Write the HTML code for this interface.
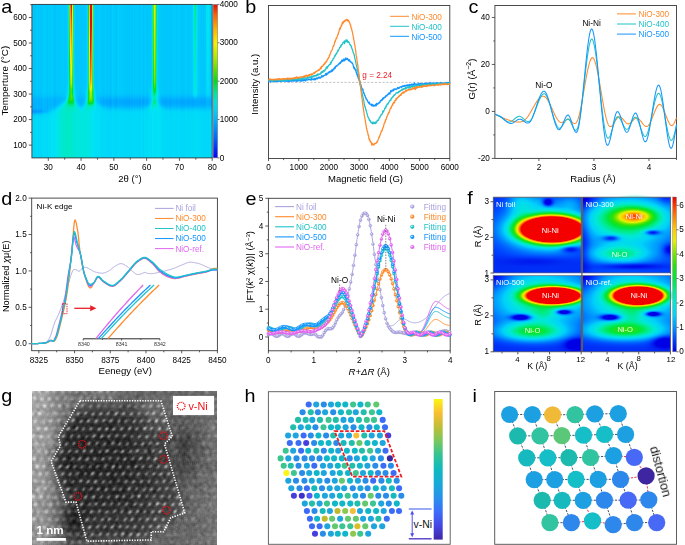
<!DOCTYPE html>
<html><head><meta charset="utf-8"><style>
html,body{margin:0;padding:0;background:#fff;}
#wrap{position:relative;width:685px;height:545px;overflow:hidden;background:#fff;}
canvas{position:absolute;}
svg{position:absolute;left:0;top:0;}
svg text{font-family:"Liberation Sans", sans-serif;}
</style></head><body><div id="wrap">
<svg width="685" height="545" style="position:absolute;left:0;top:0">
<defs>
<linearGradient id="fbA" x1="0" y1="0" x2="0" y2="1"><stop offset="0" stop-color="#00b9ff"/><stop offset="0.58" stop-color="#00b4fd"/><stop offset="0.62" stop-color="#00a0fa"/><stop offset="0.74" stop-color="#0098f8"/><stop offset="0.78" stop-color="#00d4f4"/><stop offset="1" stop-color="#00d8f4"/></linearGradient>
<radialGradient id="fbR"><stop offset="0" stop-color="#f00"/><stop offset="0.55" stop-color="#f00"/><stop offset="0.65" stop-color="#ff0"/><stop offset="0.75" stop-color="#0e0"/><stop offset="0.88" stop-color="#0ee"/><stop offset="1" stop-color="#0ee" stop-opacity="0"/></radialGradient>
<radialGradient id="fbO"><stop offset="0" stop-color="#f80"/><stop offset="0.3" stop-color="#fd0"/><stop offset="0.6" stop-color="#0e0"/><stop offset="1" stop-color="#0ee" stop-opacity="0"/></radialGradient>
</defs>
<rect x="32" y="4.4" width="180.2" height="153.5" fill="url(#fbA)"/>
<rect x="69.8" y="4.4" width="2" height="95" fill="#f0c000"/><rect x="89.3" y="4.4" width="2" height="95" fill="#f03000"/><rect x="153.9" y="4.4" width="2" height="95" fill="#b0e000"/>
<rect x="493.3" y="197.2" width="177.1" height="154.6" fill="#0a6cff"/>
<ellipse cx="553" cy="229.3" rx="48" ry="21" fill="url(#fbR)"/>
<ellipse cx="635" cy="216" rx="40" ry="22" fill="url(#fbO)"/>
<ellipse cx="552" cy="295.5" rx="38" ry="15" fill="url(#fbR)"/>
<ellipse cx="638" cy="295.5" rx="36" ry="16" fill="url(#fbR)"/>
<rect x="32" y="391" width="185" height="154" fill="#6e6e6e"/>
<path d="M79.9,400.8 L160.9,400.8 L172.3,436.5 L164.5,444.0 L184.7,513.0 L170.7,517.7 L163.7,531.8 L151.2,531.8 L151.2,539.9 L86.9,541.2 L76.0,502.1 L65.9,502.1 L51.1,461.4 L60.4,445.8 L58.4,436.5 Z" fill="#3c3c3c"/>
</svg>
<canvas id="cA" width="180" height="154" style="left:32px;top:4px"></canvas>
<canvas id="cF" width="178" height="155" style="left:493px;top:197px"></canvas>
<canvas id="cG" width="185" height="154" style="left:32px;top:391px"></canvas>
<svg width="685" height="545" viewBox="0 0 685 545">
<defs><filter id="rough" x="-10%" y="-10%" width="120%" height="120%"><feTurbulence type="fractalNoise" baseFrequency="0.9" numOctaves="1" seed="3" result="n"/><feDisplacementMap in="SourceGraphic" in2="n" scale="1.4" xChannelSelector="R" yChannelSelector="G"/></filter></defs>
<rect x="31.90" y="4.40" width="180.30" height="153.50" fill="none" stroke="#3a3a3a" stroke-width="0.9" />
<line x1="28.80" y1="145.13" x2="31.90" y2="145.13" stroke="#333" stroke-width="0.8" />
<text x="26.90" y="147.88" font-size="8.2" text-anchor="end" fill="#000" >100</text>
<line x1="28.80" y1="119.60" x2="31.90" y2="119.60" stroke="#333" stroke-width="0.8" />
<text x="26.90" y="122.35" font-size="8.2" text-anchor="end" fill="#000" >200</text>
<line x1="28.80" y1="94.07" x2="31.90" y2="94.07" stroke="#333" stroke-width="0.8" />
<text x="26.90" y="96.82" font-size="8.2" text-anchor="end" fill="#000" >300</text>
<line x1="28.80" y1="68.53" x2="31.90" y2="68.53" stroke="#333" stroke-width="0.8" />
<text x="26.90" y="71.28" font-size="8.2" text-anchor="end" fill="#000" >400</text>
<line x1="28.80" y1="43.00" x2="31.90" y2="43.00" stroke="#333" stroke-width="0.8" />
<text x="26.90" y="45.75" font-size="8.2" text-anchor="end" fill="#000" >500</text>
<line x1="28.80" y1="17.47" x2="31.90" y2="17.47" stroke="#333" stroke-width="0.8" />
<text x="26.90" y="20.22" font-size="8.2" text-anchor="end" fill="#000" >600</text>
<line x1="30.10" y1="132.37" x2="31.90" y2="132.37" stroke="#333" stroke-width="0.8" />
<line x1="30.10" y1="106.83" x2="31.90" y2="106.83" stroke="#333" stroke-width="0.8" />
<line x1="30.10" y1="81.30" x2="31.90" y2="81.30" stroke="#333" stroke-width="0.8" />
<line x1="30.10" y1="55.77" x2="31.90" y2="55.77" stroke="#333" stroke-width="0.8" />
<line x1="30.10" y1="30.23" x2="31.90" y2="30.23" stroke="#333" stroke-width="0.8" />
<line x1="30.10" y1="4.70" x2="31.90" y2="4.70" stroke="#333" stroke-width="0.8" />
<line x1="48.29" y1="157.90" x2="48.29" y2="160.90" stroke="#333" stroke-width="0.8" />
<text x="48.29" y="170.10" font-size="8.2" text-anchor="middle" fill="#000" >30</text>
<line x1="81.07" y1="157.90" x2="81.07" y2="160.90" stroke="#333" stroke-width="0.8" />
<text x="81.07" y="170.10" font-size="8.2" text-anchor="middle" fill="#000" >40</text>
<line x1="113.85" y1="157.90" x2="113.85" y2="160.90" stroke="#333" stroke-width="0.8" />
<text x="113.85" y="170.10" font-size="8.2" text-anchor="middle" fill="#000" >50</text>
<line x1="146.64" y1="157.90" x2="146.64" y2="160.90" stroke="#333" stroke-width="0.8" />
<text x="146.64" y="170.10" font-size="8.2" text-anchor="middle" fill="#000" >60</text>
<line x1="179.42" y1="157.90" x2="179.42" y2="160.90" stroke="#333" stroke-width="0.8" />
<text x="179.42" y="170.10" font-size="8.2" text-anchor="middle" fill="#000" >70</text>
<line x1="212.20" y1="157.90" x2="212.20" y2="160.90" stroke="#333" stroke-width="0.8" />
<text x="212.20" y="170.10" font-size="8.2" text-anchor="middle" fill="#000" >80</text>
<line x1="64.68" y1="157.90" x2="64.68" y2="159.70" stroke="#333" stroke-width="0.8" />
<line x1="97.46" y1="157.90" x2="97.46" y2="159.70" stroke="#333" stroke-width="0.8" />
<line x1="130.25" y1="157.90" x2="130.25" y2="159.70" stroke="#333" stroke-width="0.8" />
<line x1="163.03" y1="157.90" x2="163.03" y2="159.70" stroke="#333" stroke-width="0.8" />
<line x1="195.81" y1="157.90" x2="195.81" y2="159.70" stroke="#333" stroke-width="0.8" />
<text x="130.00" y="182.00" font-size="9.5" text-anchor="middle" fill="#000" >2θ (°)</text>
<text x="8.00" y="80.70" font-size="9.8" text-anchor="middle" fill="#000" transform="rotate(-90 8.00 80.70)" >Temperture (°C)</text>
<defs><linearGradient id="cbA" x1="0" y1="1" x2="0" y2="0"><stop offset="0.0000" stop-color="rgb(0, 0, 255)"/><stop offset="0.1250" stop-color="rgb(0, 100, 255)"/><stop offset="0.2500" stop-color="rgb(0, 180, 255)"/><stop offset="0.3125" stop-color="rgb(0, 210, 245)"/><stop offset="0.3625" stop-color="rgb(0, 225, 220)"/><stop offset="0.4250" stop-color="rgb(0, 230, 150)"/><stop offset="0.5000" stop-color="rgb(0, 220, 30)"/><stop offset="0.5750" stop-color="rgb(90, 225, 0)"/><stop offset="0.6500" stop-color="rgb(170, 235, 0)"/><stop offset="0.7500" stop-color="rgb(250, 240, 0)"/><stop offset="0.8500" stop-color="rgb(255, 170, 0)"/><stop offset="0.9375" stop-color="rgb(250, 90, 0)"/><stop offset="1.0000" stop-color="rgb(230, 10, 0)"/></linearGradient></defs>
<rect x="213.10" y="4.40" width="4.60" height="153.50" fill="url(#cbA)" stroke="#888" stroke-width="0.6" />
<line x1="217.70" y1="157.90" x2="219.50" y2="157.90" stroke="#333" stroke-width="0.7" />
<text x="219.70" y="160.50" font-size="8.2" text-anchor="start" fill="#000" >0</text>
<line x1="217.70" y1="119.53" x2="219.50" y2="119.53" stroke="#333" stroke-width="0.7" />
<text x="219.70" y="122.12" font-size="8.2" text-anchor="start" fill="#000" >1000</text>
<line x1="217.70" y1="81.15" x2="219.50" y2="81.15" stroke="#333" stroke-width="0.7" />
<text x="219.70" y="83.75" font-size="8.2" text-anchor="start" fill="#000" >2000</text>
<line x1="217.70" y1="42.78" x2="219.50" y2="42.78" stroke="#333" stroke-width="0.7" />
<text x="219.70" y="45.38" font-size="8.2" text-anchor="start" fill="#000" >3000</text>
<line x1="217.70" y1="4.40" x2="219.50" y2="4.40" stroke="#333" stroke-width="0.7" />
<text x="219.70" y="7.00" font-size="8.2" text-anchor="start" fill="#000" >4000</text>
<text x="0.00" y="0.00" font-size="18.0" text-anchor="start" fill="#000" transform="translate(1.3,12.8) scale(1.1,1)">a</text>
<rect x="268.50" y="5.50" width="181.30" height="153.00" fill="none" stroke="#3a3a3a" stroke-width="0.9" />
<line x1="268.50" y1="158.50" x2="268.50" y2="161.10" stroke="#333" stroke-width="0.8" />
<text x="268.50" y="170.10" font-size="8.2" text-anchor="middle" fill="#000" >0</text>
<line x1="298.72" y1="158.50" x2="298.72" y2="161.10" stroke="#333" stroke-width="0.8" />
<text x="298.72" y="170.10" font-size="8.2" text-anchor="middle" fill="#000" >1000</text>
<line x1="328.93" y1="158.50" x2="328.93" y2="161.10" stroke="#333" stroke-width="0.8" />
<text x="328.93" y="170.10" font-size="8.2" text-anchor="middle" fill="#000" >2000</text>
<line x1="359.15" y1="158.50" x2="359.15" y2="161.10" stroke="#333" stroke-width="0.8" />
<text x="359.15" y="170.10" font-size="8.2" text-anchor="middle" fill="#000" >3000</text>
<line x1="389.37" y1="158.50" x2="389.37" y2="161.10" stroke="#333" stroke-width="0.8" />
<text x="389.37" y="170.10" font-size="8.2" text-anchor="middle" fill="#000" >4000</text>
<line x1="419.58" y1="158.50" x2="419.58" y2="161.10" stroke="#333" stroke-width="0.8" />
<text x="419.58" y="170.10" font-size="8.2" text-anchor="middle" fill="#000" >5000</text>
<line x1="449.80" y1="158.50" x2="449.80" y2="161.10" stroke="#333" stroke-width="0.8" />
<text x="449.80" y="170.10" font-size="8.2" text-anchor="middle" fill="#000" >6000</text>
<line x1="283.61" y1="158.50" x2="283.61" y2="160.10" stroke="#333" stroke-width="0.8" />
<line x1="313.82" y1="158.50" x2="313.82" y2="160.10" stroke="#333" stroke-width="0.8" />
<line x1="344.04" y1="158.50" x2="344.04" y2="160.10" stroke="#333" stroke-width="0.8" />
<line x1="374.26" y1="158.50" x2="374.26" y2="160.10" stroke="#333" stroke-width="0.8" />
<line x1="404.48" y1="158.50" x2="404.48" y2="160.10" stroke="#333" stroke-width="0.8" />
<line x1="434.69" y1="158.50" x2="434.69" y2="160.10" stroke="#333" stroke-width="0.8" />
<line x1="268.50" y1="82.40" x2="449.80" y2="82.40" stroke="#999" stroke-width="0.6" stroke-dasharray="2.2,1.6"/>
<path d="M268.50,81.88 L268.76,80.02 L269.02,81.23 L269.28,80.83 L269.54,80.88 L269.80,80.97 L270.06,80.24 L270.32,80.97 L270.57,80.71 L270.83,82.42 L271.09,81.15 L271.35,80.92 L271.61,80.94 L271.87,80.79 L272.13,80.63 L272.39,80.90 L272.65,81.26 L272.91,80.96 L273.17,81.45 L273.43,80.97 L273.69,81.06 L273.95,81.69 L274.21,81.28 L274.47,80.84 L274.72,80.97 L274.98,81.27 L275.24,81.85 L275.50,80.93 L275.76,80.94 L276.02,81.46 L276.28,80.67 L276.54,80.92 L276.80,81.40 L277.06,81.28 L277.32,81.07 L277.58,81.31 L277.84,79.84 L278.10,81.45 L278.36,80.62 L278.62,80.32 L278.87,81.13 L279.13,81.31 L279.39,80.82 L279.65,80.55 L279.91,81.02 L280.17,80.98 L280.43,81.59 L280.69,81.31 L280.95,81.07 L281.21,81.46 L281.47,80.90 L281.73,80.58 L281.99,81.23 L282.25,81.22 L282.51,80.88 L282.77,80.63 L283.02,81.06 L283.28,79.88 L283.54,81.25 L283.80,81.16 L284.06,80.23 L284.32,80.96 L284.58,80.51 L284.84,81.25 L285.10,80.04 L285.36,80.52 L285.62,81.22 L285.88,81.41 L286.14,79.96 L286.40,80.67 L286.66,81.03 L286.92,80.61 L287.17,81.57 L287.43,80.34 L287.69,81.02 L287.95,80.39 L288.21,81.47 L288.47,80.83 L288.73,80.67 L288.99,80.06 L289.25,81.56 L289.51,81.14 L289.77,81.14 L290.03,81.30 L290.29,80.94 L290.55,80.49 L290.81,80.41 L291.07,80.40 L291.32,81.37 L291.58,80.09 L291.84,80.47 L292.10,80.58 L292.36,80.82 L292.62,80.97 L292.88,80.13 L293.14,79.90 L293.40,80.67 L293.66,81.22 L293.92,81.00 L294.18,80.74 L294.44,80.49 L294.70,80.76 L294.96,80.50 L295.22,80.98 L295.47,80.22 L295.73,80.64 L295.99,80.52 L296.25,80.81 L296.51,80.65 L296.77,81.71 L297.03,81.21 L297.29,81.20 L297.55,79.54 L297.81,80.32 L298.07,80.18 L298.33,80.70 L298.59,79.36 L298.85,80.97 L299.11,80.91 L299.37,79.78 L299.62,79.91 L299.88,79.98 L300.14,80.36 L300.40,80.63 L300.66,81.29 L300.92,80.20 L301.18,80.65 L301.44,80.34 L301.70,81.09 L301.96,80.58 L302.22,80.87 L302.48,79.67 L302.74,80.08 L303.00,79.76 L303.26,80.86 L303.52,80.43 L303.77,79.94 L304.03,79.85 L304.29,80.29 L304.55,79.69 L304.81,79.55 L305.07,80.22 L305.33,81.17 L305.59,79.82 L305.85,79.64 L306.11,79.31 L306.37,79.21 L306.63,80.10 L306.89,80.24 L307.15,79.79 L307.41,79.93 L307.66,79.79 L307.92,79.78 L308.18,78.92 L308.44,79.42 L308.70,79.68 L308.96,79.20 L309.22,79.32 L309.48,79.12 L309.74,79.33 L310.00,79.90 L310.26,79.23 L310.52,79.32 L310.78,79.78 L311.04,79.66 L311.30,80.16 L311.56,78.18 L311.81,79.66 L312.07,78.93 L312.33,79.21 L312.59,79.53 L312.85,79.62 L313.11,79.55 L313.37,79.05 L313.63,79.76 L313.89,78.73 L314.15,78.75 L314.41,79.20 L314.67,78.44 L314.93,79.81 L315.19,79.16 L315.45,79.72 L315.71,78.50 L315.96,78.26 L316.22,78.49 L316.48,78.73 L316.74,77.97 L317.00,78.42 L317.26,78.15 L317.52,78.95 L317.78,77.67 L318.04,78.52 L318.30,77.54 L318.56,77.29 L318.82,77.35 L319.08,77.01 L319.34,77.66 L319.60,78.06 L319.86,77.50 L320.11,77.67 L320.37,78.13 L320.63,77.30 L320.89,77.17 L321.15,76.81 L321.41,75.99 L321.67,77.19 L321.93,75.70 L322.19,76.92 L322.45,76.45 L322.71,76.97 L322.97,76.19 L323.23,75.66 L323.49,76.19 L323.75,75.56 L324.01,75.65 L324.26,75.64 L324.52,75.41 L324.78,75.25 L325.04,74.75 L325.30,74.97 L325.56,73.73 L325.82,74.70 L326.08,73.96 L326.34,75.12 L326.60,75.05 L326.86,73.06 L327.12,74.08 L327.38,73.76 L327.64,73.07 L327.90,73.79 L328.16,73.05 L328.41,72.12 L328.67,72.79 L328.93,72.67 L329.19,72.62 L329.45,71.66 L329.71,72.52 L329.97,72.39 L330.23,71.10 L330.49,71.17 L330.75,71.29 L331.01,70.79 L331.27,71.92 L331.53,70.80 L331.79,69.86 L332.05,69.77 L332.31,69.96 L332.56,71.10 L332.82,69.42 L333.08,69.36 L333.34,69.34 L333.60,68.77 L333.86,69.90 L334.12,67.99 L334.38,68.49 L334.64,67.90 L334.90,67.92 L335.16,66.60 L335.42,68.09 L335.68,66.71 L335.94,66.54 L336.20,65.71 L336.46,65.57 L336.71,66.09 L336.97,66.08 L337.23,65.68 L337.49,65.70 L337.75,65.15 L338.01,64.48 L338.27,64.72 L338.53,64.32 L338.79,63.66 L339.05,63.91 L339.31,64.00 L339.57,63.13 L339.83,62.54 L340.09,62.96 L340.35,63.45 L340.61,61.95 L340.86,61.80 L341.12,61.56 L341.38,62.19 L341.64,60.12 L341.90,61.27 L342.16,61.60 L342.42,60.19 L342.68,61.43 L342.94,60.69 L343.20,59.88 L343.46,60.20 L343.72,59.00 L343.98,59.47 L344.24,60.84 L344.50,59.06 L344.75,60.66 L345.01,59.40 L345.27,60.00 L345.53,59.37 L345.79,57.92 L346.05,58.93 L346.31,59.40 L346.57,58.57 L346.83,58.47 L347.09,59.57 L347.35,59.00 L347.61,58.42 L347.87,59.13 L348.13,60.20 L348.39,59.49 L348.65,60.51 L348.90,61.03 L349.16,60.28 L349.42,59.74 L349.68,59.85 L349.94,60.87 L350.20,61.69 L350.46,61.58 L350.72,62.04 L350.98,61.72 L351.24,62.51 L351.50,62.37 L351.76,62.83 L352.02,62.61 L352.28,62.83 L352.54,63.94 L352.80,63.98 L353.05,64.53 L353.31,66.03 L353.57,66.04 L353.83,68.45 L354.09,67.73 L354.35,67.29 L354.61,68.74 L354.87,69.06 L355.13,69.00 L355.39,70.73 L355.65,70.17 L355.91,69.37 L356.17,72.45 L356.43,72.22 L356.69,74.22 L356.95,73.56 L357.20,73.92 L357.46,76.35 L357.72,75.41 L357.98,76.93 L358.24,78.45 L358.50,78.34 L358.76,78.96 L359.02,79.82 L359.28,81.03 L359.54,80.74 L359.80,82.38 L360.06,83.11 L360.32,84.97 L360.58,84.04 L360.84,84.42 L361.10,86.20 L361.35,86.23 L361.61,87.39 L361.87,88.02 L362.13,89.39 L362.39,88.96 L362.65,90.02 L362.91,89.16 L363.17,90.89 L363.43,93.09 L363.69,92.36 L363.95,92.99 L364.21,93.30 L364.47,95.05 L364.73,95.41 L364.99,95.14 L365.25,96.88 L365.50,97.18 L365.76,98.04 L366.02,97.69 L366.28,99.69 L366.54,99.35 L366.80,99.49 L367.06,99.69 L367.32,100.30 L367.58,101.41 L367.84,101.10 L368.10,102.32 L368.36,102.37 L368.62,103.19 L368.88,103.18 L369.14,102.93 L369.40,102.07 L369.65,103.71 L369.91,104.26 L370.17,104.09 L370.43,104.54 L370.69,104.10 L370.95,104.32 L371.21,104.13 L371.47,105.69 L371.73,105.06 L371.99,104.76 L372.25,104.33 L372.51,105.12 L372.77,106.16 L373.03,105.59 L373.29,104.88 L373.55,106.21 L373.80,106.20 L374.06,105.90 L374.32,105.74 L374.58,105.92 L374.84,105.48 L375.10,105.54 L375.36,104.50 L375.62,105.79 L375.88,104.91 L376.14,105.88 L376.40,103.26 L376.66,104.80 L376.92,104.81 L377.18,103.84 L377.44,104.16 L377.69,104.16 L377.95,103.87 L378.21,103.00 L378.47,103.04 L378.73,103.53 L378.99,103.48 L379.25,102.55 L379.51,102.31 L379.77,102.16 L380.03,102.43 L380.29,100.93 L380.55,100.53 L380.81,101.16 L381.07,100.17 L381.33,100.24 L381.59,100.39 L381.84,100.37 L382.10,99.19 L382.36,100.05 L382.62,98.26 L382.88,99.38 L383.14,97.86 L383.40,97.78 L383.66,98.66 L383.92,97.78 L384.18,97.29 L384.44,97.24 L384.70,97.52 L384.96,96.96 L385.22,96.72 L385.48,97.11 L385.74,95.82 L385.99,95.71 L386.25,95.44 L386.51,96.18 L386.77,95.83 L387.03,95.76 L387.29,94.76 L387.55,94.45 L387.81,94.81 L388.07,93.85 L388.33,94.34 L388.59,94.05 L388.85,93.01 L389.11,93.15 L389.37,92.92 L389.63,93.77 L389.89,94.05 L390.14,92.31 L390.40,92.18 L390.66,90.67 L390.92,91.90 L391.18,91.59 L391.44,90.80 L391.70,91.67 L391.96,90.16 L392.22,90.75 L392.48,90.78 L392.74,89.83 L393.00,90.85 L393.26,90.80 L393.52,89.27 L393.78,89.11 L394.04,90.08 L394.29,89.58 L394.55,88.78 L394.81,89.15 L395.07,89.11 L395.33,88.96 L395.59,89.36 L395.85,88.99 L396.11,89.63 L396.37,89.29 L396.63,88.78 L396.89,88.88 L397.15,88.91 L397.41,88.46 L397.67,87.29 L397.93,88.32 L398.19,87.79 L398.44,88.53 L398.70,87.61 L398.96,87.74 L399.22,87.54 L399.48,88.18 L399.74,87.28 L400.00,86.96 L400.26,87.18 L400.52,86.70 L400.78,86.94 L401.04,86.77 L401.30,86.85 L401.56,87.65 L401.82,86.34 L402.08,86.50 L402.34,86.31 L402.59,86.70 L402.85,85.66 L403.11,85.86 L403.37,86.14 L403.63,86.38 L403.89,86.02 L404.15,85.72 L404.41,85.47 L404.67,86.14 L404.93,86.57 L405.19,85.93 L405.45,85.81 L405.71,85.89 L405.97,85.13 L406.23,85.41 L406.49,85.38 L406.74,85.63 L407.00,85.42 L407.26,84.77 L407.52,85.92 L407.78,86.17 L408.04,85.13 L408.30,85.43 L408.56,85.32 L408.82,85.55 L409.08,84.36 L409.34,85.89 L409.60,84.80 L409.86,85.64 L410.12,85.01 L410.38,84.74 L410.64,84.83 L410.89,85.32 L411.15,84.41 L411.41,84.62 L411.67,84.54 L411.93,83.90 L412.19,85.36 L412.45,84.98 L412.71,84.65 L412.97,85.21 L413.23,84.14 L413.49,84.54 L413.75,85.40 L414.01,85.01 L414.27,83.42 L414.53,82.86 L414.78,83.95 L415.04,84.95 L415.30,84.18 L415.56,84.28 L415.82,84.65 L416.08,83.91 L416.34,84.42 L416.60,84.67 L416.86,84.50 L417.12,84.44 L417.38,83.94 L417.64,84.46 L417.90,83.99 L418.16,84.79 L418.42,85.37 L418.68,83.78 L418.93,83.08 L419.19,83.89 L419.45,84.25 L419.71,84.55 L419.97,84.55 L420.23,83.65 L420.49,83.63 L420.75,84.58 L421.01,83.46 L421.27,84.46 L421.53,83.83 L421.79,84.28 L422.05,84.23 L422.31,84.25 L422.57,84.25 L422.83,83.40 L423.08,83.98 L423.34,83.83 L423.60,83.96 L423.86,84.36 L424.12,83.66 L424.38,83.45 L424.64,83.42 L424.90,83.60 L425.16,84.07 L425.42,83.35 L425.68,84.23 L425.94,83.82 L426.20,83.57 L426.46,83.06 L426.72,83.76 L426.98,83.95 L427.23,82.83 L427.49,84.15 L427.75,84.34 L428.01,83.74 L428.27,83.80 L428.53,84.64 L428.79,84.10 L429.05,83.15 L429.31,83.53 L429.57,83.45 L429.83,83.45 L430.09,82.46 L430.35,83.83 L430.61,83.20 L430.87,83.54 L431.13,83.40 L431.38,83.83 L431.64,83.31 L431.90,83.08 L432.16,83.65 L432.42,84.02 L432.68,83.26 L432.94,83.99 L433.20,83.50 L433.46,83.14 L433.72,84.03 L433.98,83.00 L434.24,83.79 L434.50,83.12 L434.76,83.52 L435.02,82.79 L435.28,82.95 L435.53,83.76 L435.79,83.38 L436.05,83.31 L436.31,83.09 L436.57,83.46 L436.83,82.67 L437.09,82.78 L437.35,83.18 L437.61,82.89 L437.87,82.94 L438.13,83.20 L438.39,83.16 L438.65,83.12 L438.91,83.91 L439.17,83.63 L439.43,83.71 L439.68,83.17 L439.94,82.97 L440.20,82.56 L440.46,83.02 L440.72,82.28 L440.98,82.91 L441.24,83.46 L441.50,83.82 L441.76,83.54 L442.02,82.77 L442.28,83.33 L442.54,82.79 L442.80,83.45 L443.06,83.06 L443.32,83.45 L443.58,84.16 L443.83,83.47 L444.09,84.04 L444.35,83.15 L444.61,82.93 L444.87,83.61 L445.13,83.77 L445.39,82.82 L445.65,83.08 L445.91,82.45 L446.17,82.95 L446.43,83.39 L446.69,82.99 L446.95,82.79 L447.21,82.44 L447.47,83.16 L447.73,83.33 L447.98,83.24 L448.24,83.10 L448.50,82.47 L448.76,83.70 L449.02,82.96 L449.28,82.92 L449.54,83.27 L449.80,82.09" fill="none" stroke="#1496ff" stroke-width="1.25" stroke-linejoin="round" />
<path d="M268.50,80.34 L268.76,80.31 L269.02,80.49 L269.28,80.84 L269.54,80.53 L269.80,79.69 L270.06,80.23 L270.32,80.42 L270.57,80.40 L270.83,79.88 L271.09,79.74 L271.35,80.54 L271.61,80.46 L271.87,80.33 L272.13,79.70 L272.39,80.98 L272.65,79.27 L272.91,80.19 L273.17,81.08 L273.43,80.26 L273.69,80.40 L273.95,79.88 L274.21,80.80 L274.47,79.83 L274.72,80.39 L274.98,80.34 L275.24,79.90 L275.50,80.61 L275.76,79.76 L276.02,80.02 L276.28,80.26 L276.54,80.11 L276.80,80.43 L277.06,80.60 L277.32,80.14 L277.58,80.04 L277.84,80.04 L278.10,80.09 L278.36,80.53 L278.62,80.14 L278.87,80.36 L279.13,80.17 L279.39,79.88 L279.65,80.51 L279.91,79.79 L280.17,80.18 L280.43,80.73 L280.69,79.75 L280.95,80.13 L281.21,79.54 L281.47,79.94 L281.73,79.56 L281.99,79.98 L282.25,79.90 L282.51,80.15 L282.77,80.69 L283.02,80.19 L283.28,80.32 L283.54,80.04 L283.80,79.96 L284.06,79.72 L284.32,79.34 L284.58,80.05 L284.84,80.64 L285.10,80.18 L285.36,79.78 L285.62,80.62 L285.88,79.80 L286.14,79.71 L286.40,79.47 L286.66,79.55 L286.92,79.82 L287.17,80.68 L287.43,79.81 L287.69,79.47 L287.95,79.63 L288.21,79.76 L288.47,79.16 L288.73,79.87 L288.99,80.09 L289.25,79.92 L289.51,80.02 L289.77,79.25 L290.03,79.08 L290.29,80.24 L290.55,80.15 L290.81,79.09 L291.07,79.77 L291.32,79.68 L291.58,79.87 L291.84,79.72 L292.10,79.41 L292.36,79.68 L292.62,79.64 L292.88,79.54 L293.14,78.80 L293.40,78.31 L293.66,79.18 L293.92,78.82 L294.18,79.57 L294.44,79.74 L294.70,79.53 L294.96,79.25 L295.22,79.41 L295.47,79.84 L295.73,79.04 L295.99,79.69 L296.25,79.58 L296.51,79.38 L296.77,79.85 L297.03,78.93 L297.29,79.59 L297.55,78.79 L297.81,78.83 L298.07,78.68 L298.33,79.28 L298.59,78.68 L298.85,79.07 L299.11,78.54 L299.37,79.44 L299.62,79.73 L299.88,79.03 L300.14,79.60 L300.40,79.11 L300.66,79.76 L300.92,78.85 L301.18,78.11 L301.44,79.38 L301.70,78.66 L301.96,78.24 L302.22,78.37 L302.48,77.92 L302.74,78.51 L303.00,78.09 L303.26,79.15 L303.52,78.76 L303.77,77.72 L304.03,77.75 L304.29,78.12 L304.55,77.49 L304.81,78.24 L305.07,78.22 L305.33,77.86 L305.59,77.92 L305.85,78.34 L306.11,78.70 L306.37,78.69 L306.63,78.00 L306.89,78.31 L307.15,77.56 L307.41,78.02 L307.66,77.37 L307.92,78.07 L308.18,77.14 L308.44,77.21 L308.70,77.58 L308.96,77.78 L309.22,76.83 L309.48,77.18 L309.74,77.42 L310.00,77.41 L310.26,76.86 L310.52,77.22 L310.78,77.00 L311.04,77.69 L311.30,77.24 L311.56,76.32 L311.81,75.84 L312.07,76.83 L312.33,77.25 L312.59,76.71 L312.85,76.97 L313.11,76.26 L313.37,75.77 L313.63,76.67 L313.89,76.28 L314.15,76.47 L314.41,75.42 L314.67,76.06 L314.93,75.59 L315.19,76.17 L315.45,75.42 L315.71,75.31 L315.96,75.22 L316.22,75.99 L316.48,75.30 L316.74,74.82 L317.00,74.58 L317.26,74.45 L317.52,75.52 L317.78,73.84 L318.04,74.18 L318.30,74.76 L318.56,74.89 L318.82,74.12 L319.08,74.43 L319.34,74.28 L319.60,74.24 L319.86,73.64 L320.11,74.27 L320.37,73.41 L320.63,73.90 L320.89,72.46 L321.15,73.28 L321.41,72.04 L321.67,71.74 L321.93,72.54 L322.19,71.70 L322.45,72.13 L322.71,71.19 L322.97,72.31 L323.23,71.31 L323.49,70.54 L323.75,70.97 L324.01,71.10 L324.26,70.05 L324.52,70.46 L324.78,70.98 L325.04,70.15 L325.30,69.46 L325.56,68.92 L325.82,69.24 L326.08,67.92 L326.34,66.88 L326.60,67.79 L326.86,67.29 L327.12,68.43 L327.38,67.32 L327.64,66.44 L327.90,66.04 L328.16,66.57 L328.41,65.56 L328.67,65.36 L328.93,65.27 L329.19,65.02 L329.45,64.68 L329.71,64.33 L329.97,64.58 L330.23,64.42 L330.49,62.32 L330.75,64.12 L331.01,62.48 L331.27,62.66 L331.53,61.24 L331.79,61.39 L332.05,60.93 L332.31,60.46 L332.56,60.43 L332.82,59.89 L333.08,58.61 L333.34,58.64 L333.60,58.65 L333.86,58.19 L334.12,57.21 L334.38,56.79 L334.64,56.41 L334.90,55.46 L335.16,54.90 L335.42,55.96 L335.68,54.46 L335.94,54.26 L336.20,53.35 L336.46,53.98 L336.71,53.76 L336.97,52.25 L337.23,52.18 L337.49,51.05 L337.75,51.94 L338.01,51.04 L338.27,49.64 L338.53,50.31 L338.79,49.39 L339.05,48.98 L339.31,48.52 L339.57,47.54 L339.83,47.19 L340.09,47.41 L340.35,46.64 L340.61,45.76 L340.86,46.98 L341.12,45.39 L341.38,44.84 L341.64,44.41 L341.90,44.82 L342.16,44.64 L342.42,43.93 L342.68,43.97 L342.94,42.40 L343.20,42.74 L343.46,42.44 L343.72,42.46 L343.98,42.51 L344.24,40.93 L344.50,43.58 L344.75,41.24 L345.01,41.77 L345.27,41.93 L345.53,41.85 L345.79,41.46 L346.05,39.68 L346.31,40.67 L346.57,41.70 L346.83,40.82 L347.09,40.81 L347.35,40.19 L347.61,42.28 L347.87,42.05 L348.13,41.46 L348.39,42.09 L348.65,42.35 L348.90,42.07 L349.16,42.85 L349.42,43.48 L349.68,44.02 L349.94,44.83 L350.20,44.58 L350.46,44.79 L350.72,45.78 L350.98,45.75 L351.24,45.98 L351.50,47.93 L351.76,47.73 L352.02,48.69 L352.28,49.70 L352.54,49.47 L352.80,51.22 L353.05,51.93 L353.31,52.48 L353.57,53.63 L353.83,53.90 L354.09,54.03 L354.35,56.08 L354.61,56.73 L354.87,58.76 L355.13,59.48 L355.39,60.12 L355.65,61.55 L355.91,63.42 L356.17,64.46 L356.43,65.21 L356.69,66.45 L356.95,67.27 L357.20,68.59 L357.46,70.25 L357.72,71.13 L357.98,72.65 L358.24,73.15 L358.50,74.15 L358.76,75.45 L359.02,77.49 L359.28,79.81 L359.54,81.06 L359.80,81.18 L360.06,82.20 L360.32,84.86 L360.58,86.01 L360.84,86.31 L361.10,88.99 L361.35,89.81 L361.61,91.77 L361.87,92.51 L362.13,94.10 L362.39,95.05 L362.65,95.59 L362.91,97.23 L363.17,98.20 L363.43,100.25 L363.69,100.40 L363.95,101.26 L364.21,103.63 L364.47,104.99 L364.73,106.24 L364.99,107.09 L365.25,106.67 L365.50,108.12 L365.76,109.17 L366.02,110.40 L366.28,110.12 L366.54,112.19 L366.80,113.19 L367.06,113.32 L367.32,114.69 L367.58,116.03 L367.84,116.10 L368.10,117.34 L368.36,117.95 L368.62,118.23 L368.88,118.78 L369.14,118.90 L369.40,120.30 L369.65,119.83 L369.91,120.14 L370.17,121.32 L370.43,120.90 L370.69,121.87 L370.95,122.52 L371.21,122.26 L371.47,122.51 L371.73,123.17 L371.99,123.26 L372.25,122.15 L372.51,122.39 L372.77,123.94 L373.03,123.48 L373.29,122.16 L373.55,122.57 L373.80,123.31 L374.06,122.72 L374.32,123.44 L374.58,123.14 L374.84,123.25 L375.10,122.21 L375.36,123.02 L375.62,123.57 L375.88,121.87 L376.14,122.80 L376.40,122.38 L376.66,121.94 L376.92,121.29 L377.18,120.41 L377.44,120.26 L377.69,120.83 L377.95,120.61 L378.21,120.40 L378.47,119.90 L378.73,119.50 L378.99,118.40 L379.25,117.60 L379.51,117.96 L379.77,117.71 L380.03,117.07 L380.29,115.79 L380.55,115.90 L380.81,114.95 L381.07,115.38 L381.33,114.30 L381.59,114.32 L381.84,114.13 L382.10,113.58 L382.36,113.77 L382.62,112.00 L382.88,110.97 L383.14,112.16 L383.40,111.94 L383.66,111.50 L383.92,110.43 L384.18,110.10 L384.44,109.43 L384.70,108.23 L384.96,108.15 L385.22,108.26 L385.48,107.25 L385.74,108.09 L385.99,105.86 L386.25,105.99 L386.51,106.36 L386.77,105.04 L387.03,104.34 L387.29,103.80 L387.55,103.71 L387.81,104.45 L388.07,103.47 L388.33,103.13 L388.59,102.20 L388.85,102.51 L389.11,101.74 L389.37,100.84 L389.63,100.70 L389.89,100.67 L390.14,100.80 L390.40,99.82 L390.66,99.75 L390.92,100.18 L391.18,98.42 L391.44,97.86 L391.70,98.66 L391.96,98.07 L392.22,97.49 L392.48,97.36 L392.74,96.76 L393.00,96.89 L393.26,96.18 L393.52,96.47 L393.78,95.21 L394.04,95.12 L394.29,95.32 L394.55,94.77 L394.81,95.10 L395.07,94.49 L395.33,94.00 L395.59,94.14 L395.85,93.54 L396.11,92.82 L396.37,92.81 L396.63,92.76 L396.89,92.71 L397.15,92.79 L397.41,92.98 L397.67,92.62 L397.93,93.02 L398.19,92.59 L398.44,91.71 L398.70,92.42 L398.96,92.02 L399.22,91.07 L399.48,91.28 L399.74,91.49 L400.00,90.93 L400.26,91.15 L400.52,90.71 L400.78,90.71 L401.04,90.09 L401.30,90.28 L401.56,89.80 L401.82,90.16 L402.08,88.92 L402.34,89.75 L402.59,90.06 L402.85,89.63 L403.11,89.24 L403.37,89.39 L403.63,88.63 L403.89,88.54 L404.15,88.65 L404.41,88.65 L404.67,89.07 L404.93,88.11 L405.19,88.90 L405.45,87.62 L405.71,87.89 L405.97,88.15 L406.23,88.61 L406.49,87.72 L406.74,86.94 L407.00,88.03 L407.26,87.75 L407.52,87.20 L407.78,87.14 L408.04,87.23 L408.30,87.51 L408.56,87.70 L408.82,86.67 L409.08,88.29 L409.34,87.18 L409.60,86.97 L409.86,87.38 L410.12,87.06 L410.38,87.99 L410.64,87.38 L410.89,86.67 L411.15,86.61 L411.41,86.51 L411.67,86.52 L411.93,86.91 L412.19,86.28 L412.45,87.22 L412.71,86.43 L412.97,86.35 L413.23,86.78 L413.49,85.46 L413.75,85.86 L414.01,86.49 L414.27,86.18 L414.53,86.13 L414.78,86.26 L415.04,85.79 L415.30,85.93 L415.56,85.38 L415.82,85.12 L416.08,86.42 L416.34,85.44 L416.60,85.50 L416.86,86.36 L417.12,86.18 L417.38,85.47 L417.64,85.43 L417.90,85.58 L418.16,85.18 L418.42,85.78 L418.68,85.57 L418.93,85.53 L419.19,85.76 L419.45,85.71 L419.71,86.15 L419.97,85.98 L420.23,84.60 L420.49,85.66 L420.75,84.79 L421.01,84.63 L421.27,85.49 L421.53,84.88 L421.79,85.01 L422.05,85.55 L422.31,84.81 L422.57,84.68 L422.83,85.16 L423.08,85.50 L423.34,85.19 L423.60,84.31 L423.86,84.65 L424.12,84.83 L424.38,85.65 L424.64,85.21 L424.90,85.16 L425.16,85.28 L425.42,84.65 L425.68,84.94 L425.94,84.92 L426.20,84.31 L426.46,84.67 L426.72,84.88 L426.98,84.20 L427.23,84.93 L427.49,84.89 L427.75,84.98 L428.01,84.24 L428.27,84.57 L428.53,85.08 L428.79,84.80 L429.05,84.15 L429.31,84.53 L429.57,84.98 L429.83,84.38 L430.09,84.54 L430.35,85.37 L430.61,84.34 L430.87,84.29 L431.13,83.92 L431.38,84.04 L431.64,84.85 L431.90,84.20 L432.16,83.78 L432.42,83.86 L432.68,84.21 L432.94,84.49 L433.20,83.89 L433.46,84.43 L433.72,83.95 L433.98,84.26 L434.24,84.31 L434.50,84.32 L434.76,83.91 L435.02,84.00 L435.28,84.24 L435.53,83.54 L435.79,84.08 L436.05,84.19 L436.31,84.38 L436.57,83.95 L436.83,83.88 L437.09,83.99 L437.35,83.65 L437.61,83.83 L437.87,84.05 L438.13,83.99 L438.39,83.48 L438.65,83.73 L438.91,83.05 L439.17,84.13 L439.43,83.62 L439.68,83.89 L439.94,83.38 L440.20,83.75 L440.46,83.93 L440.72,84.12 L440.98,83.24 L441.24,84.04 L441.50,83.66 L441.76,83.42 L442.02,83.87 L442.28,83.58 L442.54,83.56 L442.80,83.40 L443.06,83.73 L443.32,83.65 L443.58,83.57 L443.83,83.27 L444.09,83.42 L444.35,83.75 L444.61,84.06 L444.87,83.57 L445.13,84.09 L445.39,83.56 L445.65,83.15 L445.91,83.77 L446.17,83.18 L446.43,83.67 L446.69,83.90 L446.95,83.39 L447.21,83.46 L447.47,84.38 L447.73,83.56 L447.98,83.56 L448.24,83.74 L448.50,83.42 L448.76,83.41 L449.02,83.57 L449.28,82.57 L449.54,83.93 L449.80,83.03" fill="none" stroke="#21c2c8" stroke-width="1.25" stroke-linejoin="round" />
<path d="M268.50,79.20 L268.76,79.78 L269.02,79.59 L269.28,79.13 L269.54,79.65 L269.80,79.16 L270.06,79.31 L270.32,79.02 L270.57,79.26 L270.83,79.70 L271.09,79.59 L271.35,79.65 L271.61,79.87 L271.87,79.51 L272.13,79.28 L272.39,79.41 L272.65,80.11 L272.91,79.52 L273.17,79.61 L273.43,79.45 L273.69,79.57 L273.95,79.63 L274.21,79.46 L274.47,79.40 L274.72,79.16 L274.98,79.13 L275.24,79.58 L275.50,79.70 L275.76,79.76 L276.02,79.43 L276.28,79.09 L276.54,79.62 L276.80,79.61 L277.06,78.81 L277.32,79.66 L277.58,79.56 L277.84,79.96 L278.10,78.91 L278.36,78.84 L278.62,79.60 L278.87,78.62 L279.13,79.01 L279.39,78.86 L279.65,78.88 L279.91,78.53 L280.17,79.14 L280.43,79.59 L280.69,79.37 L280.95,79.36 L281.21,79.05 L281.47,79.71 L281.73,79.35 L281.99,79.54 L282.25,78.54 L282.51,79.24 L282.77,78.66 L283.02,79.21 L283.28,79.14 L283.54,78.62 L283.80,79.10 L284.06,79.46 L284.32,79.19 L284.58,79.21 L284.84,78.63 L285.10,78.68 L285.36,78.50 L285.62,78.96 L285.88,79.35 L286.14,79.04 L286.40,78.85 L286.66,78.40 L286.92,78.98 L287.17,78.70 L287.43,78.03 L287.69,78.08 L287.95,78.60 L288.21,78.36 L288.47,79.33 L288.73,78.68 L288.99,78.23 L289.25,78.42 L289.51,79.22 L289.77,78.19 L290.03,78.85 L290.29,78.69 L290.55,79.07 L290.81,78.68 L291.07,78.28 L291.32,78.62 L291.58,78.41 L291.84,78.75 L292.10,78.31 L292.36,79.10 L292.62,78.24 L292.88,78.42 L293.14,77.95 L293.40,78.24 L293.66,78.17 L293.92,78.20 L294.18,78.46 L294.44,77.85 L294.70,77.69 L294.96,78.45 L295.22,77.85 L295.47,77.66 L295.73,78.37 L295.99,78.18 L296.25,76.74 L296.51,77.64 L296.77,78.08 L297.03,78.06 L297.29,77.47 L297.55,78.29 L297.81,77.27 L298.07,77.47 L298.33,77.58 L298.59,77.48 L298.85,77.78 L299.11,77.82 L299.37,77.34 L299.62,77.90 L299.88,76.98 L300.14,77.13 L300.40,77.90 L300.66,77.17 L300.92,77.53 L301.18,76.85 L301.44,76.87 L301.70,76.89 L301.96,76.96 L302.22,76.69 L302.48,76.79 L302.74,77.02 L303.00,77.19 L303.26,76.67 L303.52,76.84 L303.77,76.90 L304.03,75.98 L304.29,75.71 L304.55,77.03 L304.81,76.84 L305.07,76.23 L305.33,76.29 L305.59,75.67 L305.85,75.41 L306.11,76.08 L306.37,75.22 L306.63,76.21 L306.89,75.43 L307.15,75.79 L307.41,76.44 L307.66,76.35 L307.92,75.31 L308.18,75.83 L308.44,74.82 L308.70,74.93 L308.96,75.27 L309.22,75.64 L309.48,74.68 L309.74,75.09 L310.00,74.80 L310.26,74.10 L310.52,74.51 L310.78,75.15 L311.04,74.33 L311.30,74.50 L311.56,74.55 L311.81,73.73 L312.07,74.52 L312.33,74.53 L312.59,74.46 L312.85,74.22 L313.11,73.28 L313.37,73.10 L313.63,72.89 L313.89,72.70 L314.15,72.62 L314.41,73.32 L314.67,73.40 L314.93,72.28 L315.19,72.81 L315.45,71.70 L315.71,71.98 L315.96,71.51 L316.22,71.06 L316.48,71.68 L316.74,71.53 L317.00,71.13 L317.26,70.90 L317.52,70.50 L317.78,70.71 L318.04,70.30 L318.30,70.51 L318.56,69.62 L318.82,70.09 L319.08,70.02 L319.34,70.16 L319.60,69.84 L319.86,69.20 L320.11,68.55 L320.37,67.75 L320.63,68.39 L320.89,68.82 L321.15,68.68 L321.41,66.38 L321.67,66.97 L321.93,66.89 L322.19,66.26 L322.45,66.57 L322.71,66.20 L322.97,65.62 L323.23,65.54 L323.49,64.44 L323.75,64.42 L324.01,64.11 L324.26,64.65 L324.52,63.04 L324.78,63.38 L325.04,63.50 L325.30,62.70 L325.56,62.74 L325.82,61.61 L326.08,61.74 L326.34,61.56 L326.60,61.80 L326.86,60.60 L327.12,60.51 L327.38,59.34 L327.64,58.92 L327.90,59.19 L328.16,58.20 L328.41,58.14 L328.67,57.27 L328.93,57.48 L329.19,57.09 L329.45,54.91 L329.71,55.75 L329.97,54.47 L330.23,53.93 L330.49,53.06 L330.75,52.91 L331.01,51.38 L331.27,50.98 L331.53,50.36 L331.79,50.29 L332.05,50.00 L332.31,49.27 L332.56,48.44 L332.82,47.30 L333.08,46.04 L333.34,46.51 L333.60,45.71 L333.86,45.15 L334.12,45.04 L334.38,43.51 L334.64,42.82 L334.90,41.01 L335.16,41.83 L335.42,40.82 L335.68,39.75 L335.94,39.65 L336.20,38.19 L336.46,37.75 L336.71,38.38 L336.97,37.03 L337.23,36.43 L337.49,35.63 L337.75,34.88 L338.01,33.95 L338.27,34.38 L338.53,32.44 L338.79,32.20 L339.05,31.02 L339.31,30.28 L339.57,28.51 L339.83,28.15 L340.09,29.39 L340.35,28.74 L340.61,27.09 L340.86,26.72 L341.12,26.50 L341.38,25.07 L341.64,26.03 L341.90,23.98 L342.16,23.65 L342.42,22.06 L342.68,23.93 L342.94,22.70 L343.20,23.15 L343.46,21.33 L343.72,21.71 L343.98,21.23 L344.24,21.00 L344.50,21.76 L344.75,21.63 L345.01,20.94 L345.27,19.80 L345.53,20.38 L345.79,20.53 L346.05,20.04 L346.31,20.02 L346.57,20.00 L346.83,19.30 L347.09,20.03 L347.35,20.93 L347.61,19.68 L347.87,20.52 L348.13,21.21 L348.39,20.33 L348.65,21.38 L348.90,20.94 L349.16,22.02 L349.42,22.10 L349.68,22.96 L349.94,23.80 L350.20,24.60 L350.46,25.36 L350.72,24.92 L350.98,27.97 L351.24,27.82 L351.50,28.29 L351.76,29.54 L352.02,31.10 L352.28,31.46 L352.54,32.93 L352.80,34.09 L353.05,35.90 L353.31,36.47 L353.57,38.49 L353.83,39.82 L354.09,40.98 L354.35,43.24 L354.61,44.08 L354.87,44.98 L355.13,47.42 L355.39,48.98 L355.65,50.58 L355.91,52.46 L356.17,55.42 L356.43,56.03 L356.69,57.99 L356.95,59.46 L357.20,62.22 L357.46,63.37 L357.72,64.89 L357.98,66.62 L358.24,69.58 L358.50,71.69 L358.76,72.40 L359.02,74.90 L359.28,77.69 L359.54,79.94 L359.80,80.67 L360.06,83.22 L360.32,85.95 L360.58,87.22 L360.84,89.30 L361.10,91.26 L361.35,92.84 L361.61,95.59 L361.87,97.71 L362.13,98.71 L362.39,101.49 L362.65,103.96 L362.91,105.35 L363.17,107.62 L363.43,108.61 L363.69,111.47 L363.95,112.03 L364.21,115.25 L364.47,115.63 L364.73,117.13 L364.99,118.63 L365.25,120.47 L365.50,121.94 L365.76,123.31 L366.02,124.94 L366.28,126.87 L366.54,128.32 L366.80,128.93 L367.06,131.04 L367.32,130.98 L367.58,132.10 L367.84,133.12 L368.10,135.11 L368.36,134.90 L368.62,135.91 L368.88,138.26 L369.14,139.33 L369.40,139.89 L369.65,139.04 L369.91,140.54 L370.17,141.60 L370.43,141.76 L370.69,141.33 L370.95,142.50 L371.21,142.17 L371.47,142.79 L371.73,144.98 L371.99,144.44 L372.25,143.49 L372.51,143.65 L372.77,144.86 L373.03,144.37 L373.29,145.08 L373.55,144.42 L373.80,144.64 L374.06,144.81 L374.32,144.01 L374.58,143.39 L374.84,143.61 L375.10,143.67 L375.36,143.70 L375.62,143.50 L375.88,143.20 L376.14,143.18 L376.40,142.05 L376.66,142.90 L376.92,142.82 L377.18,141.49 L377.44,140.93 L377.69,141.02 L377.95,140.19 L378.21,139.41 L378.47,138.68 L378.73,137.81 L378.99,137.00 L379.25,137.39 L379.51,137.07 L379.77,135.24 L380.03,135.14 L380.29,134.65 L380.55,133.65 L380.81,132.81 L381.07,132.34 L381.33,130.82 L381.59,131.15 L381.84,130.34 L382.10,130.93 L382.36,129.60 L382.62,128.22 L382.88,127.70 L383.14,127.91 L383.40,127.14 L383.66,125.69 L383.92,124.82 L384.18,123.43 L384.44,123.32 L384.70,122.70 L384.96,121.71 L385.22,122.31 L385.48,119.74 L385.74,119.97 L385.99,119.58 L386.25,118.92 L386.51,118.90 L386.77,116.65 L387.03,116.33 L387.29,116.13 L387.55,115.51 L387.81,114.61 L388.07,113.80 L388.33,114.13 L388.59,112.43 L388.85,112.08 L389.11,112.52 L389.37,112.09 L389.63,111.08 L389.89,109.64 L390.14,109.09 L390.40,108.53 L390.66,107.87 L390.92,107.72 L391.18,108.05 L391.44,107.02 L391.70,106.03 L391.96,105.54 L392.22,104.86 L392.48,105.59 L392.74,103.52 L393.00,104.22 L393.26,102.92 L393.52,102.69 L393.78,102.05 L394.04,102.86 L394.29,101.94 L394.55,102.95 L394.81,100.69 L395.07,100.29 L395.33,100.75 L395.59,100.38 L395.85,99.62 L396.11,98.43 L396.37,99.79 L396.63,99.03 L396.89,98.63 L397.15,97.84 L397.41,98.14 L397.67,97.26 L397.93,97.27 L398.19,96.87 L398.44,97.30 L398.70,96.20 L398.96,96.00 L399.22,96.44 L399.48,95.77 L399.74,95.41 L400.00,95.07 L400.26,95.41 L400.52,94.43 L400.78,94.74 L401.04,95.27 L401.30,94.29 L401.56,93.53 L401.82,93.13 L402.08,93.58 L402.34,92.75 L402.59,92.39 L402.85,92.61 L403.11,92.28 L403.37,93.03 L403.63,91.78 L403.89,93.03 L404.15,91.79 L404.41,92.04 L404.67,92.15 L404.93,91.79 L405.19,91.88 L405.45,90.95 L405.71,90.23 L405.97,91.05 L406.23,90.24 L406.49,90.62 L406.74,91.19 L407.00,90.55 L407.26,90.25 L407.52,89.89 L407.78,90.16 L408.04,90.10 L408.30,89.36 L408.56,90.10 L408.82,89.38 L409.08,89.86 L409.34,89.46 L409.60,90.01 L409.86,89.85 L410.12,89.38 L410.38,89.24 L410.64,89.39 L410.89,89.72 L411.15,89.50 L411.41,89.01 L411.67,89.00 L411.93,89.48 L412.19,87.99 L412.45,88.87 L412.71,88.16 L412.97,89.07 L413.23,88.19 L413.49,88.28 L413.75,87.79 L414.01,88.20 L414.27,88.47 L414.53,88.78 L414.78,87.45 L415.04,87.74 L415.30,89.55 L415.56,88.21 L415.82,87.74 L416.08,87.91 L416.34,86.49 L416.60,88.26 L416.86,87.58 L417.12,86.84 L417.38,87.89 L417.64,87.07 L417.90,86.85 L418.16,87.45 L418.42,87.35 L418.68,86.93 L418.93,87.05 L419.19,86.46 L419.45,86.37 L419.71,87.30 L419.97,87.43 L420.23,87.01 L420.49,86.94 L420.75,86.57 L421.01,86.64 L421.27,86.26 L421.53,87.33 L421.79,86.32 L422.05,86.68 L422.31,86.47 L422.57,85.85 L422.83,87.18 L423.08,86.19 L423.34,85.99 L423.60,86.31 L423.86,85.86 L424.12,86.20 L424.38,85.76 L424.64,86.34 L424.90,86.09 L425.16,85.48 L425.42,86.42 L425.68,86.04 L425.94,85.48 L426.20,86.04 L426.46,86.03 L426.72,86.57 L426.98,85.44 L427.23,86.10 L427.49,85.69 L427.75,85.94 L428.01,85.55 L428.27,85.60 L428.53,85.79 L428.79,85.09 L429.05,84.70 L429.31,85.50 L429.57,85.30 L429.83,85.48 L430.09,85.67 L430.35,85.30 L430.61,85.83 L430.87,85.32 L431.13,85.35 L431.38,85.61 L431.64,85.48 L431.90,85.19 L432.16,85.25 L432.42,84.88 L432.68,84.91 L432.94,85.17 L433.20,85.42 L433.46,84.91 L433.72,85.38 L433.98,85.78 L434.24,85.83 L434.50,84.99 L434.76,85.37 L435.02,85.17 L435.28,85.22 L435.53,85.21 L435.79,85.07 L436.05,85.17 L436.31,84.90 L436.57,84.71 L436.83,84.88 L437.09,84.95 L437.35,85.21 L437.61,84.87 L437.87,84.99 L438.13,85.22 L438.39,84.31 L438.65,84.55 L438.91,84.83 L439.17,84.62 L439.43,84.21 L439.68,84.94 L439.94,84.52 L440.20,84.16 L440.46,85.22 L440.72,84.02 L440.98,84.47 L441.24,84.21 L441.50,84.48 L441.76,84.63 L442.02,84.10 L442.28,84.35 L442.54,84.32 L442.80,83.99 L443.06,84.77 L443.32,84.39 L443.58,84.20 L443.83,84.05 L444.09,84.15 L444.35,84.31 L444.61,84.07 L444.87,84.69 L445.13,83.28 L445.39,83.41 L445.65,84.09 L445.91,83.50 L446.17,84.13 L446.43,83.90 L446.69,84.34 L446.95,84.26 L447.21,84.58 L447.47,84.42 L447.73,84.53 L447.98,84.25 L448.24,84.43 L448.50,84.21 L448.76,83.81 L449.02,83.56 L449.28,83.56 L449.54,84.16 L449.80,83.11" fill="none" stroke="#ff8a2b" stroke-width="1.25" stroke-linejoin="round" />
<text x="362.30" y="77.80" font-size="8.2" text-anchor="start" fill="#e8202a" >g = 2.24</text>
<line x1="390.10" y1="16.30" x2="409.00" y2="16.30" stroke="#ff8a2b" stroke-width="1.0" />
<text x="411.40" y="19.60" font-size="8.2" text-anchor="start" fill="#ff8a2b" >NiO-300</text>
<line x1="390.10" y1="26.30" x2="409.00" y2="26.30" stroke="#21c2c8" stroke-width="1.0" />
<text x="411.40" y="29.60" font-size="8.2" text-anchor="start" fill="#21c2c8" >NiO-400</text>
<line x1="390.10" y1="36.30" x2="409.00" y2="36.30" stroke="#1496ff" stroke-width="1.0" />
<text x="411.40" y="39.60" font-size="8.2" text-anchor="start" fill="#1496ff" >NiO-500</text>
<text x="258.40" y="84.30" font-size="9.6" text-anchor="middle" fill="#000" transform="rotate(-90 258.40 84.30)" >Intensity (a.u.)</text>
<text x="365.50" y="182.00" font-size="9.5" text-anchor="middle" fill="#000" >Magnetic field (G)</text>
<text x="0.00" y="0.00" font-size="18.0" text-anchor="start" fill="#000" transform="translate(245.2,12.7) scale(1.1,1)">b</text>
<rect x="494.90" y="5.50" width="181.60" height="152.90" fill="none" stroke="#3a3a3a" stroke-width="0.9" />
<line x1="491.80" y1="158.40" x2="494.90" y2="158.40" stroke="#333" stroke-width="0.8" />
<text x="489.90" y="161.15" font-size="8.2" text-anchor="end" fill="#000" >-20</text>
<line x1="491.80" y1="111.42" x2="494.90" y2="111.42" stroke="#333" stroke-width="0.8" />
<text x="489.90" y="114.17" font-size="8.2" text-anchor="end" fill="#000" >0</text>
<line x1="491.80" y1="64.44" x2="494.90" y2="64.44" stroke="#333" stroke-width="0.8" />
<text x="489.90" y="67.19" font-size="8.2" text-anchor="end" fill="#000" >20</text>
<line x1="491.80" y1="17.46" x2="494.90" y2="17.46" stroke="#333" stroke-width="0.8" />
<text x="489.90" y="20.21" font-size="8.2" text-anchor="end" fill="#000" >40</text>
<line x1="493.30" y1="134.91" x2="494.90" y2="134.91" stroke="#333" stroke-width="0.8" />
<line x1="493.30" y1="87.93" x2="494.90" y2="87.93" stroke="#333" stroke-width="0.8" />
<line x1="493.30" y1="40.95" x2="494.90" y2="40.95" stroke="#333" stroke-width="0.8" />
<line x1="538.92" y1="158.40" x2="538.92" y2="161.00" stroke="#333" stroke-width="0.8" />
<text x="538.92" y="170.10" font-size="8.2" text-anchor="middle" fill="#000" >2</text>
<line x1="593.95" y1="158.40" x2="593.95" y2="161.00" stroke="#333" stroke-width="0.8" />
<text x="593.95" y="170.10" font-size="8.2" text-anchor="middle" fill="#000" >3</text>
<line x1="648.98" y1="158.40" x2="648.98" y2="161.00" stroke="#333" stroke-width="0.8" />
<text x="648.98" y="170.10" font-size="8.2" text-anchor="middle" fill="#000" >4</text>
<line x1="511.41" y1="158.40" x2="511.41" y2="160.00" stroke="#333" stroke-width="0.8" />
<line x1="566.44" y1="158.40" x2="566.44" y2="160.00" stroke="#333" stroke-width="0.8" />
<line x1="621.47" y1="158.40" x2="621.47" y2="160.00" stroke="#333" stroke-width="0.8" />
<line x1="676.50" y1="158.40" x2="676.50" y2="160.00" stroke="#333" stroke-width="0.8" />
<path d="M494.90,114.24 L495.26,114.41 L495.63,114.58 L495.99,114.76 L496.36,114.93 L496.72,115.10 L497.08,115.28 L497.45,115.45 L497.81,115.62 L498.18,115.79 L498.54,115.96 L498.90,116.13 L499.27,116.30 L499.63,116.46 L499.99,116.63 L500.36,116.79 L500.72,116.96 L501.09,117.12 L501.45,117.28 L501.81,117.44 L502.18,117.60 L502.54,117.75 L502.91,117.91 L503.27,118.06 L503.63,118.21 L504.00,118.36 L504.36,118.51 L504.73,118.65 L505.09,118.80 L505.45,118.94 L505.82,119.08 L506.18,119.21 L506.55,119.35 L506.91,119.48 L507.27,119.61 L507.64,119.73 L508.00,119.86 L508.37,119.98 L508.73,120.10 L509.09,120.22 L509.46,120.33 L509.82,120.44 L510.18,120.55 L510.55,120.65 L510.91,120.76 L511.28,120.86 L511.64,120.95 L512.00,121.05 L512.37,121.14 L512.73,121.23 L513.10,121.31 L513.46,121.40 L513.82,121.47 L514.19,121.55 L514.55,121.62 L514.92,121.69 L515.28,121.76 L515.64,121.82 L516.01,121.88 L516.37,121.93 L516.74,121.98 L517.10,122.02 L517.46,122.05 L517.83,122.08 L518.19,122.09 L518.56,122.10 L518.92,122.10 L519.28,122.08 L519.65,122.05 L520.01,122.01 L520.37,121.96 L520.74,121.89 L521.10,121.80 L521.47,121.70 L521.83,121.58 L522.19,121.45 L522.56,121.29 L522.92,121.12 L523.29,120.92 L523.65,120.71 L524.01,120.47 L524.38,120.21 L524.74,119.93 L525.11,119.62 L525.47,119.29 L525.83,118.93 L526.20,118.54 L526.56,118.13 L526.93,117.69 L527.29,117.23 L527.65,116.74 L528.02,116.23 L528.38,115.70 L528.75,115.16 L529.11,114.59 L529.47,114.01 L529.84,113.42 L530.20,112.81 L530.56,112.20 L530.93,111.57 L531.29,110.94 L531.66,110.30 L532.02,109.66 L532.38,109.01 L532.75,108.37 L533.11,107.72 L533.48,107.08 L533.84,106.44 L534.20,105.80 L534.57,105.17 L534.93,104.55 L535.30,103.94 L535.66,103.34 L536.02,102.76 L536.39,102.19 L536.75,101.63 L537.12,101.09 L537.48,100.58 L537.84,100.08 L538.21,99.60 L538.57,99.15 L538.94,98.73 L539.30,98.33 L539.66,97.96 L540.03,97.62 L540.39,97.32 L540.75,97.05 L541.12,96.81 L541.48,96.61 L541.85,96.44 L542.21,96.32 L542.57,96.24 L542.94,96.20 L543.30,96.21 L543.67,96.26 L544.03,96.36 L544.39,96.51 L544.76,96.71 L545.12,96.96 L545.49,97.27 L545.85,97.62 L546.21,98.02 L546.58,98.47 L546.94,98.96 L547.31,99.48 L547.67,100.05 L548.03,100.64 L548.40,101.27 L548.76,101.93 L549.13,102.61 L549.49,103.32 L549.85,104.05 L550.22,104.79 L550.58,105.55 L550.94,106.33 L551.31,107.11 L551.67,107.90 L552.04,108.70 L552.40,109.50 L552.76,110.30 L553.13,111.09 L553.49,111.88 L553.86,112.66 L554.22,113.43 L554.58,114.19 L554.95,114.93 L555.31,115.65 L555.68,116.35 L556.04,117.03 L556.40,117.68 L556.77,118.30 L557.13,118.88 L557.50,119.44 L557.86,119.95 L558.22,120.43 L558.59,120.86 L558.95,121.25 L559.32,121.59 L559.68,121.88 L560.04,122.12 L560.41,122.30 L560.77,122.42 L561.13,122.49 L561.50,122.49 L561.86,122.44 L562.23,122.34 L562.59,122.21 L562.95,122.03 L563.32,121.83 L563.68,121.61 L564.05,121.37 L564.41,121.12 L564.77,120.86 L565.14,120.60 L565.50,120.36 L565.87,120.12 L566.23,119.91 L566.59,119.72 L566.96,119.56 L567.32,119.44 L567.69,119.36 L568.05,119.33 L568.41,119.36 L568.78,119.45 L569.14,119.60 L569.51,119.80 L569.87,120.05 L570.23,120.33 L570.60,120.64 L570.96,120.97 L571.32,121.32 L571.69,121.66 L572.05,122.00 L572.42,122.32 L572.78,122.62 L573.14,122.88 L573.51,123.11 L573.87,123.28 L574.24,123.40 L574.60,123.45 L574.96,123.43 L575.33,123.32 L575.69,123.12 L576.06,122.81 L576.42,122.40 L576.78,121.87 L577.15,121.22 L577.51,120.43 L577.88,119.50 L578.24,118.43 L578.60,117.24 L578.97,115.94 L579.33,114.52 L579.70,113.01 L580.06,111.40 L580.42,109.70 L580.79,107.93 L581.15,106.09 L581.51,104.19 L581.88,102.23 L582.24,100.22 L582.61,98.18 L582.97,96.11 L583.33,94.02 L583.70,91.91 L584.06,89.80 L584.43,87.68 L584.79,85.58 L585.15,83.50 L585.52,81.44 L585.88,79.41 L586.25,77.42 L586.61,75.49 L586.97,73.61 L587.34,71.79 L587.70,70.05 L588.07,68.39 L588.43,66.81 L588.79,65.34 L589.16,63.96 L589.52,62.70 L589.89,61.56 L590.25,60.55 L590.61,59.68 L590.98,58.95 L591.34,58.37 L591.70,57.95 L592.07,57.70 L592.43,57.62 L592.80,57.72 L593.16,57.99 L593.52,58.43 L593.89,59.02 L594.25,59.76 L594.62,60.63 L594.98,61.65 L595.34,62.79 L595.71,64.04 L596.07,65.41 L596.44,66.89 L596.80,68.45 L597.16,70.11 L597.53,71.85 L597.89,73.66 L598.26,75.54 L598.62,77.48 L598.98,79.47 L599.35,81.50 L599.71,83.57 L600.08,85.67 L600.44,87.79 L600.80,89.93 L601.17,92.07 L601.53,94.21 L601.89,96.35 L602.26,98.47 L602.62,100.56 L602.99,102.63 L603.35,104.66 L603.71,106.64 L604.08,108.57 L604.44,110.44 L604.81,112.24 L605.17,113.97 L605.53,115.61 L605.90,117.17 L606.26,118.63 L606.63,119.98 L606.99,121.22 L607.35,122.34 L607.72,123.34 L608.08,124.20 L608.45,124.92 L608.81,125.49 L609.17,125.94 L609.54,126.26 L609.90,126.46 L610.27,126.55 L610.63,126.54 L610.99,126.43 L611.36,126.24 L611.72,125.98 L612.08,125.64 L612.45,125.24 L612.81,124.79 L613.18,124.29 L613.54,123.76 L613.90,123.20 L614.27,122.61 L614.63,122.02 L615.00,121.41 L615.36,120.81 L615.72,120.22 L616.09,119.65 L616.45,119.11 L616.82,118.60 L617.18,118.13 L617.54,117.72 L617.91,117.36 L618.27,117.07 L618.64,116.86 L619.00,116.73 L619.36,116.67 L619.73,116.70 L620.09,116.79 L620.46,116.94 L620.82,117.15 L621.18,117.41 L621.55,117.71 L621.91,118.05 L622.27,118.42 L622.64,118.82 L623.00,119.24 L623.37,119.67 L623.73,120.12 L624.09,120.56 L624.46,121.00 L624.82,121.43 L625.19,121.84 L625.55,122.24 L625.91,122.60 L626.28,122.93 L626.64,123.22 L627.01,123.47 L627.37,123.66 L627.73,123.80 L628.10,123.87 L628.46,123.88 L628.83,123.82 L629.19,123.70 L629.55,123.53 L629.92,123.32 L630.28,123.06 L630.65,122.77 L631.01,122.45 L631.37,122.11 L631.74,121.75 L632.10,121.38 L632.46,121.00 L632.83,120.62 L633.19,120.24 L633.56,119.88 L633.92,119.53 L634.28,119.20 L634.65,118.90 L635.01,118.63 L635.38,118.40 L635.74,118.22 L636.10,118.09 L636.47,118.01 L636.83,117.99 L637.20,118.04 L637.56,118.16 L637.92,118.33 L638.29,118.55 L638.65,118.83 L639.02,119.14 L639.38,119.50 L639.74,119.88 L640.11,120.29 L640.47,120.73 L640.84,121.18 L641.20,121.64 L641.56,122.11 L641.93,122.58 L642.29,123.05 L642.65,123.51 L643.02,123.95 L643.38,124.38 L643.75,124.78 L644.11,125.15 L644.47,125.48 L644.84,125.78 L645.20,126.03 L645.57,126.23 L645.93,126.37 L646.29,126.46 L646.66,126.48 L647.02,126.42 L647.39,126.29 L647.75,126.08 L648.11,125.79 L648.48,125.40 L648.84,124.94 L649.21,124.41 L649.57,123.81 L649.93,123.15 L650.30,122.43 L650.66,121.67 L651.03,120.86 L651.39,120.02 L651.75,119.15 L652.12,118.25 L652.48,117.33 L652.84,116.40 L653.21,115.47 L653.57,114.53 L653.94,113.60 L654.30,112.68 L654.66,111.78 L655.03,110.90 L655.39,110.05 L655.76,109.23 L656.12,108.46 L656.48,107.73 L656.85,107.06 L657.21,106.45 L657.58,105.90 L657.94,105.43 L658.30,105.03 L658.67,104.72 L659.03,104.49 L659.40,104.36 L659.76,104.33 L660.12,104.41 L660.49,104.60 L660.85,104.89 L661.22,105.28 L661.58,105.75 L661.94,106.30 L662.31,106.92 L662.67,107.62 L663.03,108.37 L663.40,109.17 L663.76,110.02 L664.13,110.90 L664.49,111.82 L664.85,112.76 L665.22,113.71 L665.58,114.67 L665.95,115.64 L666.31,116.60 L666.67,117.55 L667.04,118.48 L667.40,119.39 L667.77,120.26 L668.13,121.09 L668.49,121.87 L668.86,122.59 L669.22,123.26 L669.59,123.86 L669.95,124.38 L670.31,124.81 L670.68,125.16 L671.04,125.41 L671.41,125.55 L671.77,125.59 L672.13,125.50 L672.50,125.29 L672.86,124.97 L673.22,124.54 L673.59,124.02 L673.95,123.42 L674.32,122.75 L674.68,122.01 L675.04,121.22 L675.41,120.39 L675.77,119.53 L676.14,118.65 L676.50,117.76" fill="none" stroke="#ff8a2b" stroke-width="1.05" stroke-linejoin="round" />
<path d="M494.90,114.24 L495.26,114.38 L495.63,114.53 L495.99,114.67 L496.36,114.82 L496.72,114.97 L497.08,115.13 L497.45,115.28 L497.81,115.45 L498.18,115.62 L498.54,115.79 L498.90,115.97 L499.27,116.16 L499.63,116.36 L499.99,116.56 L500.36,116.78 L500.72,117.00 L501.09,117.24 L501.45,117.49 L501.81,117.75 L502.18,118.02 L502.54,118.30 L502.91,118.58 L503.27,118.87 L503.63,119.16 L504.00,119.45 L504.36,119.73 L504.73,120.01 L505.09,120.28 L505.45,120.54 L505.82,120.78 L506.18,121.01 L506.55,121.23 L506.91,121.42 L507.27,121.59 L507.64,121.74 L508.00,121.86 L508.37,121.95 L508.73,122.01 L509.09,122.04 L509.46,122.03 L509.82,121.98 L510.18,121.89 L510.55,121.77 L510.91,121.61 L511.28,121.42 L511.64,121.21 L512.00,120.97 L512.37,120.71 L512.73,120.43 L513.10,120.15 L513.46,119.85 L513.82,119.54 L514.19,119.23 L514.55,118.92 L514.92,118.61 L515.28,118.31 L515.64,118.02 L516.01,117.74 L516.37,117.47 L516.74,117.23 L517.10,117.01 L517.46,116.81 L517.83,116.64 L518.19,116.51 L518.56,116.41 L518.92,116.34 L519.28,116.32 L519.65,116.35 L520.01,116.42 L520.37,116.54 L520.74,116.70 L521.10,116.89 L521.47,117.12 L521.83,117.37 L522.19,117.64 L522.56,117.94 L522.92,118.25 L523.29,118.56 L523.65,118.89 L524.01,119.21 L524.38,119.53 L524.74,119.85 L525.11,120.15 L525.47,120.44 L525.83,120.70 L526.20,120.95 L526.56,121.16 L526.93,121.34 L527.29,121.48 L527.65,121.58 L528.02,121.63 L528.38,121.64 L528.75,121.58 L529.11,121.47 L529.47,121.30 L529.84,121.05 L530.20,120.74 L530.56,120.35 L530.93,119.89 L531.29,119.36 L531.66,118.78 L532.02,118.13 L532.38,117.44 L532.75,116.69 L533.11,115.90 L533.48,115.07 L533.84,114.21 L534.20,113.32 L534.57,112.40 L534.93,111.46 L535.30,110.50 L535.66,109.53 L536.02,108.55 L536.39,107.56 L536.75,106.58 L537.12,105.60 L537.48,104.63 L537.84,103.67 L538.21,102.73 L538.57,101.81 L538.94,100.92 L539.30,100.06 L539.66,99.24 L540.03,98.46 L540.39,97.72 L540.75,97.03 L541.12,96.39 L541.48,95.81 L541.85,95.29 L542.21,94.84 L542.57,94.46 L542.94,94.15 L543.30,93.93 L543.67,93.78 L544.03,93.73 L544.39,93.77 L544.76,93.90 L545.12,94.14 L545.49,94.48 L545.85,94.92 L546.21,95.44 L546.58,96.06 L546.94,96.75 L547.31,97.52 L547.67,98.35 L548.03,99.25 L548.40,100.21 L548.76,101.22 L549.13,102.27 L549.49,103.37 L549.85,104.50 L550.22,105.66 L550.58,106.85 L550.94,108.06 L551.31,109.28 L551.67,110.50 L552.04,111.73 L552.40,112.96 L552.76,114.18 L553.13,115.38 L553.49,116.57 L553.86,117.73 L554.22,118.86 L554.58,119.95 L554.95,121.00 L555.31,122.00 L555.68,122.96 L556.04,123.85 L556.40,124.68 L556.77,125.43 L557.13,126.12 L557.50,126.72 L557.86,127.24 L558.22,127.67 L558.59,127.99 L558.95,128.22 L559.32,128.34 L559.68,128.34 L560.04,128.25 L560.41,128.06 L560.77,127.78 L561.13,127.44 L561.50,127.02 L561.86,126.55 L562.23,126.03 L562.59,125.47 L562.95,124.89 L563.32,124.28 L563.68,123.67 L564.05,123.05 L564.41,122.45 L564.77,121.86 L565.14,121.30 L565.50,120.78 L565.87,120.30 L566.23,119.88 L566.59,119.52 L566.96,119.24 L567.32,119.04 L567.69,118.94 L568.05,118.93 L568.41,119.04 L568.78,119.27 L569.14,119.62 L569.51,120.08 L569.87,120.63 L570.23,121.25 L570.60,121.95 L570.96,122.69 L571.32,123.47 L571.69,124.27 L572.05,125.07 L572.42,125.87 L572.78,126.65 L573.14,127.39 L573.51,128.09 L573.87,128.72 L574.24,129.27 L574.60,129.72 L574.96,130.07 L575.33,130.30 L575.69,130.40 L576.06,130.34 L576.42,130.12 L576.78,129.72 L577.15,129.13 L577.51,128.33 L577.88,127.31 L578.24,126.06 L578.60,124.57 L578.97,122.87 L579.33,120.97 L579.70,118.88 L580.06,116.62 L580.42,114.20 L580.79,111.63 L581.15,108.94 L581.51,106.13 L581.88,103.22 L582.24,100.22 L582.61,97.15 L582.97,94.02 L583.33,90.85 L583.70,87.65 L584.06,84.44 L584.43,81.22 L584.79,78.02 L585.15,74.85 L585.52,71.72 L585.88,68.65 L586.25,65.65 L586.61,62.74 L586.97,59.93 L587.34,57.23 L587.70,54.66 L588.07,52.24 L588.43,49.97 L588.79,47.88 L589.16,45.97 L589.52,44.26 L589.89,42.78 L590.25,41.52 L590.61,40.50 L590.98,39.75 L591.34,39.27 L591.70,39.07 L592.07,39.18 L592.43,39.57 L592.80,40.25 L593.16,41.19 L593.52,42.38 L593.89,43.81 L594.25,45.46 L594.62,47.32 L594.98,49.38 L595.34,51.62 L595.71,54.03 L596.07,56.59 L596.44,59.30 L596.80,62.13 L597.16,65.07 L597.53,68.12 L597.89,71.25 L598.26,74.45 L598.62,77.71 L598.98,81.01 L599.35,84.35 L599.71,87.70 L600.08,91.06 L600.44,94.40 L600.80,97.73 L601.17,101.01 L601.53,104.24 L601.89,107.41 L602.26,110.50 L602.62,113.49 L602.99,116.38 L603.35,119.14 L603.71,121.78 L604.08,124.26 L604.44,126.58 L604.81,128.73 L605.17,130.69 L605.53,132.45 L605.90,133.98 L606.26,135.29 L606.63,136.36 L606.99,137.17 L607.35,137.74 L607.72,138.08 L608.08,138.21 L608.45,138.14 L608.81,137.90 L609.17,137.48 L609.54,136.92 L609.90,136.22 L610.27,135.40 L610.63,134.47 L610.99,133.46 L611.36,132.36 L611.72,131.21 L612.08,130.01 L612.45,128.78 L612.81,127.54 L613.18,126.30 L613.54,125.07 L613.90,123.87 L614.27,122.72 L614.63,121.63 L615.00,120.61 L615.36,119.69 L615.72,118.87 L616.09,118.17 L616.45,117.61 L616.82,117.20 L617.18,116.93 L617.54,116.80 L617.91,116.80 L618.27,116.91 L618.64,117.13 L619.00,117.45 L619.36,117.85 L619.73,118.34 L620.09,118.89 L620.46,119.50 L620.82,120.15 L621.18,120.85 L621.55,121.57 L621.91,122.32 L622.27,123.07 L622.64,123.82 L623.00,124.56 L623.37,125.29 L623.73,125.98 L624.09,126.63 L624.46,127.24 L624.82,127.78 L625.19,128.26 L625.55,128.65 L625.91,128.96 L626.28,129.18 L626.64,129.28 L627.01,129.27 L627.37,129.13 L627.73,128.88 L628.10,128.52 L628.46,128.08 L628.83,127.55 L629.19,126.96 L629.55,126.30 L629.92,125.61 L630.28,124.87 L630.65,124.11 L631.01,123.34 L631.37,122.57 L631.74,121.80 L632.10,121.06 L632.46,120.35 L632.83,119.69 L633.19,119.07 L633.56,118.53 L633.92,118.06 L634.28,117.68 L634.65,117.40 L635.01,117.23 L635.38,117.19 L635.74,117.27 L636.10,117.50 L636.47,117.87 L636.83,118.36 L637.20,118.96 L637.56,119.66 L637.92,120.45 L638.29,121.31 L638.65,122.24 L639.02,123.22 L639.38,124.25 L639.74,125.30 L640.11,126.37 L640.47,127.44 L640.84,128.51 L641.20,129.56 L641.56,130.57 L641.93,131.55 L642.29,132.47 L642.65,133.33 L643.02,134.11 L643.38,134.80 L643.75,135.38 L644.11,135.86 L644.47,136.21 L644.84,136.42 L645.20,136.48 L645.57,136.39 L645.93,136.12 L646.29,135.68 L646.66,135.08 L647.02,134.34 L647.39,133.45 L647.75,132.44 L648.11,131.31 L648.48,130.08 L648.84,128.74 L649.21,127.32 L649.57,125.82 L649.93,124.25 L650.30,122.63 L650.66,120.96 L651.03,119.26 L651.39,117.53 L651.75,115.78 L652.12,114.03 L652.48,112.29 L652.84,110.56 L653.21,108.85 L653.57,107.18 L653.94,105.56 L654.30,104.00 L654.66,102.50 L655.03,101.07 L655.39,99.74 L655.76,98.50 L656.12,97.37 L656.48,96.36 L656.85,95.48 L657.21,94.73 L657.58,94.14 L657.94,93.70 L658.30,93.43 L658.67,93.35 L659.03,93.45 L659.40,93.75 L659.76,94.26 L660.12,94.97 L660.49,95.86 L660.85,96.93 L661.22,98.15 L661.58,99.52 L661.94,101.02 L662.31,102.64 L662.67,104.35 L663.03,106.16 L663.40,108.04 L663.76,109.98 L664.13,111.97 L664.49,114.00 L664.85,116.04 L665.22,118.09 L665.58,120.13 L665.95,122.15 L666.31,124.13 L666.67,126.06 L667.04,127.93 L667.40,129.72 L667.77,131.42 L668.13,133.02 L668.49,134.49 L668.86,135.84 L669.22,137.03 L669.59,138.07 L669.95,138.93 L670.31,139.60 L670.68,140.08 L671.04,140.33 L671.41,140.36 L671.77,140.19 L672.13,139.81 L672.50,139.26 L672.86,138.53 L673.22,137.66 L673.59,136.65 L673.95,135.53 L674.32,134.29 L674.68,132.97 L675.04,131.57 L675.41,130.11 L675.77,128.60 L676.14,127.06 L676.50,125.51" fill="none" stroke="#21c2c8" stroke-width="1.05" stroke-linejoin="round" />
<path d="M494.90,114.24 L495.26,114.36 L495.63,114.48 L495.99,114.61 L496.36,114.74 L496.72,114.87 L497.08,115.00 L497.45,115.14 L497.81,115.29 L498.18,115.44 L498.54,115.60 L498.90,115.77 L499.27,115.95 L499.63,116.14 L499.99,116.33 L500.36,116.54 L500.72,116.77 L501.09,117.00 L501.45,117.25 L501.81,117.52 L502.18,117.80 L502.54,118.09 L502.91,118.39 L503.27,118.70 L503.63,119.01 L504.00,119.33 L504.36,119.64 L504.73,119.96 L505.09,120.28 L505.45,120.59 L505.82,120.90 L506.18,121.19 L506.55,121.48 L506.91,121.76 L507.27,122.02 L507.64,122.26 L508.00,122.49 L508.37,122.70 L508.73,122.89 L509.09,123.05 L509.46,123.19 L509.82,123.30 L510.18,123.38 L510.55,123.42 L510.91,123.44 L511.28,123.42 L511.64,123.36 L512.00,123.26 L512.37,123.14 L512.73,122.98 L513.10,122.80 L513.46,122.60 L513.82,122.37 L514.19,122.14 L514.55,121.89 L514.92,121.63 L515.28,121.37 L515.64,121.11 L516.01,120.85 L516.37,120.59 L516.74,120.35 L517.10,120.12 L517.46,119.90 L517.83,119.71 L518.19,119.54 L518.56,119.39 L518.92,119.28 L519.28,119.20 L519.65,119.15 L520.01,119.15 L520.37,119.20 L520.74,119.28 L521.10,119.41 L521.47,119.57 L521.83,119.76 L522.19,119.98 L522.56,120.21 L522.92,120.47 L523.29,120.73 L523.65,121.00 L524.01,121.27 L524.38,121.54 L524.74,121.81 L525.11,122.06 L525.47,122.29 L525.83,122.50 L526.20,122.69 L526.56,122.84 L526.93,122.96 L527.29,123.04 L527.65,123.08 L528.02,123.06 L528.38,122.99 L528.75,122.86 L529.11,122.67 L529.47,122.40 L529.84,122.07 L530.20,121.65 L530.56,121.16 L530.93,120.59 L531.29,119.95 L531.66,119.25 L532.02,118.48 L532.38,117.66 L532.75,116.79 L533.11,115.87 L533.48,114.90 L533.84,113.91 L534.20,112.88 L534.57,111.82 L534.93,110.75 L535.30,109.66 L535.66,108.55 L536.02,107.44 L536.39,106.33 L536.75,105.21 L537.12,104.11 L537.48,103.02 L537.84,101.95 L538.21,100.90 L538.57,99.88 L538.94,98.89 L539.30,97.94 L539.66,97.03 L540.03,96.17 L540.39,95.36 L540.75,94.61 L541.12,93.92 L541.48,93.29 L541.85,92.74 L542.21,92.27 L542.57,91.88 L542.94,91.57 L543.30,91.35 L543.67,91.24 L544.03,91.22 L544.39,91.31 L544.76,91.51 L545.12,91.83 L545.49,92.26 L545.85,92.80 L546.21,93.45 L546.58,94.19 L546.94,95.02 L547.31,95.94 L547.67,96.93 L548.03,98.00 L548.40,99.12 L548.76,100.31 L549.13,101.54 L549.49,102.82 L549.85,104.13 L550.22,105.48 L550.58,106.85 L550.94,108.24 L551.31,109.64 L551.67,111.04 L552.04,112.44 L552.40,113.83 L552.76,115.20 L553.13,116.56 L553.49,117.88 L553.86,119.17 L554.22,120.41 L554.58,121.61 L554.95,122.75 L555.31,123.83 L555.68,124.84 L556.04,125.78 L556.40,126.63 L556.77,127.40 L557.13,128.07 L557.50,128.64 L557.86,129.10 L558.22,129.45 L558.59,129.67 L558.95,129.77 L559.32,129.73 L559.68,129.56 L560.04,129.26 L560.41,128.84 L560.77,128.32 L561.13,127.71 L561.50,127.02 L561.86,126.26 L562.23,125.45 L562.59,124.60 L562.95,123.71 L563.32,122.81 L563.68,121.91 L564.05,121.01 L564.41,120.13 L564.77,119.29 L565.14,118.48 L565.50,117.74 L565.87,117.06 L566.23,116.46 L566.59,115.95 L566.96,115.55 L567.32,115.27 L567.69,115.11 L568.05,115.10 L568.41,115.24 L568.78,115.55 L569.14,116.02 L569.51,116.64 L569.87,117.39 L570.23,118.25 L570.60,119.21 L570.96,120.24 L571.32,121.33 L571.69,122.46 L572.05,123.61 L572.42,124.76 L572.78,125.90 L573.14,127.00 L573.51,128.05 L573.87,129.02 L574.24,129.91 L574.60,130.70 L574.96,131.35 L575.33,131.87 L575.69,132.22 L576.06,132.39 L576.42,132.36 L576.78,132.12 L577.15,131.64 L577.51,130.90 L577.88,129.90 L578.24,128.61 L578.60,127.03 L578.97,125.19 L579.33,123.10 L579.70,120.78 L580.06,118.24 L580.42,115.51 L580.79,112.59 L581.15,109.52 L581.51,106.30 L581.88,102.96 L582.24,99.51 L582.61,95.96 L582.97,92.34 L583.33,88.67 L583.70,84.96 L584.06,81.22 L584.43,77.49 L584.79,73.76 L585.15,70.07 L585.52,66.43 L585.88,62.85 L586.25,59.36 L586.61,55.97 L586.97,52.69 L587.34,49.56 L587.70,46.57 L588.07,43.76 L588.43,41.14 L588.79,38.73 L589.16,36.54 L589.52,34.59 L589.89,32.90 L590.25,31.49 L590.61,30.37 L590.98,29.56 L591.34,29.09 L591.70,28.96 L592.07,29.19 L592.43,29.77 L592.80,30.69 L593.16,31.92 L593.52,33.46 L593.89,35.28 L594.25,37.36 L594.62,39.69 L594.98,42.26 L595.34,45.04 L595.71,48.02 L596.07,51.18 L596.44,54.50 L596.80,57.97 L597.16,61.57 L597.53,65.28 L597.89,69.08 L598.26,72.97 L598.62,76.91 L598.98,80.90 L599.35,84.91 L599.71,88.93 L600.08,92.95 L600.44,96.94 L600.80,100.89 L601.17,104.77 L601.53,108.59 L601.89,112.30 L602.26,115.91 L602.62,119.39 L602.99,122.73 L603.35,125.90 L603.71,128.89 L604.08,131.69 L604.44,134.27 L604.81,136.63 L605.17,138.73 L605.53,140.57 L605.90,142.13 L606.26,143.39 L606.63,144.34 L606.99,144.95 L607.35,145.26 L607.72,145.28 L608.08,145.02 L608.45,144.52 L608.81,143.79 L609.17,142.85 L609.54,141.72 L609.90,140.43 L610.27,139.00 L610.63,137.44 L610.99,135.77 L611.36,134.02 L611.72,132.21 L612.08,130.36 L612.45,128.49 L612.81,126.62 L613.18,124.77 L613.54,122.96 L613.90,121.21 L614.27,119.55 L614.63,117.99 L615.00,116.55 L615.36,115.26 L615.72,114.13 L616.09,113.20 L616.45,112.47 L616.82,111.96 L617.18,111.67 L617.54,111.59 L617.91,111.70 L618.27,111.98 L618.64,112.43 L619.00,113.01 L619.36,113.73 L619.73,114.56 L620.09,115.49 L620.46,116.51 L620.82,117.60 L621.18,118.74 L621.55,119.92 L621.91,121.13 L622.27,122.35 L622.64,123.56 L623.00,124.76 L623.37,125.92 L623.73,127.03 L624.09,128.07 L624.46,129.04 L624.82,129.91 L625.19,130.67 L625.55,131.31 L625.91,131.81 L626.28,132.15 L626.64,132.33 L627.01,132.32 L627.37,132.12 L627.73,131.74 L628.10,131.19 L628.46,130.51 L628.83,129.69 L629.19,128.77 L629.55,127.76 L629.92,126.66 L630.28,125.51 L630.65,124.32 L631.01,123.11 L631.37,121.89 L631.74,120.68 L632.10,119.50 L632.46,118.37 L632.83,117.29 L633.19,116.30 L633.56,115.41 L633.92,114.63 L634.28,113.98 L634.65,113.48 L635.01,113.14 L635.38,112.99 L635.74,113.05 L636.10,113.31 L636.47,113.78 L636.83,114.44 L637.20,115.26 L637.56,116.24 L637.92,117.36 L638.29,118.59 L638.65,119.93 L639.02,121.35 L639.38,122.84 L639.74,124.37 L640.11,125.95 L640.47,127.53 L640.84,129.12 L641.20,130.68 L641.56,132.21 L641.93,133.69 L642.29,135.10 L642.65,136.42 L643.02,137.63 L643.38,138.72 L643.75,139.68 L644.11,140.48 L644.47,141.10 L644.84,141.54 L645.20,141.77 L645.57,141.77 L645.93,141.53 L646.29,141.06 L646.66,140.36 L647.02,139.46 L647.39,138.36 L647.75,137.07 L648.11,135.62 L648.48,134.02 L648.84,132.28 L649.21,130.42 L649.57,128.45 L649.93,126.38 L650.30,124.23 L650.66,122.02 L651.03,119.75 L651.39,117.44 L651.75,115.11 L652.12,112.77 L652.48,110.43 L652.84,108.11 L653.21,105.83 L653.57,103.59 L653.94,101.41 L654.30,99.31 L654.66,97.29 L655.03,95.38 L655.39,93.59 L655.76,91.93 L656.12,90.42 L656.48,89.07 L656.85,87.89 L657.21,86.90 L657.58,86.12 L657.94,85.55 L658.30,85.21 L658.67,85.12 L659.03,85.29 L659.40,85.74 L659.76,86.47 L660.12,87.47 L660.49,88.73 L660.85,90.22 L661.22,91.93 L661.58,93.83 L661.94,95.91 L662.31,98.14 L662.67,100.52 L663.03,103.01 L663.40,105.60 L663.76,108.26 L664.13,110.99 L664.49,113.76 L664.85,116.55 L665.22,119.34 L665.58,122.11 L665.95,124.85 L666.31,127.52 L666.67,130.12 L667.04,132.63 L667.40,135.02 L667.77,137.27 L668.13,139.38 L668.49,141.30 L668.86,143.04 L669.22,144.56 L669.59,145.85 L669.95,146.89 L670.31,147.66 L670.68,148.13 L671.04,148.30 L671.41,148.15 L671.77,147.70 L672.13,146.96 L672.50,145.97 L672.86,144.74 L673.22,143.29 L673.59,141.65 L673.95,139.83 L674.32,137.87 L674.68,135.77 L675.04,133.57 L675.41,131.28 L675.77,128.92 L676.14,126.52 L676.50,124.10" fill="none" stroke="#1496ff" stroke-width="1.05" stroke-linejoin="round" />
<line x1="617.00" y1="13.90" x2="636.00" y2="13.90" stroke="#ff8a2b" stroke-width="1.0" />
<text x="638.60" y="17.20" font-size="8.2" text-anchor="start" fill="#ff8a2b" >NiO-300</text>
<line x1="617.00" y1="24.00" x2="636.00" y2="24.00" stroke="#21c2c8" stroke-width="1.0" />
<text x="638.60" y="27.30" font-size="8.2" text-anchor="start" fill="#21c2c8" >NiO-400</text>
<line x1="617.00" y1="34.10" x2="636.00" y2="34.10" stroke="#1496ff" stroke-width="1.0" />
<text x="638.60" y="37.40" font-size="8.2" text-anchor="start" fill="#1496ff" >NiO-500</text>
<text x="591.60" y="25.50" font-size="8.3" text-anchor="middle" fill="#000" >Ni-Ni</text>
<text x="543.90" y="87.90" font-size="8.3" text-anchor="middle" fill="#000" >Ni-O</text>
<text x="474.60" y="79.00" font-size="9.7" text-anchor="middle" fill="#000" transform="rotate(-90 474.60 79.00)" >G(r) (Å<tspan font-size="7" dy="-3.8">−2</tspan><tspan dy="3.8">)</tspan></text>
<text x="593.00" y="182.00" font-size="9.6" text-anchor="middle" fill="#000" >Radius (Å)</text>
<text x="0.00" y="0.00" font-size="18.0" text-anchor="start" fill="#000" transform="translate(468.4,12.7) scale(1.1,1)">c</text>
<rect x="31.70" y="198.10" width="185.70" height="152.60" fill="none" stroke="#3a3a3a" stroke-width="0.9" />
<line x1="28.60" y1="343.71" x2="31.70" y2="343.71" stroke="#333" stroke-width="0.8" />
<text x="26.70" y="346.46" font-size="8.2" text-anchor="end" fill="#000" >0.0</text>
<line x1="28.60" y1="307.31" x2="31.70" y2="307.31" stroke="#333" stroke-width="0.8" />
<text x="26.70" y="310.06" font-size="8.2" text-anchor="end" fill="#000" >0.5</text>
<line x1="28.60" y1="270.91" x2="31.70" y2="270.91" stroke="#333" stroke-width="0.8" />
<text x="26.70" y="273.66" font-size="8.2" text-anchor="end" fill="#000" >1.0</text>
<line x1="28.60" y1="234.50" x2="31.70" y2="234.50" stroke="#333" stroke-width="0.8" />
<text x="26.70" y="237.25" font-size="8.2" text-anchor="end" fill="#000" >1.5</text>
<line x1="28.60" y1="198.10" x2="31.70" y2="198.10" stroke="#333" stroke-width="0.8" />
<text x="26.70" y="200.85" font-size="8.2" text-anchor="end" fill="#000" >2.0</text>
<line x1="30.10" y1="325.51" x2="31.70" y2="325.51" stroke="#333" stroke-width="0.8" />
<line x1="30.10" y1="289.11" x2="31.70" y2="289.11" stroke="#333" stroke-width="0.8" />
<line x1="30.10" y1="252.70" x2="31.70" y2="252.70" stroke="#333" stroke-width="0.8" />
<line x1="30.10" y1="216.30" x2="31.70" y2="216.30" stroke="#333" stroke-width="0.8" />
<line x1="38.84" y1="350.70" x2="38.84" y2="353.30" stroke="#333" stroke-width="0.8" />
<text x="38.84" y="362.90" font-size="8.2" text-anchor="middle" fill="#000" >8325</text>
<line x1="74.55" y1="350.70" x2="74.55" y2="353.30" stroke="#333" stroke-width="0.8" />
<text x="74.55" y="362.90" font-size="8.2" text-anchor="middle" fill="#000" >8350</text>
<line x1="110.27" y1="350.70" x2="110.27" y2="353.30" stroke="#333" stroke-width="0.8" />
<text x="110.27" y="362.90" font-size="8.2" text-anchor="middle" fill="#000" >8375</text>
<line x1="145.98" y1="350.70" x2="145.98" y2="353.30" stroke="#333" stroke-width="0.8" />
<text x="145.98" y="362.90" font-size="8.2" text-anchor="middle" fill="#000" >8400</text>
<line x1="181.69" y1="350.70" x2="181.69" y2="353.30" stroke="#333" stroke-width="0.8" />
<text x="181.69" y="362.90" font-size="8.2" text-anchor="middle" fill="#000" >8425</text>
<line x1="217.40" y1="350.70" x2="217.40" y2="353.30" stroke="#333" stroke-width="0.8" />
<text x="217.40" y="362.90" font-size="8.2" text-anchor="middle" fill="#000" >8450</text>
<line x1="56.70" y1="350.70" x2="56.70" y2="352.30" stroke="#333" stroke-width="0.8" />
<line x1="92.41" y1="350.70" x2="92.41" y2="352.30" stroke="#333" stroke-width="0.8" />
<line x1="128.12" y1="350.70" x2="128.12" y2="352.30" stroke="#333" stroke-width="0.8" />
<line x1="163.83" y1="350.70" x2="163.83" y2="352.30" stroke="#333" stroke-width="0.8" />
<line x1="199.54" y1="350.70" x2="199.54" y2="352.30" stroke="#333" stroke-width="0.8" />
<path d="M31.70,343.71 L32.01,343.71 L32.32,343.71 L32.63,343.71 L32.94,343.70 L33.25,343.70 L33.56,343.69 L33.87,343.69 L34.18,343.68 L34.49,343.67 L34.80,343.67 L35.11,343.66 L35.42,343.65 L35.73,343.64 L36.04,343.63 L36.35,343.61 L36.66,343.60 L36.97,343.59 L37.28,343.57 L37.59,343.56 L37.90,343.55 L38.21,343.53 L38.52,343.52 L38.83,343.50 L39.14,343.48 L39.45,343.47 L39.76,343.45 L40.07,343.43 L40.38,343.41 L40.69,343.39 L41.00,343.37 L41.31,343.34 L41.62,343.31 L41.93,343.28 L42.24,343.24 L42.55,343.20 L42.86,343.16 L43.17,343.11 L43.48,343.06 L43.79,343.00 L44.10,342.94 L44.41,342.87 L44.72,342.80 L45.03,342.69 L45.34,342.57 L45.65,342.42 L45.96,342.24 L46.27,342.04 L46.58,341.83 L46.89,341.59 L47.20,341.34 L47.51,341.07 L47.82,340.75 L48.13,340.37 L48.44,339.92 L48.75,339.43 L49.06,338.89 L49.37,338.30 L49.68,337.69 L49.99,337.04 L50.30,336.36 L50.61,335.58 L50.92,334.67 L51.23,333.66 L51.54,332.60 L51.85,331.51 L52.16,330.44 L52.47,329.41 L52.78,328.45 L53.09,327.46 L53.40,326.47 L53.71,325.49 L54.02,324.53 L54.33,323.61 L54.64,322.75 L54.95,321.95 L55.26,321.23 L55.57,320.56 L55.88,319.94 L56.19,319.34 L56.50,318.75 L56.81,318.14 L57.12,317.51 L57.43,316.86 L57.74,316.21 L58.05,315.55 L58.36,314.88 L58.67,314.19 L58.98,313.48 L59.29,312.73 L59.60,311.97 L59.91,311.19 L60.22,310.40 L60.53,309.59 L60.84,308.76 L61.15,307.92 L61.46,307.06 L61.77,306.19 L62.08,305.30 L62.39,304.40 L62.70,303.48 L63.01,302.56 L63.32,301.61 L63.63,300.64 L63.94,299.64 L64.25,298.62 L64.56,297.57 L64.87,296.51 L65.18,295.43 L65.49,294.35 L65.80,293.26 L66.11,292.17 L66.42,291.08 L66.73,289.99 L67.04,288.92 L67.35,287.85 L67.66,286.78 L67.97,285.66 L68.28,284.51 L68.59,283.33 L68.90,282.14 L69.21,280.96 L69.52,279.79 L69.83,278.65 L70.14,277.55 L70.45,276.50 L70.76,275.52 L71.07,274.62 L71.38,273.81 L71.69,273.10 L72.00,272.43 L72.31,271.75 L72.62,271.10 L72.93,270.50 L73.24,270.01 L73.55,269.65 L73.86,269.47 L74.17,269.45 L74.48,269.47 L74.79,269.51 L75.10,269.56 L75.41,269.62 L75.72,269.68 L76.03,269.76 L76.34,269.83 L76.65,269.97 L76.96,270.17 L77.27,270.40 L77.58,270.64 L77.89,270.88 L78.20,271.07 L78.51,271.21 L78.82,271.27 L79.13,271.22 L79.44,271.08 L79.75,270.85 L80.06,270.57 L80.37,270.26 L80.68,269.92 L80.99,269.58 L81.30,269.26 L81.61,268.98 L81.92,268.76 L82.23,268.58 L82.54,268.40 L82.85,268.22 L83.16,268.04 L83.47,267.87 L83.78,267.71 L84.09,267.57 L84.40,267.45 L84.71,267.36 L85.02,267.29 L85.33,267.27 L85.64,267.28 L85.95,267.32 L86.26,267.40 L86.57,267.50 L86.88,267.63 L87.19,267.78 L87.50,267.94 L87.81,268.12 L88.12,268.30 L88.43,268.48 L88.74,268.66 L89.05,268.83 L89.36,268.99 L89.67,269.14 L89.98,269.30 L90.29,269.46 L90.60,269.63 L90.91,269.81 L91.22,269.99 L91.53,270.17 L91.84,270.35 L92.15,270.54 L92.46,270.72 L92.77,270.89 L93.08,271.07 L93.39,271.23 L93.70,271.39 L94.01,271.54 L94.32,271.67 L94.63,271.79 L94.94,271.90 L95.25,271.99 L95.56,272.08 L95.87,272.16 L96.18,272.24 L96.49,272.32 L96.80,272.40 L97.11,272.48 L97.42,272.55 L97.73,272.63 L98.04,272.70 L98.35,272.76 L98.66,272.83 L98.97,272.89 L99.28,272.95 L99.59,273.00 L99.90,273.05 L100.21,273.09 L100.52,273.13 L100.83,273.16 L101.14,273.19 L101.45,273.21 L101.76,273.23 L102.07,273.23 L102.38,273.23 L102.69,273.22 L103.00,273.19 L103.31,273.14 L103.62,273.09 L103.93,273.02 L104.24,272.93 L104.55,272.84 L104.86,272.73 L105.17,272.62 L105.48,272.50 L105.79,272.37 L106.10,272.23 L106.41,272.09 L106.72,271.95 L107.03,271.80 L107.34,271.65 L107.65,271.49 L107.96,271.34 L108.27,271.18 L108.58,271.03 L108.89,270.88 L109.20,270.71 L109.51,270.52 L109.82,270.31 L110.13,270.08 L110.44,269.84 L110.75,269.59 L111.06,269.33 L111.37,269.06 L111.68,268.79 L111.99,268.52 L112.30,268.24 L112.61,267.97 L112.92,267.71 L113.23,267.46 L113.54,267.22 L113.85,266.99 L114.16,266.77 L114.47,266.58 L114.78,266.40 L115.09,266.22 L115.40,266.03 L115.71,265.84 L116.02,265.65 L116.33,265.46 L116.64,265.27 L116.95,265.08 L117.26,264.90 L117.57,264.73 L117.88,264.56 L118.19,264.40 L118.50,264.25 L118.81,264.12 L119.12,263.99 L119.43,263.89 L119.74,263.80 L120.05,263.72 L120.36,263.67 L120.67,263.64 L120.98,263.62 L121.29,263.64 L121.60,263.67 L121.91,263.73 L122.22,263.81 L122.53,263.91 L122.84,264.02 L123.15,264.15 L123.46,264.29 L123.77,264.44 L124.08,264.61 L124.39,264.78 L124.71,264.96 L125.02,265.15 L125.33,265.33 L125.64,265.53 L125.95,265.72 L126.26,265.91 L126.57,266.10 L126.88,266.29 L127.19,266.50 L127.50,266.73 L127.81,266.98 L128.12,267.25 L128.43,267.53 L128.74,267.83 L129.05,268.13 L129.36,268.44 L129.67,268.75 L129.98,269.06 L130.29,269.38 L130.60,269.68 L130.91,269.99 L131.22,270.28 L131.53,270.56 L131.84,270.82 L132.15,271.07 L132.46,271.30 L132.77,271.54 L133.08,271.78 L133.39,272.02 L133.70,272.27 L134.01,272.53 L134.32,272.78 L134.63,273.02 L134.94,273.26 L135.25,273.48 L135.56,273.70 L135.87,273.89 L136.18,274.07 L136.49,274.22 L136.80,274.35 L137.11,274.45 L137.42,274.51 L137.73,274.54 L138.04,274.54 L138.35,274.52 L138.66,274.48 L138.97,274.43 L139.28,274.37 L139.59,274.30 L139.90,274.21 L140.21,274.12 L140.52,274.03 L140.83,273.94 L141.14,273.84 L141.45,273.74 L141.76,273.65 L142.07,273.54 L142.38,273.40 L142.69,273.24 L143.00,273.08 L143.31,272.91 L143.62,272.75 L143.93,272.61 L144.24,272.49 L144.55,272.41 L144.86,272.37 L145.17,272.37 L145.48,272.44 L145.79,272.56 L146.10,272.70 L146.41,272.87 L146.72,273.03 L147.03,273.19 L147.34,273.33 L147.65,273.42 L147.96,273.47 L148.27,273.50 L148.58,273.54 L148.89,273.57 L149.20,273.59 L149.51,273.62 L149.82,273.64 L150.13,273.65 L150.44,273.66 L150.75,273.67 L151.06,273.67 L151.37,273.67 L151.68,273.66 L151.99,273.64 L152.30,273.61 L152.61,273.58 L152.92,273.55 L153.23,273.51 L153.54,273.47 L153.85,273.42 L154.16,273.37 L154.47,273.31 L154.78,273.25 L155.09,273.19 L155.40,273.13 L155.71,273.06 L156.02,272.99 L156.33,272.92 L156.64,272.85 L156.95,272.77 L157.26,272.70 L157.57,272.62 L157.88,272.55 L158.19,272.47 L158.50,272.40 L158.81,272.33 L159.12,272.25 L159.43,272.18 L159.74,272.11 L160.05,272.04 L160.36,271.98 L160.67,271.91 L160.98,271.85 L161.29,271.78 L161.60,271.71 L161.91,271.64 L162.22,271.58 L162.53,271.51 L162.84,271.44 L163.15,271.37 L163.46,271.29 L163.77,271.22 L164.08,271.15 L164.39,271.08 L164.70,271.00 L165.01,270.93 L165.32,270.85 L165.63,270.78 L165.94,270.70 L166.25,270.62 L166.56,270.54 L166.87,270.46 L167.18,270.38 L167.49,270.30 L167.80,270.21 L168.11,270.13 L168.42,270.05 L168.73,269.96 L169.04,269.87 L169.35,269.79 L169.66,269.70 L169.97,269.61 L170.28,269.51 L170.59,269.42 L170.90,269.33 L171.21,269.23 L171.52,269.14 L171.83,269.04 L172.14,268.94 L172.45,268.84 L172.76,268.73 L173.07,268.62 L173.38,268.50 L173.69,268.39 L174.00,268.27 L174.31,268.14 L174.62,268.02 L174.93,267.89 L175.24,267.77 L175.55,267.64 L175.86,267.51 L176.17,267.37 L176.48,267.24 L176.79,267.11 L177.10,266.97 L177.41,266.84 L177.72,266.71 L178.03,266.57 L178.34,266.44 L178.65,266.31 L178.96,266.17 L179.27,266.04 L179.58,265.91 L179.89,265.78 L180.20,265.66 L180.51,265.53 L180.82,265.41 L181.13,265.29 L181.44,265.17 L181.75,265.06 L182.06,264.94 L182.37,264.82 L182.68,264.69 L182.99,264.56 L183.30,264.42 L183.61,264.28 L183.92,264.14 L184.23,264.00 L184.54,263.86 L184.85,263.72 L185.16,263.58 L185.47,263.45 L185.78,263.31 L186.09,263.18 L186.40,263.06 L186.71,262.94 L187.02,262.82 L187.33,262.72 L187.64,262.61 L187.95,262.52 L188.26,262.44 L188.57,262.37 L188.88,262.30 L189.19,262.25 L189.50,262.21 L189.81,262.18 L190.12,262.17 L190.43,262.17 L190.74,262.18 L191.05,262.19 L191.36,262.20 L191.67,262.23 L191.98,262.25 L192.29,262.29 L192.60,262.32 L192.91,262.36 L193.22,262.41 L193.53,262.46 L193.84,262.51 L194.15,262.56 L194.46,262.62 L194.77,262.68 L195.08,262.74 L195.39,262.81 L195.70,262.88 L196.01,262.95 L196.32,263.02 L196.63,263.09 L196.94,263.16 L197.25,263.24 L197.56,263.31 L197.87,263.39 L198.18,263.47 L198.49,263.54 L198.80,263.62 L199.11,263.70 L199.42,263.78 L199.73,263.88 L200.04,263.98 L200.35,264.09 L200.66,264.21 L200.97,264.33 L201.28,264.45 L201.59,264.58 L201.90,264.72 L202.21,264.86 L202.52,265.00 L202.83,265.15 L203.14,265.30 L203.45,265.44 L203.76,265.59 L204.07,265.75 L204.38,265.90 L204.69,266.05 L205.00,266.20 L205.31,266.34 L205.62,266.49 L205.93,266.63 L206.24,266.77 L206.55,266.91 L206.86,267.04 L207.17,267.17 L207.48,267.30 L207.79,267.42 L208.10,267.54 L208.41,267.66 L208.72,267.78 L209.03,267.90 L209.34,268.02 L209.65,268.14 L209.96,268.25 L210.27,268.37 L210.58,268.49 L210.89,268.60 L211.20,268.72 L211.51,268.83 L211.82,268.95 L212.13,269.06 L212.44,269.18 L212.75,269.29 L213.06,269.40 L213.37,269.51 L213.68,269.62 L213.99,269.73 L214.30,269.84 L214.61,269.95 L214.92,270.06 L215.23,270.17 L215.54,270.28 L215.85,270.38 L216.16,270.49 L216.47,270.59 L216.78,270.70 L217.09,270.80 L217.40,270.91" fill="none" stroke="#a9a3dc" stroke-width="1.0" stroke-linejoin="round" />
<path d="M32.13,343.71 L32.44,343.71 L32.75,343.71 L33.06,343.71 L33.37,343.70 L33.68,343.70 L33.98,343.69 L34.29,343.69 L34.60,343.68 L34.91,343.67 L35.22,343.66 L35.53,343.65 L35.84,343.64 L36.15,343.63 L36.46,343.62 L36.77,343.61 L37.08,343.60 L37.39,343.58 L37.70,343.57 L38.01,343.55 L38.31,343.54 L38.62,343.53 L38.93,343.51 L39.24,343.49 L39.55,343.48 L39.86,343.46 L40.17,343.45 L40.48,343.43 L40.79,343.41 L41.10,343.40 L41.41,343.38 L41.72,343.36 L42.03,343.34 L42.34,343.32 L42.64,343.30 L42.95,343.27 L43.26,343.25 L43.57,343.22 L43.88,343.19 L44.19,343.15 L44.50,343.12 L44.81,343.08 L45.12,343.04 L45.43,343.00 L45.74,342.95 L46.05,342.90 L46.36,342.85 L46.67,342.78 L46.97,342.68 L47.28,342.56 L47.59,342.41 L47.90,342.25 L48.21,342.08 L48.52,341.91 L48.83,341.75 L49.14,341.59 L49.45,341.44 L49.76,341.26 L50.07,341.06 L50.38,340.87 L50.69,340.69 L51.00,340.55 L51.31,340.46 L51.61,340.44 L51.92,340.48 L52.23,340.56 L52.54,340.67 L52.85,340.80 L53.16,340.91 L53.47,341.01 L53.78,341.08 L54.09,341.08 L54.40,340.95 L54.71,340.69 L55.02,340.31 L55.33,339.84 L55.64,339.29 L55.94,338.69 L56.25,338.07 L56.56,337.43 L56.87,336.78 L57.18,336.00 L57.49,335.09 L57.80,334.07 L58.11,332.97 L58.42,331.81 L58.73,330.60 L59.04,329.38 L59.35,328.15 L59.66,326.94 L59.97,325.77 L60.27,324.59 L60.58,323.39 L60.89,322.17 L61.20,320.94 L61.51,319.68 L61.82,318.41 L62.13,317.12 L62.44,315.81 L62.75,314.48 L63.06,313.14 L63.37,311.78 L63.68,310.40 L63.99,309.03 L64.30,307.66 L64.61,306.27 L64.91,304.85 L65.22,303.38 L65.53,301.86 L65.84,300.27 L66.15,298.60 L66.46,296.82 L66.77,294.93 L67.08,292.92 L67.39,290.80 L67.70,288.58 L68.01,286.26 L68.32,283.86 L68.63,281.38 L68.94,278.82 L69.24,276.21 L69.55,273.46 L69.86,270.51 L70.17,267.39 L70.48,264.17 L70.79,260.87 L71.10,257.54 L71.41,254.23 L71.72,250.98 L72.03,247.84 L72.34,244.67 L72.65,241.10 L72.96,237.28 L73.27,233.40 L73.57,229.67 L73.88,226.28 L74.19,223.42 L74.50,221.31 L74.81,220.12 L75.12,219.99 L75.43,220.41 L75.74,221.22 L76.05,222.35 L76.36,223.73 L76.67,225.28 L76.98,226.95 L77.29,228.67 L77.60,230.37 L77.91,232.39 L78.21,234.87 L78.52,237.68 L78.83,240.68 L79.14,243.75 L79.45,246.76 L79.76,249.57 L80.07,252.07 L80.38,254.14 L80.69,256.07 L81.00,257.95 L81.31,259.76 L81.62,261.52 L81.93,263.65 L82.24,265.27 L82.54,266.82 L82.85,268.30 L83.16,269.70 L83.47,271.02 L83.78,272.26 L84.09,273.42 L84.40,274.49 L84.71,275.48 L85.02,276.47 L85.33,277.46 L85.64,278.46 L85.95,279.44 L86.26,280.40 L86.57,281.34 L86.87,282.25 L87.18,283.12 L87.49,283.94 L87.80,284.70 L88.11,285.40 L88.42,286.04 L88.73,286.59 L89.04,287.06 L89.35,287.44 L89.66,287.72 L89.97,287.89 L90.28,287.94 L90.59,287.87 L90.90,287.69 L91.21,287.40 L91.51,287.02 L91.82,286.58 L92.13,286.09 L92.44,285.56 L92.75,285.01 L93.06,284.46 L93.37,283.93 L93.68,283.43 L93.99,282.98 L94.30,282.52 L94.61,282.01 L94.92,281.47 L95.23,280.90 L95.54,280.32 L95.84,279.74 L96.15,279.19 L96.46,278.68 L96.77,278.21 L97.08,277.82 L97.39,277.50 L97.70,277.28 L98.01,277.18 L98.32,277.18 L98.63,277.26 L98.94,277.40 L99.25,277.60 L99.56,277.84 L99.87,278.13 L100.17,278.44 L100.48,278.78 L100.79,279.13 L101.10,279.50 L101.41,279.86 L101.72,280.22 L102.03,280.56 L102.34,280.88 L102.65,281.17 L102.96,281.42 L103.27,281.63 L103.58,281.84 L103.89,282.05 L104.20,282.26 L104.51,282.48 L104.81,282.70 L105.12,282.91 L105.43,283.13 L105.74,283.34 L106.05,283.56 L106.36,283.77 L106.67,283.97 L106.98,284.18 L107.29,284.38 L107.60,284.57 L107.91,284.75 L108.22,284.93 L108.53,285.10 L108.84,285.26 L109.14,285.42 L109.45,285.56 L109.76,285.69 L110.07,285.81 L110.38,285.92 L110.69,286.01 L111.00,286.09 L111.31,286.16 L111.62,286.21 L111.93,286.25 L112.24,286.26 L112.55,286.26 L112.86,286.24 L113.17,286.18 L113.47,286.10 L113.78,285.99 L114.09,285.86 L114.40,285.71 L114.71,285.54 L115.02,285.35 L115.33,285.14 L115.64,284.92 L115.95,284.68 L116.26,284.44 L116.57,284.18 L116.88,283.91 L117.19,283.63 L117.50,283.35 L117.80,283.06 L118.11,282.77 L118.42,282.48 L118.73,282.19 L119.04,281.90 L119.35,281.62 L119.66,281.34 L119.97,281.06 L120.28,280.79 L120.59,280.53 L120.90,280.25 L121.21,279.96 L121.52,279.66 L121.83,279.35 L122.14,279.03 L122.44,278.71 L122.75,278.38 L123.06,278.04 L123.37,277.70 L123.68,277.35 L123.99,276.99 L124.30,276.64 L124.61,276.28 L124.92,275.91 L125.23,275.55 L125.54,275.18 L125.85,274.81 L126.16,274.45 L126.47,274.08 L126.77,273.71 L127.08,273.35 L127.39,272.99 L127.70,272.63 L128.01,272.27 L128.32,271.92 L128.63,271.57 L128.94,271.23 L129.25,270.88 L129.56,270.52 L129.87,270.16 L130.18,269.79 L130.49,269.41 L130.80,269.03 L131.10,268.65 L131.41,268.27 L131.72,267.89 L132.03,267.50 L132.34,267.12 L132.65,266.74 L132.96,266.36 L133.27,265.99 L133.58,265.62 L133.89,265.26 L134.20,264.90 L134.51,264.55 L134.82,264.22 L135.13,263.89 L135.44,263.57 L135.74,263.27 L136.05,262.98 L136.36,262.70 L136.67,262.44 L136.98,262.19 L137.29,261.96 L137.60,261.75 L137.91,261.53 L138.22,261.31 L138.53,261.09 L138.84,260.88 L139.15,260.66 L139.46,260.44 L139.77,260.23 L140.07,260.03 L140.38,259.83 L140.69,259.63 L141.00,259.45 L141.31,259.27 L141.62,259.11 L141.93,258.95 L142.24,258.82 L142.55,258.69 L142.86,258.58 L143.17,258.49 L143.48,258.41 L143.79,258.35 L144.10,258.32 L144.40,258.30 L144.71,258.31 L145.02,258.34 L145.33,258.40 L145.64,258.49 L145.95,258.60 L146.26,258.73 L146.57,258.89 L146.88,259.06 L147.19,259.24 L147.50,259.45 L147.81,259.67 L148.12,259.90 L148.43,260.14 L148.74,260.39 L149.04,260.65 L149.35,260.91 L149.66,261.18 L149.97,261.45 L150.28,261.72 L150.59,261.99 L150.90,262.26 L151.21,262.53 L151.52,262.79 L151.83,263.04 L152.14,263.31 L152.45,263.59 L152.76,263.89 L153.07,264.21 L153.37,264.53 L153.68,264.87 L153.99,265.21 L154.30,265.57 L154.61,265.93 L154.92,266.30 L155.23,266.67 L155.54,267.04 L155.85,267.42 L156.16,267.79 L156.47,268.17 L156.78,268.54 L157.09,268.91 L157.40,269.27 L157.70,269.63 L158.01,269.98 L158.32,270.32 L158.63,270.65 L158.94,270.97 L159.25,271.28 L159.56,271.57 L159.87,271.84 L160.18,272.10 L160.49,272.34 L160.80,272.58 L161.11,272.82 L161.42,273.05 L161.73,273.28 L162.04,273.50 L162.34,273.72 L162.65,273.94 L162.96,274.15 L163.27,274.35 L163.58,274.55 L163.89,274.75 L164.20,274.94 L164.51,275.13 L164.82,275.31 L165.13,275.48 L165.44,275.65 L165.75,275.82 L166.06,275.98 L166.37,276.13 L166.67,276.27 L166.98,276.41 L167.29,276.55 L167.60,276.68 L167.91,276.80 L168.22,276.91 L168.53,277.02 L168.84,277.12 L169.15,277.22 L169.46,277.32 L169.77,277.42 L170.08,277.53 L170.39,277.63 L170.70,277.73 L171.00,277.82 L171.31,277.92 L171.62,278.01 L171.93,278.10 L172.24,278.18 L172.55,278.25 L172.86,278.32 L173.17,278.38 L173.48,278.44 L173.79,278.48 L174.10,278.51 L174.41,278.54 L174.72,278.55 L175.03,278.55 L175.34,278.54 L175.64,278.52 L175.95,278.49 L176.26,278.46 L176.57,278.42 L176.88,278.37 L177.19,278.32 L177.50,278.27 L177.81,278.21 L178.12,278.15 L178.43,278.08 L178.74,278.01 L179.05,277.94 L179.36,277.87 L179.67,277.79 L179.97,277.71 L180.28,277.62 L180.59,277.54 L180.90,277.45 L181.21,277.37 L181.52,277.28 L181.83,277.19 L182.14,277.10 L182.45,277.01 L182.76,276.92 L183.07,276.84 L183.38,276.75 L183.69,276.66 L184.00,276.58 L184.30,276.50 L184.61,276.42 L184.92,276.34 L185.23,276.26 L185.54,276.19 L185.85,276.12 L186.16,276.05 L186.47,275.98 L186.78,275.91 L187.09,275.85 L187.40,275.78 L187.71,275.71 L188.02,275.64 L188.33,275.57 L188.63,275.50 L188.94,275.43 L189.25,275.36 L189.56,275.29 L189.87,275.22 L190.18,275.15 L190.49,275.08 L190.80,275.01 L191.11,274.94 L191.42,274.87 L191.73,274.80 L192.04,274.73 L192.35,274.66 L192.66,274.59 L192.97,274.52 L193.27,274.46 L193.58,274.39 L193.89,274.32 L194.20,274.26 L194.51,274.19 L194.82,274.13 L195.13,274.06 L195.44,274.00 L195.75,273.94 L196.06,273.87 L196.37,273.81 L196.68,273.76 L196.99,273.70 L197.30,273.64 L197.60,273.59 L197.91,273.54 L198.22,273.49 L198.53,273.44 L198.84,273.39 L199.15,273.34 L199.46,273.29 L199.77,273.24 L200.08,273.19 L200.39,273.15 L200.70,273.10 L201.01,273.05 L201.32,273.00 L201.63,272.95 L201.93,272.90 L202.24,272.85 L202.55,272.79 L202.86,272.74 L203.17,272.68 L203.48,272.62 L203.79,272.56 L204.10,272.50 L204.41,272.44 L204.72,272.37 L205.03,272.30 L205.34,272.23 L205.65,272.15 L205.96,272.07 L206.27,271.99 L206.57,271.88 L206.88,271.77 L207.19,271.64 L207.50,271.50 L207.81,271.35 L208.12,271.19 L208.43,271.02 L208.74,270.85 L209.05,270.67 L209.36,270.50 L209.67,270.32 L209.98,270.14 L210.29,269.96 L210.60,269.78 L210.90,269.61 L211.21,269.45 L211.52,269.29 L211.83,269.14 L212.14,269.00 L212.45,268.88 L212.76,268.76 L213.07,268.66 L213.38,268.58 L213.69,268.51 L214.00,268.46 L214.31,268.44 L214.62,268.43 L214.93,268.43 L215.23,268.43 L215.54,268.43 L215.85,268.43 L216.16,268.43 L216.47,268.43 L216.78,268.43 L217.09,268.43 L217.40,268.43" fill="none" stroke="#ff8a2b" stroke-width="1.25" stroke-linejoin="round" />
<path d="M30.84,343.71 L31.15,343.71 L31.47,343.71 L31.78,343.71 L32.09,343.70 L32.40,343.70 L32.71,343.69 L33.02,343.69 L33.33,343.68 L33.65,343.67 L33.96,343.66 L34.27,343.65 L34.58,343.64 L34.89,343.63 L35.20,343.62 L35.51,343.61 L35.83,343.59 L36.14,343.58 L36.45,343.57 L36.76,343.55 L37.07,343.54 L37.38,343.52 L37.69,343.51 L38.01,343.49 L38.32,343.48 L38.63,343.46 L38.94,343.44 L39.25,343.43 L39.56,343.41 L39.87,343.39 L40.19,343.38 L40.50,343.36 L40.81,343.34 L41.12,343.31 L41.43,343.29 L41.74,343.27 L42.06,343.24 L42.37,343.21 L42.68,343.18 L42.99,343.14 L43.30,343.11 L43.61,343.07 L43.92,343.03 L44.24,342.98 L44.55,342.94 L44.86,342.88 L45.17,342.83 L45.48,342.75 L45.79,342.64 L46.10,342.51 L46.42,342.36 L46.73,342.19 L47.04,342.02 L47.35,341.85 L47.66,341.69 L47.97,341.53 L48.28,341.37 L48.60,341.18 L48.91,340.98 L49.22,340.79 L49.53,340.63 L49.84,340.50 L50.15,340.44 L50.46,340.45 L50.78,340.51 L51.09,340.61 L51.40,340.73 L51.71,340.85 L52.02,340.97 L52.33,341.05 L52.64,341.09 L52.96,341.04 L53.27,340.83 L53.58,340.51 L53.89,340.08 L54.20,339.56 L54.51,338.98 L54.82,338.36 L55.14,337.72 L55.45,337.09 L55.76,336.36 L56.07,335.50 L56.38,334.52 L56.69,333.45 L57.00,332.30 L57.32,331.10 L57.63,329.87 L57.94,328.63 L58.25,327.41 L58.56,326.21 L58.87,325.03 L59.18,323.83 L59.50,322.61 L59.81,321.38 L60.12,320.12 L60.43,318.84 L60.74,317.55 L61.05,316.24 L61.36,314.91 L61.68,313.56 L61.99,312.20 L62.30,310.81 L62.61,309.43 L62.92,308.05 L63.23,306.66 L63.54,305.24 L63.86,303.78 L64.17,302.26 L64.48,300.68 L64.79,299.02 L65.10,297.25 L65.41,295.32 L65.73,293.16 L66.04,290.84 L66.35,288.40 L66.66,285.90 L66.97,283.41 L67.28,280.97 L67.59,278.65 L67.91,276.50 L68.22,274.56 L68.53,272.76 L68.84,271.06 L69.15,269.43 L69.46,267.82 L69.77,266.20 L70.09,264.52 L70.40,262.75 L70.71,260.84 L71.02,258.67 L71.33,255.91 L71.64,252.74 L71.95,249.36 L72.27,245.99 L72.58,242.84 L72.89,240.14 L73.20,238.08 L73.51,236.89 L73.82,236.73 L74.13,237.21 L74.45,238.10 L74.76,239.29 L75.07,240.66 L75.38,242.10 L75.69,243.48 L76.00,244.69 L76.31,245.62 L76.63,246.36 L76.94,247.02 L77.25,247.62 L77.56,248.17 L77.87,248.69 L78.18,249.20 L78.49,249.71 L78.81,250.24 L79.12,250.80 L79.43,251.41 L79.74,252.09 L80.05,252.85 L80.36,253.71 L80.67,254.80 L80.99,256.12 L81.30,257.62 L81.61,259.27 L81.92,261.32 L82.23,263.15 L82.54,265.00 L82.85,266.84 L83.17,268.62 L83.48,270.31 L83.79,271.86 L84.10,273.24 L84.41,274.39 L84.72,275.34 L85.03,276.26 L85.35,277.18 L85.66,278.09 L85.97,278.99 L86.28,279.86 L86.59,280.71 L86.90,281.52 L87.21,282.30 L87.53,283.03 L87.84,283.71 L88.15,284.32 L88.46,284.88 L88.77,285.36 L89.08,285.77 L89.40,286.09 L89.71,286.32 L90.02,286.45 L90.33,286.48 L90.64,286.42 L90.95,286.28 L91.26,286.07 L91.58,285.79 L91.89,285.47 L92.20,285.11 L92.51,284.72 L92.82,284.32 L93.13,283.91 L93.44,283.50 L93.76,283.11 L94.07,282.74 L94.38,282.32 L94.69,281.83 L95.00,281.29 L95.31,280.72 L95.62,280.13 L95.94,279.55 L96.25,278.99 L96.56,278.46 L96.87,277.99 L97.18,277.60 L97.49,277.29 L97.80,277.09 L98.12,277.02 L98.43,277.06 L98.74,277.16 L99.05,277.32 L99.36,277.54 L99.67,277.80 L99.98,278.10 L100.30,278.43 L100.61,278.77 L100.92,279.13 L101.23,279.50 L101.54,279.87 L101.85,280.22 L102.16,280.55 L102.48,280.86 L102.79,281.14 L103.10,281.37 L103.41,281.58 L103.72,281.79 L104.03,282.01 L104.34,282.22 L104.66,282.44 L104.97,282.66 L105.28,282.88 L105.59,283.09 L105.90,283.31 L106.21,283.52 L106.52,283.73 L106.84,283.94 L107.15,284.14 L107.46,284.34 L107.77,284.53 L108.08,284.71 L108.39,284.88 L108.70,285.05 L109.02,285.21 L109.33,285.36 L109.64,285.49 L109.95,285.62 L110.26,285.73 L110.57,285.83 L110.88,285.92 L111.20,285.99 L111.51,286.05 L111.82,286.09 L112.13,286.11 L112.44,286.12 L112.75,286.10 L113.07,286.06 L113.38,285.98 L113.69,285.88 L114.00,285.76 L114.31,285.61 L114.62,285.45 L114.93,285.26 L115.25,285.06 L115.56,284.84 L115.87,284.60 L116.18,284.36 L116.49,284.10 L116.80,283.83 L117.11,283.55 L117.43,283.27 L117.74,282.98 L118.05,282.69 L118.36,282.40 L118.67,282.11 L118.98,281.81 L119.29,281.52 L119.61,281.24 L119.92,280.96 L120.23,280.69 L120.54,280.42 L120.85,280.14 L121.16,279.85 L121.47,279.55 L121.79,279.24 L122.10,278.93 L122.41,278.60 L122.72,278.27 L123.03,277.93 L123.34,277.58 L123.65,277.23 L123.97,276.88 L124.28,276.52 L124.59,276.16 L124.90,275.79 L125.21,275.42 L125.52,275.05 L125.83,274.68 L126.15,274.31 L126.46,273.94 L126.77,273.57 L127.08,273.21 L127.39,272.84 L127.70,272.48 L128.01,272.12 L128.33,271.77 L128.64,271.42 L128.95,271.07 L129.26,270.72 L129.57,270.36 L129.88,269.99 L130.19,269.62 L130.51,269.24 L130.82,268.86 L131.13,268.48 L131.44,268.09 L131.75,267.70 L132.06,267.32 L132.37,266.93 L132.69,266.55 L133.00,266.17 L133.31,265.79 L133.62,265.42 L133.93,265.06 L134.24,264.70 L134.55,264.36 L134.87,264.02 L135.18,263.69 L135.49,263.37 L135.80,263.07 L136.11,262.78 L136.42,262.50 L136.74,262.24 L137.05,262.00 L137.36,261.77 L137.67,261.56 L137.98,261.34 L138.29,261.12 L138.60,260.90 L138.92,260.68 L139.23,260.46 L139.54,260.24 L139.85,260.03 L140.16,259.82 L140.47,259.62 L140.78,259.43 L141.10,259.25 L141.41,259.07 L141.72,258.91 L142.03,258.76 L142.34,258.63 L142.65,258.51 L142.96,258.40 L143.28,258.31 L143.59,258.24 L143.90,258.19 L144.21,258.16 L144.52,258.15 L144.83,258.17 L145.14,258.22 L145.46,258.29 L145.77,258.39 L146.08,258.51 L146.39,258.65 L146.70,258.81 L147.01,258.99 L147.32,259.19 L147.64,259.40 L147.95,259.62 L148.26,259.86 L148.57,260.11 L148.88,260.36 L149.19,260.63 L149.50,260.90 L149.82,261.17 L150.13,261.44 L150.44,261.71 L150.75,261.99 L151.06,262.25 L151.37,262.52 L151.68,262.78 L152.00,263.04 L152.31,263.32 L152.62,263.61 L152.93,263.92 L153.24,264.25 L153.55,264.58 L153.86,264.92 L154.18,265.28 L154.49,265.64 L154.80,266.01 L155.11,266.38 L155.42,266.75 L155.73,267.13 L156.04,267.51 L156.36,267.89 L156.67,268.27 L156.98,268.64 L157.29,269.01 L157.60,269.37 L157.91,269.72 L158.22,270.07 L158.54,270.40 L158.85,270.73 L159.16,271.04 L159.47,271.34 L159.78,271.62 L160.09,271.88 L160.41,272.13 L160.72,272.37 L161.03,272.61 L161.34,272.84 L161.65,273.08 L161.96,273.30 L162.27,273.52 L162.59,273.74 L162.90,273.96 L163.21,274.17 L163.52,274.37 L163.83,274.57 L164.14,274.76 L164.45,274.95 L164.77,275.13 L165.08,275.31 L165.39,275.48 L165.70,275.65 L166.01,275.81 L166.32,275.96 L166.63,276.11 L166.95,276.25 L167.26,276.39 L167.57,276.52 L167.88,276.64 L168.19,276.76 L168.50,276.86 L168.81,276.97 L169.13,277.07 L169.44,277.17 L169.75,277.27 L170.06,277.37 L170.37,277.48 L170.68,277.58 L170.99,277.67 L171.31,277.77 L171.62,277.86 L171.93,277.95 L172.24,278.03 L172.55,278.11 L172.86,278.18 L173.17,278.24 L173.49,278.29 L173.80,278.33 L174.11,278.37 L174.42,278.39 L174.73,278.40 L175.04,278.40 L175.35,278.39 L175.67,278.37 L175.98,278.34 L176.29,278.31 L176.60,278.27 L176.91,278.22 L177.22,278.17 L177.53,278.12 L177.85,278.06 L178.16,278.00 L178.47,277.93 L178.78,277.86 L179.09,277.78 L179.40,277.71 L179.71,277.63 L180.03,277.55 L180.34,277.46 L180.65,277.38 L180.96,277.29 L181.27,277.20 L181.58,277.12 L181.89,277.03 L182.21,276.94 L182.52,276.85 L182.83,276.76 L183.14,276.67 L183.45,276.58 L183.76,276.50 L184.08,276.41 L184.39,276.33 L184.70,276.25 L185.01,276.17 L185.32,276.09 L185.63,276.02 L185.94,275.95 L186.26,275.88 L186.57,275.82 L186.88,275.75 L187.19,275.68 L187.50,275.61 L187.81,275.54 L188.12,275.47 L188.44,275.40 L188.75,275.33 L189.06,275.26 L189.37,275.19 L189.68,275.12 L189.99,275.05 L190.30,274.98 L190.62,274.90 L190.93,274.83 L191.24,274.76 L191.55,274.69 L191.86,274.62 L192.17,274.55 L192.48,274.48 L192.80,274.42 L193.11,274.35 L193.42,274.28 L193.73,274.21 L194.04,274.14 L194.35,274.08 L194.66,274.01 L194.98,273.95 L195.29,273.88 L195.60,273.82 L195.91,273.76 L196.22,273.70 L196.53,273.64 L196.84,273.58 L197.16,273.52 L197.47,273.46 L197.78,273.40 L198.09,273.35 L198.40,273.29 L198.71,273.24 L199.02,273.19 L199.34,273.13 L199.65,273.08 L199.96,273.03 L200.27,272.97 L200.58,272.92 L200.89,272.87 L201.20,272.81 L201.52,272.76 L201.83,272.71 L202.14,272.65 L202.45,272.60 L202.76,272.54 L203.07,272.49 L203.38,272.43 L203.70,272.37 L204.01,272.32 L204.32,272.26 L204.63,272.20 L204.94,272.14 L205.25,272.07 L205.56,272.01 L205.88,271.94 L206.19,271.88 L206.50,271.80 L206.81,271.72 L207.12,271.63 L207.43,271.54 L207.75,271.45 L208.06,271.35 L208.37,271.24 L208.68,271.14 L208.99,271.03 L209.30,270.93 L209.61,270.82 L209.93,270.71 L210.24,270.61 L210.55,270.51 L210.86,270.41 L211.17,270.32 L211.48,270.23 L211.79,270.14 L212.11,270.06 L212.42,269.99 L212.73,269.93 L213.04,269.87 L213.35,269.82 L213.66,269.79 L213.97,269.76 L214.29,269.74 L214.60,269.74 L214.91,269.74 L215.22,269.74 L215.53,269.74 L215.84,269.74 L216.15,269.74 L216.47,269.74 L216.78,269.74 L217.09,269.74 L217.40,269.74" fill="none" stroke="#e066f0" stroke-width="1.25" stroke-linejoin="round" />
<path d="M31.34,343.71 L31.65,343.71 L31.96,343.71 L32.27,343.71 L32.59,343.70 L32.90,343.70 L33.21,343.69 L33.52,343.69 L33.83,343.68 L34.14,343.67 L34.45,343.66 L34.76,343.65 L35.07,343.64 L35.38,343.63 L35.69,343.62 L36.00,343.61 L36.31,343.59 L36.62,343.58 L36.93,343.57 L37.24,343.55 L37.56,343.54 L37.87,343.52 L38.18,343.51 L38.49,343.49 L38.80,343.48 L39.11,343.46 L39.42,343.45 L39.73,343.43 L40.04,343.41 L40.35,343.40 L40.66,343.38 L40.97,343.36 L41.28,343.34 L41.59,343.32 L41.90,343.29 L42.21,343.27 L42.52,343.24 L42.84,343.21 L43.15,343.18 L43.46,343.15 L43.77,343.11 L44.08,343.07 L44.39,343.03 L44.70,342.99 L45.01,342.94 L45.32,342.89 L45.63,342.84 L45.94,342.76 L46.25,342.66 L46.56,342.53 L46.87,342.38 L47.18,342.22 L47.49,342.05 L47.81,341.88 L48.12,341.71 L48.43,341.55 L48.74,341.40 L49.05,341.21 L49.36,341.01 L49.67,340.82 L49.98,340.65 L50.29,340.52 L50.60,340.45 L50.91,340.44 L51.22,340.49 L51.53,340.59 L51.84,340.71 L52.15,340.83 L52.46,340.95 L52.78,341.04 L53.09,341.09 L53.40,341.06 L53.71,340.88 L54.02,340.58 L54.33,340.17 L54.64,339.67 L54.95,339.10 L55.26,338.49 L55.57,337.86 L55.88,337.22 L56.19,336.53 L56.50,335.70 L56.81,334.75 L57.12,333.69 L57.43,332.56 L57.74,331.38 L58.06,330.16 L58.37,328.92 L58.68,327.69 L58.99,326.49 L59.30,325.32 L59.61,324.13 L59.92,322.92 L60.23,321.69 L60.54,320.44 L60.85,319.17 L61.16,317.89 L61.47,316.58 L61.78,315.26 L62.09,313.92 L62.40,312.57 L62.71,311.19 L63.03,309.81 L63.34,308.43 L63.65,307.05 L63.96,305.64 L64.27,304.20 L64.58,302.70 L64.89,301.15 L65.20,299.51 L65.51,297.78 L65.82,295.93 L66.13,293.88 L66.44,291.66 L66.75,289.31 L67.06,286.89 L67.37,284.43 L67.68,281.98 L68.00,279.57 L68.31,277.26 L68.62,275.08 L68.93,273.00 L69.24,270.98 L69.55,269.01 L69.86,267.05 L70.17,265.08 L70.48,263.08 L70.79,261.01 L71.10,258.86 L71.41,256.58 L71.72,253.82 L72.03,250.62 L72.34,247.17 L72.65,243.69 L72.97,240.38 L73.28,237.45 L73.59,235.12 L73.90,233.58 L74.21,233.05 L74.52,233.32 L74.83,234.03 L75.14,235.08 L75.45,236.37 L75.76,237.80 L76.07,239.26 L76.38,240.66 L76.69,241.90 L77.00,242.94 L77.31,243.93 L77.62,244.89 L77.93,245.83 L78.25,246.77 L78.56,247.70 L78.87,248.65 L79.18,249.62 L79.49,250.64 L79.80,251.70 L80.11,252.83 L80.42,254.04 L80.73,255.42 L81.04,256.93 L81.35,258.56 L81.66,260.28 L81.97,262.04 L82.28,263.83 L82.59,265.60 L82.90,267.33 L83.22,268.99 L83.53,270.54 L83.84,271.96 L84.15,273.21 L84.46,274.27 L84.77,275.15 L85.08,276.03 L85.39,276.89 L85.70,277.75 L86.01,278.59 L86.32,279.41 L86.63,280.20 L86.94,280.95 L87.25,281.67 L87.56,282.34 L87.87,282.96 L88.19,283.53 L88.50,284.03 L88.81,284.47 L89.12,284.84 L89.43,285.12 L89.74,285.33 L90.05,285.44 L90.36,285.46 L90.67,285.41 L90.98,285.30 L91.29,285.13 L91.60,284.92 L91.91,284.66 L92.22,284.38 L92.53,284.08 L92.84,283.75 L93.15,283.42 L93.47,283.09 L93.78,282.76 L94.09,282.44 L94.40,282.05 L94.71,281.58 L95.02,281.06 L95.33,280.49 L95.64,279.90 L95.95,279.31 L96.26,278.74 L96.57,278.21 L96.88,277.72 L97.19,277.32 L97.50,277.00 L97.81,276.80 L98.12,276.73 L98.44,276.77 L98.75,276.87 L99.06,277.04 L99.37,277.25 L99.68,277.51 L99.99,277.81 L100.30,278.14 L100.61,278.49 L100.92,278.85 L101.23,279.21 L101.54,279.57 L101.85,279.93 L102.16,280.26 L102.47,280.57 L102.78,280.85 L103.09,281.08 L103.41,281.29 L103.72,281.50 L104.03,281.71 L104.34,281.93 L104.65,282.14 L104.96,282.36 L105.27,282.58 L105.58,282.79 L105.89,283.01 L106.20,283.22 L106.51,283.43 L106.82,283.64 L107.13,283.84 L107.44,284.03 L107.75,284.22 L108.06,284.41 L108.37,284.58 L108.69,284.75 L109.00,284.91 L109.31,285.06 L109.62,285.19 L109.93,285.32 L110.24,285.43 L110.55,285.53 L110.86,285.62 L111.17,285.70 L111.48,285.75 L111.79,285.80 L112.10,285.82 L112.41,285.83 L112.72,285.82 L113.03,285.77 L113.34,285.70 L113.66,285.60 L113.97,285.48 L114.28,285.34 L114.59,285.17 L114.90,284.99 L115.21,284.79 L115.52,284.57 L115.83,284.34 L116.14,284.10 L116.45,283.84 L116.76,283.57 L117.07,283.30 L117.38,283.02 L117.69,282.73 L118.00,282.44 L118.31,282.15 L118.63,281.86 L118.94,281.57 L119.25,281.28 L119.56,280.99 L119.87,280.71 L120.18,280.44 L120.49,280.18 L120.80,279.90 L121.11,279.61 L121.42,279.31 L121.73,279.01 L122.04,278.69 L122.35,278.37 L122.66,278.04 L122.97,277.70 L123.28,277.36 L123.59,277.01 L123.91,276.66 L124.22,276.30 L124.53,275.94 L124.84,275.57 L125.15,275.21 L125.46,274.84 L125.77,274.47 L126.08,274.10 L126.39,273.73 L126.70,273.36 L127.01,273.00 L127.32,272.63 L127.63,272.27 L127.94,271.91 L128.25,271.56 L128.56,271.21 L128.88,270.86 L129.19,270.51 L129.50,270.16 L129.81,269.79 L130.12,269.42 L130.43,269.05 L130.74,268.67 L131.05,268.28 L131.36,267.90 L131.67,267.51 L131.98,267.13 L132.29,266.74 L132.60,266.36 L132.91,265.98 L133.22,265.60 L133.53,265.23 L133.85,264.87 L134.16,264.51 L134.47,264.16 L134.78,263.82 L135.09,263.49 L135.40,263.17 L135.71,262.86 L136.02,262.57 L136.33,262.29 L136.64,262.02 L136.95,261.77 L137.26,261.54 L137.57,261.33 L137.88,261.11 L138.19,260.89 L138.50,260.67 L138.81,260.45 L139.13,260.23 L139.44,260.01 L139.75,259.79 L140.06,259.59 L140.37,259.38 L140.68,259.19 L140.99,259.00 L141.30,258.82 L141.61,258.65 L141.92,258.49 L142.23,258.35 L142.54,258.22 L142.85,258.11 L143.16,258.01 L143.47,257.93 L143.78,257.87 L144.10,257.82 L144.41,257.80 L144.72,257.80 L145.03,257.83 L145.34,257.89 L145.65,257.97 L145.96,258.07 L146.27,258.20 L146.58,258.35 L146.89,258.51 L147.20,258.69 L147.51,258.89 L147.82,259.10 L148.13,259.32 L148.44,259.55 L148.75,259.79 L149.07,260.04 L149.38,260.29 L149.69,260.54 L150.00,260.80 L150.31,261.06 L150.62,261.32 L150.93,261.57 L151.24,261.82 L151.55,262.06 L151.86,262.30 L152.17,262.55 L152.48,262.82 L152.79,263.11 L153.10,263.40 L153.41,263.71 L153.72,264.03 L154.03,264.36 L154.35,264.70 L154.66,265.04 L154.97,265.39 L155.28,265.74 L155.59,266.10 L155.90,266.46 L156.21,266.81 L156.52,267.17 L156.83,267.52 L157.14,267.87 L157.45,268.22 L157.76,268.56 L158.07,268.89 L158.38,269.21 L158.69,269.53 L159.00,269.83 L159.32,270.12 L159.63,270.39 L159.94,270.65 L160.25,270.89 L160.56,271.13 L160.87,271.36 L161.18,271.58 L161.49,271.81 L161.80,272.03 L162.11,272.25 L162.42,272.47 L162.73,272.68 L163.04,272.89 L163.35,273.10 L163.66,273.30 L163.97,273.50 L164.29,273.69 L164.60,273.88 L164.91,274.07 L165.22,274.25 L165.53,274.43 L165.84,274.60 L166.15,274.77 L166.46,274.93 L166.77,275.09 L167.08,275.25 L167.39,275.39 L167.70,275.53 L168.01,275.67 L168.32,275.80 L168.63,275.93 L168.94,276.04 L169.26,276.16 L169.57,276.28 L169.88,276.41 L170.19,276.53 L170.50,276.65 L170.81,276.77 L171.12,276.89 L171.43,277.00 L171.74,277.11 L172.05,277.22 L172.36,277.32 L172.67,277.41 L172.98,277.49 L173.29,277.57 L173.60,277.64 L173.91,277.70 L174.22,277.75 L174.54,277.78 L174.85,277.81 L175.16,277.82 L175.47,277.82 L175.78,277.81 L176.09,277.80 L176.40,277.78 L176.71,277.75 L177.02,277.72 L177.33,277.68 L177.64,277.63 L177.95,277.58 L178.26,277.53 L178.57,277.47 L178.88,277.41 L179.19,277.35 L179.51,277.28 L179.82,277.21 L180.13,277.13 L180.44,277.06 L180.75,276.98 L181.06,276.90 L181.37,276.82 L181.68,276.73 L181.99,276.65 L182.30,276.57 L182.61,276.48 L182.92,276.40 L183.23,276.31 L183.54,276.23 L183.85,276.15 L184.16,276.07 L184.48,275.99 L184.79,275.91 L185.10,275.84 L185.41,275.76 L185.72,275.69 L186.03,275.63 L186.34,275.56 L186.65,275.49 L186.96,275.43 L187.27,275.36 L187.58,275.29 L187.89,275.22 L188.20,275.15 L188.51,275.08 L188.82,275.01 L189.13,274.94 L189.44,274.87 L189.76,274.80 L190.07,274.73 L190.38,274.66 L190.69,274.59 L191.00,274.52 L191.31,274.45 L191.62,274.38 L191.93,274.32 L192.24,274.25 L192.55,274.18 L192.86,274.11 L193.17,274.04 L193.48,273.97 L193.79,273.91 L194.10,273.84 L194.41,273.77 L194.73,273.71 L195.04,273.64 L195.35,273.58 L195.66,273.52 L195.97,273.45 L196.28,273.39 L196.59,273.33 L196.90,273.27 L197.21,273.21 L197.52,273.16 L197.83,273.10 L198.14,273.04 L198.45,272.99 L198.76,272.93 L199.07,272.87 L199.38,272.82 L199.70,272.76 L200.01,272.71 L200.32,272.66 L200.63,272.60 L200.94,272.55 L201.25,272.49 L201.56,272.44 L201.87,272.38 L202.18,272.33 L202.49,272.28 L202.80,272.22 L203.11,272.17 L203.42,272.11 L203.73,272.05 L204.04,272.00 L204.35,271.94 L204.66,271.88 L204.98,271.82 L205.29,271.77 L205.60,271.71 L205.91,271.65 L206.22,271.58 L206.53,271.52 L206.84,271.44 L207.15,271.37 L207.46,271.29 L207.77,271.21 L208.08,271.12 L208.39,271.04 L208.70,270.95 L209.01,270.86 L209.32,270.77 L209.63,270.68 L209.95,270.60 L210.26,270.51 L210.57,270.43 L210.88,270.35 L211.19,270.27 L211.50,270.20 L211.81,270.13 L212.12,270.07 L212.43,270.01 L212.74,269.96 L213.05,269.92 L213.36,269.88 L213.67,269.85 L213.98,269.83 L214.29,269.82 L214.60,269.81 L214.92,269.81 L215.23,269.81 L215.54,269.81 L215.85,269.81 L216.16,269.81 L216.47,269.81 L216.78,269.81 L217.09,269.81 L217.40,269.81" fill="none" stroke="#1496ff" stroke-width="1.25" stroke-linejoin="round" />
<path d="M31.56,343.71 L31.87,343.71 L32.18,343.71 L32.49,343.71 L32.80,343.70 L33.11,343.70 L33.42,343.69 L33.73,343.69 L34.04,343.68 L34.35,343.67 L34.66,343.66 L34.97,343.65 L35.28,343.64 L35.59,343.63 L35.90,343.62 L36.21,343.61 L36.52,343.59 L36.83,343.58 L37.14,343.57 L37.45,343.55 L37.76,343.54 L38.07,343.52 L38.38,343.51 L38.69,343.49 L39.00,343.48 L39.31,343.46 L39.62,343.45 L39.93,343.43 L40.24,343.41 L40.55,343.40 L40.86,343.38 L41.18,343.36 L41.49,343.34 L41.80,343.32 L42.11,343.29 L42.42,343.27 L42.73,343.24 L43.04,343.21 L43.35,343.18 L43.66,343.15 L43.97,343.11 L44.28,343.08 L44.59,343.03 L44.90,342.99 L45.21,342.94 L45.52,342.89 L45.83,342.84 L46.14,342.77 L46.45,342.66 L46.76,342.54 L47.07,342.39 L47.38,342.23 L47.69,342.06 L48.00,341.89 L48.31,341.72 L48.62,341.56 L48.93,341.41 L49.24,341.22 L49.55,341.03 L49.86,340.83 L50.17,340.66 L50.48,340.53 L50.79,340.45 L51.10,340.44 L51.41,340.49 L51.72,340.58 L52.03,340.70 L52.34,340.82 L52.65,340.94 L52.96,341.03 L53.28,341.08 L53.59,341.06 L53.90,340.90 L54.21,340.61 L54.52,340.21 L54.83,339.72 L55.14,339.15 L55.45,338.55 L55.76,337.92 L56.07,337.28 L56.38,336.60 L56.69,335.78 L57.00,334.84 L57.31,333.80 L57.62,332.68 L57.93,331.50 L58.24,330.28 L58.55,329.05 L58.86,327.82 L59.17,326.61 L59.48,325.44 L59.79,324.25 L60.10,323.04 L60.41,321.82 L60.72,320.57 L61.03,319.31 L61.34,318.03 L61.65,316.73 L61.96,315.41 L62.27,314.08 L62.58,312.72 L62.89,311.35 L63.20,309.97 L63.51,308.59 L63.82,307.21 L64.13,305.81 L64.44,304.37 L64.75,302.89 L65.06,301.34 L65.37,299.72 L65.69,298.01 L66.00,296.18 L66.31,294.16 L66.62,291.99 L66.93,289.68 L67.24,287.29 L67.55,284.85 L67.86,282.40 L68.17,279.97 L68.48,277.61 L68.79,275.35 L69.10,273.17 L69.41,271.04 L69.72,268.93 L70.03,266.83 L70.34,264.72 L70.65,262.59 L70.96,260.40 L71.27,258.14 L71.58,255.79 L71.89,253.04 L72.20,249.83 L72.51,246.36 L72.82,242.83 L73.13,239.46 L73.44,236.44 L73.75,233.99 L74.06,232.31 L74.37,231.60 L74.68,231.78 L74.99,232.42 L75.30,233.40 L75.61,234.65 L75.92,236.06 L76.23,237.54 L76.54,238.99 L76.85,240.33 L77.16,241.50 L77.47,242.64 L77.79,243.78 L78.10,244.92 L78.41,246.07 L78.72,247.23 L79.03,248.41 L79.34,249.62 L79.65,250.85 L79.96,252.12 L80.27,253.43 L80.58,254.84 L80.89,256.37 L81.20,258.01 L81.51,259.72 L81.82,261.04 L82.13,262.81 L82.44,264.58 L82.75,266.30 L83.06,267.96 L83.37,269.52 L83.68,270.96 L83.99,272.25 L84.30,273.36 L84.61,274.26 L84.92,275.09 L85.23,275.92 L85.54,276.73 L85.85,277.53 L86.16,278.30 L86.47,279.05 L86.78,279.77 L87.09,280.46 L87.40,281.10 L87.71,281.70 L88.02,282.25 L88.33,282.75 L88.64,283.19 L88.95,283.56 L89.26,283.86 L89.57,284.09 L89.89,284.23 L90.20,284.30 L90.51,284.29 L90.82,284.23 L91.13,284.13 L91.44,284.00 L91.75,283.83 L92.06,283.64 L92.37,283.42 L92.68,283.19 L92.99,282.94 L93.30,282.69 L93.61,282.43 L93.92,282.17 L94.23,281.88 L94.54,281.48 L94.85,281.01 L95.16,280.47 L95.47,279.90 L95.78,279.30 L96.09,278.71 L96.40,278.13 L96.71,277.60 L97.02,277.13 L97.33,276.75 L97.64,276.47 L97.95,276.32 L98.26,276.30 L98.57,276.37 L98.88,276.50 L99.19,276.69 L99.50,276.92 L99.81,277.20 L100.12,277.51 L100.43,277.85 L100.74,278.20 L101.05,278.57 L101.36,278.93 L101.67,279.29 L101.99,279.64 L102.30,279.96 L102.61,280.26 L102.92,280.51 L103.23,280.73 L103.54,280.94 L103.85,281.15 L104.16,281.36 L104.47,281.58 L104.78,281.80 L105.09,282.01 L105.40,282.23 L105.71,282.45 L106.02,282.66 L106.33,282.87 L106.64,283.08 L106.95,283.28 L107.26,283.48 L107.57,283.68 L107.88,283.86 L108.19,284.04 L108.50,284.21 L108.81,284.38 L109.12,284.53 L109.43,284.67 L109.74,284.81 L110.05,284.93 L110.36,285.04 L110.67,285.13 L110.98,285.22 L111.29,285.28 L111.60,285.34 L111.91,285.37 L112.22,285.39 L112.53,285.39 L112.84,285.36 L113.15,285.31 L113.46,285.23 L113.77,285.12 L114.09,284.99 L114.40,284.84 L114.71,284.67 L115.02,284.48 L115.33,284.27 L115.64,284.05 L115.95,283.81 L116.26,283.56 L116.57,283.30 L116.88,283.04 L117.19,282.76 L117.50,282.48 L117.81,282.19 L118.12,281.90 L118.43,281.61 L118.74,281.31 L119.05,281.02 L119.36,280.74 L119.67,280.45 L119.98,280.18 L120.29,279.91 L120.60,279.64 L120.91,279.36 L121.22,279.07 L121.53,278.77 L121.84,278.46 L122.15,278.14 L122.46,277.82 L122.77,277.48 L123.08,277.14 L123.39,276.80 L123.70,276.45 L124.01,276.10 L124.32,275.74 L124.63,275.38 L124.94,275.01 L125.25,274.64 L125.56,274.28 L125.87,273.91 L126.18,273.54 L126.50,273.17 L126.81,272.80 L127.12,272.44 L127.43,272.07 L127.74,271.71 L128.05,271.36 L128.36,271.00 L128.67,270.66 L128.98,270.31 L129.29,269.96 L129.60,269.60 L129.91,269.24 L130.22,268.86 L130.53,268.49 L130.84,268.11 L131.15,267.72 L131.46,267.34 L131.77,266.95 L132.08,266.57 L132.39,266.18 L132.70,265.80 L133.01,265.42 L133.32,265.05 L133.63,264.68 L133.94,264.32 L134.25,263.96 L134.56,263.62 L134.87,263.28 L135.18,262.95 L135.49,262.64 L135.80,262.33 L136.11,262.04 L136.42,261.77 L136.73,261.51 L137.04,261.26 L137.35,261.03 L137.66,260.82 L137.97,260.60 L138.28,260.38 L138.60,260.16 L138.91,259.93 L139.22,259.71 L139.53,259.50 L139.84,259.28 L140.15,259.07 L140.46,258.87 L140.77,258.68 L141.08,258.49 L141.39,258.31 L141.70,258.14 L142.01,257.99 L142.32,257.84 L142.63,257.72 L142.94,257.60 L143.25,257.51 L143.56,257.43 L143.87,257.36 L144.18,257.32 L144.49,257.30 L144.80,257.31 L145.11,257.34 L145.42,257.39 L145.73,257.47 L146.04,257.58 L146.35,257.70 L146.66,257.84 L146.97,258.00 L147.28,258.18 L147.59,258.36 L147.90,258.57 L148.21,258.78 L148.52,259.00 L148.83,259.23 L149.14,259.47 L149.45,259.71 L149.76,259.95 L150.07,260.19 L150.38,260.43 L150.70,260.67 L151.01,260.91 L151.32,261.14 L151.63,261.36 L151.94,261.59 L152.25,261.83 L152.56,262.08 L152.87,262.35 L153.18,262.63 L153.49,262.92 L153.80,263.22 L154.11,263.53 L154.42,263.85 L154.73,264.18 L155.04,264.50 L155.35,264.84 L155.66,265.17 L155.97,265.51 L156.28,265.85 L156.59,266.18 L156.90,266.52 L157.21,266.85 L157.52,267.17 L157.83,267.49 L158.14,267.80 L158.45,268.11 L158.76,268.40 L159.07,268.68 L159.38,268.96 L159.69,269.21 L160.00,269.46 L160.31,269.68 L160.62,269.91 L160.93,270.13 L161.24,270.34 L161.55,270.56 L161.86,270.78 L162.17,270.99 L162.48,271.20 L162.80,271.41 L163.11,271.62 L163.42,271.83 L163.73,272.03 L164.04,272.23 L164.35,272.43 L164.66,272.63 L164.97,272.82 L165.28,273.01 L165.59,273.19 L165.90,273.38 L166.21,273.55 L166.52,273.73 L166.83,273.90 L167.14,274.06 L167.45,274.23 L167.76,274.38 L168.07,274.53 L168.38,274.68 L168.69,274.82 L169.00,274.96 L169.31,275.10 L169.62,275.24 L169.93,275.38 L170.24,275.52 L170.55,275.66 L170.86,275.80 L171.17,275.94 L171.48,276.07 L171.79,276.20 L172.10,276.33 L172.41,276.44 L172.72,276.56 L173.03,276.66 L173.34,276.76 L173.65,276.84 L173.96,276.92 L174.27,276.98 L174.58,277.03 L174.90,277.07 L175.21,277.10 L175.52,277.11 L175.83,277.12 L176.14,277.12 L176.45,277.11 L176.76,277.10 L177.07,277.08 L177.38,277.05 L177.69,277.02 L178.00,276.98 L178.31,276.94 L178.62,276.89 L178.93,276.84 L179.24,276.78 L179.55,276.72 L179.86,276.66 L180.17,276.59 L180.48,276.52 L180.79,276.45 L181.10,276.38 L181.41,276.30 L181.72,276.22 L182.03,276.15 L182.34,276.07 L182.65,275.99 L182.96,275.91 L183.27,275.83 L183.58,275.75 L183.89,275.67 L184.20,275.59 L184.51,275.52 L184.82,275.44 L185.13,275.37 L185.44,275.30 L185.75,275.23 L186.06,275.17 L186.37,275.10 L186.68,275.04 L186.99,274.97 L187.31,274.90 L187.62,274.84 L187.93,274.77 L188.24,274.70 L188.55,274.63 L188.86,274.56 L189.17,274.50 L189.48,274.43 L189.79,274.36 L190.10,274.29 L190.41,274.22 L190.72,274.15 L191.03,274.08 L191.34,274.01 L191.65,273.94 L191.96,273.87 L192.27,273.80 L192.58,273.73 L192.89,273.66 L193.20,273.60 L193.51,273.53 L193.82,273.46 L194.13,273.40 L194.44,273.33 L194.75,273.27 L195.06,273.20 L195.37,273.14 L195.68,273.07 L195.99,273.01 L196.30,272.95 L196.61,272.89 L196.92,272.83 L197.23,272.78 L197.54,272.72 L197.85,272.66 L198.16,272.61 L198.47,272.55 L198.78,272.50 L199.09,272.44 L199.41,272.39 L199.72,272.34 L200.03,272.29 L200.34,272.23 L200.65,272.18 L200.96,272.13 L201.27,272.07 L201.58,272.02 L201.89,271.97 L202.20,271.91 L202.51,271.86 L202.82,271.81 L203.13,271.75 L203.44,271.69 L203.75,271.64 L204.06,271.58 L204.37,271.52 L204.68,271.46 L204.99,271.40 L205.30,271.34 L205.61,271.27 L205.92,271.21 L206.23,271.14 L206.54,271.06 L206.85,270.98 L207.16,270.89 L207.47,270.80 L207.78,270.71 L208.09,270.61 L208.40,270.50 L208.71,270.40 L209.02,270.29 L209.33,270.19 L209.64,270.08 L209.95,269.98 L210.26,269.87 L210.57,269.77 L210.88,269.68 L211.19,269.58 L211.51,269.49 L211.82,269.41 L212.13,269.33 L212.44,269.26 L212.75,269.20 L213.06,269.14 L213.37,269.09 L213.68,269.06 L213.99,269.03 L214.30,269.02 L214.61,269.01 L214.92,269.01 L215.23,269.01 L215.54,269.01 L215.85,269.01 L216.16,269.01 L216.47,269.01 L216.78,269.01 L217.09,269.01 L217.40,269.01" fill="none" stroke="#21c2c8" stroke-width="1.25" stroke-linejoin="round" />
<line x1="155.00" y1="208.40" x2="173.60" y2="208.40" stroke="#a9a3dc" stroke-width="1.0" />
<text x="175.40" y="211.30" font-size="8.2" text-anchor="start" fill="#a9a3dc" >Ni foil</text>
<line x1="155.00" y1="218.45" x2="173.60" y2="218.45" stroke="#ff8a2b" stroke-width="1.0" />
<text x="175.40" y="221.35" font-size="8.2" text-anchor="start" fill="#ff8a2b" >NiO-300</text>
<line x1="155.00" y1="228.50" x2="173.60" y2="228.50" stroke="#21c2c8" stroke-width="1.0" />
<text x="175.40" y="231.40" font-size="8.2" text-anchor="start" fill="#21c2c8" >NiO-400</text>
<line x1="155.00" y1="238.55" x2="173.60" y2="238.55" stroke="#1496ff" stroke-width="1.0" />
<text x="175.40" y="241.45" font-size="8.2" text-anchor="start" fill="#1496ff" >NiO-500</text>
<line x1="155.00" y1="248.60" x2="173.60" y2="248.60" stroke="#e066f0" stroke-width="1.0" />
<text x="175.40" y="251.50" font-size="8.2" text-anchor="start" fill="#e066f0" >NiO-ref.</text>
<text x="36.60" y="208.70" font-size="8.1" text-anchor="start" fill="#000" >Ni-K edge</text>
<rect x="62.40" y="303.60" width="4.60" height="10.10" fill="none" stroke="#e8202a" stroke-width="0.95" stroke-dasharray="1.4,0.9"/>
<line x1="74.30" y1="308.30" x2="91.00" y2="308.30" stroke="#e8202a" stroke-width="1.3" />
<path d="M90.2,305.3 L96.4,308.3 L90.2,311.3 Z" fill="#e8202a"/>
<line x1="83.20" y1="338.80" x2="159.90" y2="338.80" stroke="#111" stroke-width="0.9" />
<line x1="83.20" y1="338.80" x2="83.20" y2="340.40" stroke="#111" stroke-width="0.7" />
<line x1="102.40" y1="338.80" x2="102.40" y2="339.80" stroke="#111" stroke-width="0.7" />
<line x1="121.60" y1="338.80" x2="121.60" y2="340.40" stroke="#111" stroke-width="0.7" />
<line x1="140.80" y1="338.80" x2="140.80" y2="339.80" stroke="#111" stroke-width="0.7" />
<line x1="159.90" y1="338.80" x2="159.90" y2="340.40" stroke="#111" stroke-width="0.7" />
<text x="83.90" y="346.20" font-size="5.3" text-anchor="middle" fill="#333" >8340</text>
<text x="121.60" y="346.20" font-size="5.3" text-anchor="middle" fill="#333" >8341</text>
<text x="159.90" y="346.20" font-size="5.3" text-anchor="middle" fill="#333" >8342</text>
<path d="M95.80,338.60 L97.43,336.61 L99.06,334.62 L100.69,332.63 L102.32,330.64 L103.96,328.67 L105.59,326.70 L107.22,324.74 L108.85,322.79 L110.48,320.86 L112.11,318.93 L113.74,317.02 L115.37,315.13 L117.00,313.25 L118.63,311.39 L120.27,309.54 L121.90,307.71 L123.53,305.89 L125.16,304.09 L126.79,302.30 L128.42,300.53 L130.05,298.76 L131.68,297.02 L133.31,295.28 L134.94,293.55 L136.58,291.83 L138.21,290.12 L139.84,288.41 L141.47,286.70 L143.10,285.00" fill="none" stroke="#e066f0" stroke-width="1.3" stroke-linejoin="round" />
<path d="M98.30,338.60 L100.10,336.61 L101.89,334.62 L103.69,332.63 L105.49,330.64 L107.28,328.67 L109.08,326.70 L110.88,324.74 L112.67,322.79 L114.47,320.86 L116.27,318.93 L118.06,317.02 L119.86,315.13 L121.66,313.25 L123.45,311.39 L125.25,309.54 L127.04,307.71 L128.84,305.89 L130.64,304.09 L132.43,302.30 L134.23,300.53 L136.03,298.76 L137.82,297.02 L139.62,295.28 L141.42,293.55 L143.21,291.83 L145.01,290.12 L146.81,288.41 L148.60,286.70 L150.40,285.00" fill="none" stroke="#1496ff" stroke-width="1.3" stroke-linejoin="round" />
<path d="M101.20,338.60 L103.02,336.61 L104.84,334.62 L106.66,332.63 L108.48,330.64 L110.30,328.67 L112.12,326.70 L113.94,324.74 L115.77,322.79 L117.59,320.86 L119.41,318.93 L121.23,317.02 L123.05,315.13 L124.87,313.25 L126.69,311.39 L128.51,309.54 L130.33,307.71 L132.15,305.89 L133.97,304.09 L135.79,302.30 L137.61,300.53 L139.43,298.76 L141.26,297.02 L143.08,295.28 L144.90,293.55 L146.72,291.83 L148.54,290.12 L150.36,288.41 L152.18,286.70 L154.00,285.00" fill="none" stroke="#21c2c8" stroke-width="1.3" stroke-linejoin="round" />
<path d="M107.90,338.60 L109.67,336.61 L111.43,334.62 L113.20,332.63 L114.96,330.64 L116.73,328.67 L118.49,326.70 L120.26,324.74 L122.02,322.79 L123.79,320.86 L125.56,318.93 L127.32,317.02 L129.09,315.13 L130.85,313.25 L132.62,311.39 L134.38,309.54 L136.15,307.71 L137.91,305.89 L139.68,304.09 L141.44,302.30 L143.21,300.53 L144.98,298.76 L146.74,297.02 L148.51,295.28 L150.27,293.55 L152.04,291.83 L153.80,290.12 L155.57,288.41 L157.33,286.70 L159.10,285.00" fill="none" stroke="#ff8a2b" stroke-width="1.3" stroke-linejoin="round" />
<text x="8.80" y="276.30" font-size="9.2" text-anchor="middle" fill="#000" transform="rotate(-90 8.80 276.30)" >Normalized <tspan font-style="italic">χ</tspan>μ(E)</text>
<text x="125.20" y="373.70" font-size="9.6" text-anchor="middle" fill="#000" >Eenegy (eV)</text>
<text x="0.00" y="0.00" font-size="18.0" text-anchor="start" fill="#000" transform="translate(1.3,204.9) scale(1.1,1)">d</text>
<rect x="268.40" y="198.30" width="181.80" height="152.50" fill="none" stroke="#3a3a3a" stroke-width="0.9" />
<line x1="265.30" y1="336.94" x2="268.40" y2="336.94" stroke="#333" stroke-width="0.8" />
<text x="263.40" y="339.69" font-size="8.2" text-anchor="end" fill="#000" >0</text>
<line x1="265.30" y1="309.21" x2="268.40" y2="309.21" stroke="#333" stroke-width="0.8" />
<text x="263.40" y="311.96" font-size="8.2" text-anchor="end" fill="#000" >1</text>
<line x1="265.30" y1="281.48" x2="268.40" y2="281.48" stroke="#333" stroke-width="0.8" />
<text x="263.40" y="284.23" font-size="8.2" text-anchor="end" fill="#000" >2</text>
<line x1="265.30" y1="253.75" x2="268.40" y2="253.75" stroke="#333" stroke-width="0.8" />
<text x="263.40" y="256.50" font-size="8.2" text-anchor="end" fill="#000" >3</text>
<line x1="265.30" y1="226.03" x2="268.40" y2="226.03" stroke="#333" stroke-width="0.8" />
<text x="263.40" y="228.78" font-size="8.2" text-anchor="end" fill="#000" >4</text>
<line x1="265.30" y1="198.30" x2="268.40" y2="198.30" stroke="#333" stroke-width="0.8" />
<text x="263.40" y="201.05" font-size="8.2" text-anchor="end" fill="#000" >5</text>
<line x1="266.80" y1="323.07" x2="268.40" y2="323.07" stroke="#333" stroke-width="0.8" />
<line x1="266.80" y1="295.35" x2="268.40" y2="295.35" stroke="#333" stroke-width="0.8" />
<line x1="266.80" y1="267.62" x2="268.40" y2="267.62" stroke="#333" stroke-width="0.8" />
<line x1="266.80" y1="239.89" x2="268.40" y2="239.89" stroke="#333" stroke-width="0.8" />
<line x1="266.80" y1="212.16" x2="268.40" y2="212.16" stroke="#333" stroke-width="0.8" />
<line x1="268.40" y1="350.80" x2="268.40" y2="353.40" stroke="#333" stroke-width="0.8" />
<text x="268.40" y="362.90" font-size="8.2" text-anchor="middle" fill="#000" >0</text>
<line x1="313.85" y1="350.80" x2="313.85" y2="353.40" stroke="#333" stroke-width="0.8" />
<text x="313.85" y="362.90" font-size="8.2" text-anchor="middle" fill="#000" >1</text>
<line x1="359.30" y1="350.80" x2="359.30" y2="353.40" stroke="#333" stroke-width="0.8" />
<text x="359.30" y="362.90" font-size="8.2" text-anchor="middle" fill="#000" >2</text>
<line x1="404.75" y1="350.80" x2="404.75" y2="353.40" stroke="#333" stroke-width="0.8" />
<text x="404.75" y="362.90" font-size="8.2" text-anchor="middle" fill="#000" >3</text>
<line x1="450.20" y1="350.80" x2="450.20" y2="353.40" stroke="#333" stroke-width="0.8" />
<text x="450.20" y="362.90" font-size="8.2" text-anchor="middle" fill="#000" >4</text>
<line x1="291.12" y1="350.80" x2="291.12" y2="352.40" stroke="#333" stroke-width="0.8" />
<line x1="336.57" y1="350.80" x2="336.57" y2="352.40" stroke="#333" stroke-width="0.8" />
<line x1="382.02" y1="350.80" x2="382.02" y2="352.40" stroke="#333" stroke-width="0.8" />
<line x1="427.48" y1="350.80" x2="427.48" y2="352.40" stroke="#333" stroke-width="0.8" />
<path d="M268.40,335.00 L268.70,334.76 L269.01,334.52 L269.31,334.31 L269.61,334.11 L269.92,333.94 L270.22,333.80 L270.52,333.70 L270.83,333.63 L271.13,333.61 L271.44,333.63 L271.74,333.69 L272.04,333.79 L272.35,333.92 L272.65,334.09 L272.95,334.29 L273.26,334.50 L273.56,334.73 L273.86,334.97 L274.17,335.21 L274.47,335.45 L274.77,335.67 L275.08,335.87 L275.38,336.04 L275.68,336.18 L275.99,336.29 L276.29,336.35 L276.59,336.38 L276.90,336.37 L277.20,336.31 L277.51,336.21 L277.81,336.08 L278.11,335.92 L278.42,335.72 L278.72,335.51 L279.02,335.28 L279.33,335.04 L279.63,334.80 L279.93,334.57 L280.24,334.35 L280.54,334.14 L280.84,333.97 L281.15,333.82 L281.45,333.71 L281.75,333.64 L282.06,333.61 L282.36,333.62 L282.66,333.67 L282.97,333.77 L283.27,333.89 L283.58,334.06 L283.88,334.25 L284.18,334.46 L284.49,334.69 L284.79,334.93 L285.09,335.17 L285.40,335.40 L285.70,335.63 L286.00,335.83 L286.31,336.01 L286.61,336.16 L286.91,336.27 L287.22,336.35 L287.52,336.38 L287.82,336.37 L288.13,336.32 L288.43,336.24 L288.73,336.11 L289.04,335.95 L289.34,335.76 L289.65,335.55 L289.95,335.32 L290.25,335.09 L290.56,334.85 L290.86,334.61 L291.16,334.39 L291.47,334.18 L291.77,334.00 L292.07,333.85 L292.38,333.73 L292.68,333.65 L292.98,333.61 L293.29,333.62 L293.59,333.66 L293.89,333.75 L294.20,333.87 L294.50,334.02 L294.81,334.21 L295.11,334.42 L295.41,334.64 L295.72,334.88 L296.02,335.12 L296.32,335.36 L296.63,335.58 L296.93,335.79 L297.23,335.98 L297.54,336.13 L297.84,336.25 L298.14,336.33 L298.45,336.37 L298.75,336.37 L299.05,336.33 L299.36,336.25 L299.66,336.12 L299.96,335.96 L300.27,335.77 L300.57,335.56 L300.88,335.32 L301.18,335.06 L301.48,334.80 L301.79,334.54 L302.09,334.27 L302.39,334.02 L302.70,333.78 L303.00,333.56 L303.30,333.36 L303.61,333.19 L303.91,333.04 L304.21,332.93 L304.52,332.84 L304.82,332.79 L305.12,332.76 L305.43,332.77 L305.73,332.80 L306.03,332.85 L306.34,332.93 L306.64,333.03 L306.95,333.15 L307.25,333.28 L307.55,333.43 L307.86,333.58 L308.16,333.73 L308.46,333.89 L308.77,334.03 L309.07,334.17 L309.37,334.29 L309.68,334.39 L309.98,334.47 L310.28,334.53 L310.59,334.56 L310.89,334.56 L311.19,334.53 L311.50,334.48 L311.80,334.41 L312.10,334.31 L312.41,334.21 L312.71,334.10 L313.02,334.00 L313.32,333.91 L313.62,333.83 L313.93,333.78 L314.23,333.77 L314.53,333.80 L314.84,333.88 L315.14,334.02 L315.44,334.21 L315.75,334.46 L316.05,334.76 L316.35,335.11 L316.66,335.51 L316.96,335.93 L317.26,336.38 L317.57,336.83 L317.87,336.94 L318.17,336.94 L318.48,336.94 L318.78,336.94 L319.09,336.94 L319.39,336.94 L319.69,336.94 L320.00,336.94 L320.30,336.94 L320.60,336.94 L320.91,336.94 L321.21,336.94 L321.51,336.94 L321.82,336.94 L322.12,336.50 L322.42,335.98 L322.73,335.43 L323.03,334.87 L323.33,334.31 L323.64,333.76 L323.94,333.21 L324.25,332.68 L324.55,332.17 L324.85,331.68 L325.16,331.23 L325.46,330.80 L325.76,330.41 L326.07,330.06 L326.37,329.75 L326.67,329.49 L326.98,329.26 L327.28,329.08 L327.58,328.93 L327.89,328.83 L328.19,328.76 L328.49,328.72 L328.80,328.71 L329.10,328.71 L329.40,328.73 L329.71,328.76 L330.01,328.78 L330.32,328.80 L330.62,328.79 L330.92,328.76 L331.23,328.70 L331.53,328.60 L331.83,328.46 L332.14,328.26 L332.44,328.01 L332.74,327.71 L333.05,327.36 L333.35,326.95 L333.65,326.48 L333.96,325.97 L334.26,325.41 L334.56,324.82 L334.87,324.19 L335.17,323.54 L335.47,322.88 L335.78,322.20 L336.08,321.52 L336.39,320.86 L336.69,320.20 L336.99,319.57 L337.30,318.97 L337.60,318.39 L337.90,317.85 L338.21,317.34 L338.51,316.87 L338.81,316.44 L339.12,316.04 L339.42,315.66 L339.72,315.31 L340.03,314.98 L340.33,314.66 L340.63,314.34 L340.94,314.02 L341.24,313.69 L341.54,313.34 L341.85,312.96 L342.15,312.55 L342.46,312.10 L342.76,311.61 L343.06,311.06 L343.37,310.46 L343.67,309.80 L343.97,309.08 L344.28,308.31 L344.58,307.47 L344.88,306.58 L345.19,305.64 L345.49,304.64 L345.79,303.59 L346.10,302.50 L346.40,301.37 L346.70,300.20 L347.01,299.00 L347.31,297.77 L347.62,296.51 L347.92,295.22 L348.22,293.91 L348.53,292.58 L348.83,291.22 L349.13,289.84 L349.44,288.43 L349.74,286.99 L350.04,285.52 L350.35,284.01 L350.65,282.47 L350.95,280.87 L351.26,279.24 L351.56,277.55 L351.86,275.80 L352.17,274.00 L352.47,272.14 L352.77,270.22 L353.08,268.24 L353.38,266.20 L353.69,264.11 L353.99,261.97 L354.29,259.78 L354.60,257.56 L354.90,255.30 L355.20,253.02 L355.51,250.72 L355.81,248.43 L356.11,246.14 L356.42,243.88 L356.72,241.64 L357.02,239.45 L357.33,237.31 L357.63,235.23 L357.93,233.23 L358.24,231.31 L358.54,229.47 L358.84,227.74 L359.15,226.10 L359.45,224.57 L359.76,223.14 L360.06,221.83 L360.36,220.62 L360.67,219.51 L360.97,218.51 L361.27,217.61 L361.58,216.81 L361.88,216.09 L362.18,215.46 L362.49,214.92 L362.79,214.45 L363.09,214.05 L363.40,213.72 L363.70,213.45 L364.00,213.24 L364.31,213.10 L364.61,213.00 L364.91,212.97 L365.22,213.00 L365.52,213.09 L365.83,213.24 L366.13,213.46 L366.43,213.75 L366.74,214.12 L367.04,214.57 L367.34,215.11 L367.65,215.74 L367.95,216.48 L368.25,217.31 L368.56,218.25 L368.86,219.30 L369.16,220.47 L369.47,221.74 L369.77,223.13 L370.07,224.63 L370.38,226.24 L370.68,227.95 L370.98,229.76 L371.29,231.66 L371.59,233.64 L371.90,235.70 L372.20,237.82 L372.50,239.99 L372.81,242.21 L373.11,244.45 L373.41,246.72 L373.72,248.99 L374.02,251.27 L374.32,253.53 L374.63,255.78 L374.93,258.00 L375.23,260.18 L375.54,262.33 L375.84,264.43 L376.14,266.49 L376.45,268.51 L376.75,270.48 L377.06,272.40 L377.36,274.28 L377.66,276.13 L377.97,277.94 L378.27,279.72 L378.57,281.47 L378.88,283.21 L379.18,284.93 L379.48,286.64 L379.79,288.34 L380.09,290.04 L380.39,291.74 L380.70,293.45 L381.00,295.15 L381.30,296.86 L381.61,298.56 L381.91,300.26 L382.21,301.96 L382.52,303.64 L382.82,305.30 L383.13,306.94 L383.43,308.54 L383.73,310.11 L384.04,311.62 L384.34,313.08 L384.64,314.47 L384.95,315.80 L385.25,317.04 L385.55,318.20 L385.86,319.28 L386.16,320.27 L386.46,321.16 L386.77,321.96 L387.07,322.68 L387.37,323.30 L387.68,323.84 L387.98,324.30 L388.28,324.68 L388.59,325.00 L388.89,325.26 L389.20,325.46 L389.50,325.61 L389.80,325.72 L390.11,325.80 L390.41,325.85 L390.71,325.87 L391.02,325.86 L391.32,325.83 L391.62,325.78 L391.93,325.71 L392.23,325.62 L392.53,325.51 L392.84,325.38 L393.14,325.23 L393.44,325.06 L393.75,324.86 L394.05,324.65 L394.35,324.43 L394.66,324.18 L394.96,323.93 L395.27,323.66 L395.57,323.38 L395.87,323.10 L396.18,322.81 L396.48,322.52 L396.78,322.23 L397.09,321.95 L397.39,321.66 L397.69,321.39 L398.00,321.12 L398.30,320.86 L398.60,320.61 L398.91,320.38 L399.21,320.16 L399.51,319.95 L399.82,319.76 L400.12,319.59 L400.43,319.43 L400.73,319.29 L401.03,319.17 L401.34,319.07 L401.64,318.99 L401.94,318.93 L402.25,318.88 L402.55,318.86 L402.85,318.85 L403.16,318.86 L403.46,318.89 L403.76,318.93 L404.07,319.00 L404.37,319.07 L404.67,319.16 L404.98,319.27 L405.28,319.39 L405.58,319.51 L405.89,319.65 L406.19,319.80 L406.50,319.95 L406.80,320.11 L407.10,320.27 L407.41,320.44 L407.71,320.60 L408.01,320.77 L408.32,320.94 L408.62,321.10 L408.92,321.26 L409.23,321.41 L409.53,321.56 L409.83,321.71 L410.14,321.85 L410.44,321.97 L410.74,322.10 L411.05,322.21 L411.35,322.31 L411.65,322.41 L411.96,322.49 L412.26,322.57 L412.57,322.64 L412.87,322.69 L413.17,322.74 L413.48,322.78 L413.78,322.81 L414.08,322.83 L414.39,322.84 L414.69,322.84 L414.99,322.84 L415.30,322.82 L415.60,322.80 L415.90,322.77 L416.21,322.74 L416.51,322.69 L416.81,322.64 L417.12,322.58 L417.42,322.52 L417.72,322.45 L418.03,322.37 L418.33,322.29 L418.64,322.19 L418.94,322.10 L419.24,321.99 L419.55,321.88 L419.85,321.77 L420.15,321.65 L420.46,321.52 L420.76,321.38 L421.06,321.24 L421.37,321.09 L421.67,320.93 L421.97,320.77 L422.28,320.60 L422.58,320.42 L422.88,320.24 L423.19,320.05 L423.49,319.85 L423.79,319.64 L424.10,319.43 L424.40,319.20 L424.71,318.97 L425.01,318.73 L425.31,318.49 L425.62,318.23 L425.92,317.97 L426.22,317.69 L426.53,317.41 L426.83,317.12 L427.13,316.83 L427.44,316.52 L427.74,316.20 L428.04,315.88 L428.35,315.55 L428.65,315.21 L428.95,314.86 L429.26,314.51 L429.56,314.15 L429.87,313.78 L430.17,313.40 L430.47,313.02 L430.78,312.63 L431.08,312.24 L431.38,311.84 L431.69,311.43 L431.99,311.02 L432.29,310.61 L432.60,310.19 L432.90,309.77 L433.20,309.35 L433.51,308.93 L433.81,308.50 L434.11,308.07 L434.42,307.65 L434.72,307.22 L435.02,306.79 L435.33,306.37 L435.63,305.95 L435.94,305.52 L436.24,305.11 L436.54,304.69 L436.85,304.28 L437.15,303.88 L437.45,303.48 L437.76,303.08 L438.06,302.69 L438.36,302.31 L438.67,301.93 L438.97,301.56 L439.27,301.20 L439.58,300.84 L439.88,300.49 L440.18,300.15 L440.49,299.82 L440.79,299.50 L441.09,299.18 L441.40,298.87 L441.70,298.57 L442.01,298.28 L442.31,298.00 L442.61,297.73 L442.92,297.46 L443.22,297.20 L443.52,296.95 L443.83,296.71 L444.13,296.48 L444.43,296.26 L444.74,296.04 L445.04,295.83 L445.34,295.63 L445.65,295.43 L445.95,295.25 L446.25,295.07 L446.56,294.90 L446.86,294.73 L447.16,294.57 L447.47,294.42 L447.77,294.27 L448.08,294.13 L448.38,293.99 L448.68,293.87 L448.99,293.74 L449.29,293.62 L449.59,293.51 L449.90,293.40 L450.20,293.30" fill="none" stroke="#a9a3dc" stroke-width="1.0" stroke-linejoin="round" />
<path d="M268.40,330.25 L268.70,330.15 L269.01,330.06 L269.31,329.98 L269.61,329.90 L269.92,329.83 L270.22,329.77 L270.52,329.72 L270.83,329.68 L271.13,329.65 L271.44,329.62 L271.74,329.61 L272.04,329.61 L272.35,329.63 L272.65,329.65 L272.95,329.68 L273.26,329.72 L273.56,329.77 L273.86,329.83 L274.17,329.90 L274.47,329.98 L274.77,330.06 L275.08,330.15 L275.38,330.25 L275.68,330.35 L275.99,330.46 L276.29,330.57 L276.59,330.68 L276.90,330.79 L277.20,330.91 L277.51,331.02 L277.81,331.13 L278.11,331.24 L278.42,331.34 L278.72,331.44 L279.02,331.53 L279.33,331.62 L279.63,331.70 L279.93,331.77 L280.24,331.83 L280.54,331.89 L280.84,331.93 L281.15,331.97 L281.45,331.99 L281.75,332.01 L282.06,332.01 L282.36,332.00 L282.66,331.98 L282.97,331.95 L283.27,331.91 L283.58,331.86 L283.88,331.80 L284.18,331.73 L284.49,331.65 L284.79,331.57 L285.09,331.48 L285.40,331.37 L285.70,331.27 L286.00,331.16 L286.31,331.04 L286.61,330.92 L286.91,330.80 L287.22,330.68 L287.52,330.56 L287.82,330.44 L288.13,330.32 L288.43,330.20 L288.73,330.09 L289.04,329.98 L289.34,329.87 L289.65,329.78 L289.95,329.68 L290.25,329.60 L290.56,329.53 L290.86,329.46 L291.16,329.40 L291.47,329.35 L291.77,329.31 L292.07,329.29 L292.38,329.27 L292.68,329.26 L292.98,329.26 L293.29,329.27 L293.59,329.29 L293.89,329.32 L294.20,329.36 L294.50,329.40 L294.81,329.45 L295.11,329.51 L295.41,329.58 L295.72,329.65 L296.02,329.73 L296.32,329.80 L296.63,329.89 L296.93,329.97 L297.23,330.05 L297.54,330.14 L297.84,330.22 L298.14,330.30 L298.45,330.37 L298.75,330.44 L299.05,330.51 L299.36,330.57 L299.66,330.62 L299.96,330.67 L300.27,330.70 L300.57,330.73 L300.88,330.75 L301.18,330.76 L301.48,330.75 L301.79,330.74 L302.09,330.71 L302.39,330.68 L302.70,330.63 L303.00,330.57 L303.30,330.50 L303.61,330.41 L303.91,330.32 L304.21,330.22 L304.52,330.10 L304.82,329.98 L305.12,329.85 L305.43,329.71 L305.73,329.57 L306.03,329.42 L306.34,329.26 L306.64,329.10 L306.95,328.93 L307.25,328.77 L307.55,328.60 L307.86,328.43 L308.16,328.26 L308.46,328.10 L308.77,327.93 L309.07,327.77 L309.37,327.62 L309.68,327.47 L309.98,327.33 L310.28,327.19 L310.59,327.07 L310.89,326.95 L311.19,326.84 L311.50,326.74 L311.80,326.65 L312.10,326.57 L312.41,326.51 L312.71,326.45 L313.02,326.40 L313.32,326.37 L313.62,326.35 L313.93,326.33 L314.23,326.33 L314.53,326.34 L314.84,326.35 L315.14,326.38 L315.44,326.41 L315.75,326.45 L316.05,326.49 L316.35,326.54 L316.66,326.59 L316.96,326.65 L317.26,326.71 L317.57,326.76 L317.87,326.82 L318.17,326.88 L318.48,326.93 L318.78,326.98 L319.09,327.02 L319.39,327.06 L319.69,327.08 L320.00,327.10 L320.30,327.11 L320.60,327.11 L320.91,327.09 L321.21,327.06 L321.51,327.01 L321.82,326.95 L322.12,326.88 L322.42,326.78 L322.73,326.67 L323.03,326.54 L323.33,326.39 L323.64,326.22 L323.94,326.03 L324.25,325.82 L324.55,325.59 L324.85,325.34 L325.16,325.07 L325.46,324.78 L325.76,324.47 L326.07,324.14 L326.37,323.79 L326.67,323.43 L326.98,323.04 L327.28,322.64 L327.58,322.08 L327.89,321.76 L328.19,321.42 L328.49,321.07 L328.80,320.71 L329.10,320.32 L329.40,319.93 L329.71,319.52 L330.01,319.10 L330.32,318.66 L330.62,318.21 L330.92,317.74 L331.23,317.26 L331.53,316.78 L331.83,316.28 L332.14,315.77 L332.44,315.25 L332.74,314.72 L333.05,314.18 L333.35,313.64 L333.65,313.10 L333.96,312.55 L334.26,312.00 L334.56,311.45 L334.87,310.90 L335.17,310.35 L335.47,309.81 L335.78,309.28 L336.08,308.75 L336.39,308.23 L336.69,307.72 L336.99,307.23 L337.30,306.75 L337.60,306.29 L337.90,305.85 L338.21,305.43 L338.51,305.03 L338.81,304.66 L339.12,304.31 L339.42,303.98 L339.72,303.69 L340.03,303.42 L340.33,303.19 L340.63,302.99 L340.94,302.82 L341.24,302.69 L341.54,302.59 L341.85,302.53 L342.15,302.50 L342.46,302.51 L342.76,302.56 L343.06,302.64 L343.37,302.77 L343.67,302.93 L343.97,303.12 L344.28,303.36 L344.58,303.63 L344.88,303.93 L345.19,304.27 L345.49,304.65 L345.79,305.05 L346.10,305.49 L346.40,305.96 L346.70,306.46 L347.01,306.98 L347.31,307.54 L347.62,308.11 L347.92,308.71 L348.22,309.33 L348.53,309.97 L348.83,310.63 L349.13,311.30 L349.44,311.99 L349.74,312.69 L350.04,313.40 L350.35,314.12 L350.65,314.85 L350.95,315.58 L351.26,316.32 L351.56,317.06 L351.86,317.80 L352.17,318.54 L352.47,319.28 L352.77,320.02 L353.08,320.75 L353.38,321.48 L353.69,322.20 L353.99,322.91 L354.29,323.62 L354.60,324.31 L354.90,325.00 L355.20,325.68 L355.51,326.34 L355.81,327.00 L356.11,327.65 L356.42,328.28 L356.72,328.91 L357.02,329.53 L357.33,330.13 L357.63,330.73 L357.93,331.32 L358.24,331.89 L358.54,332.46 L358.84,333.03 L359.15,333.58 L359.45,334.13 L359.76,334.68 L360.06,335.22 L360.36,335.76 L360.67,336.29 L360.97,336.83 L361.27,336.39 L361.58,335.86 L361.88,335.32 L362.18,334.79 L362.49,334.24 L362.79,333.69 L363.09,333.14 L363.40,332.57 L363.70,332.00 L364.00,331.42 L364.31,330.82 L364.61,330.21 L364.91,329.59 L365.22,328.95 L365.52,328.29 L365.83,327.62 L366.13,326.93 L366.43,326.22 L366.74,325.49 L367.04,324.75 L367.34,323.98 L367.65,323.19 L367.95,322.38 L368.25,321.54 L368.56,320.69 L368.86,319.81 L369.16,318.91 L369.47,317.99 L369.77,317.04 L370.07,316.07 L370.38,315.08 L370.68,314.07 L370.98,313.04 L371.29,311.98 L371.59,310.91 L371.90,309.82 L372.20,308.71 L372.50,307.58 L372.81,306.44 L373.11,305.28 L373.41,304.11 L373.72,302.93 L374.02,301.73 L374.32,300.53 L374.63,299.33 L374.93,298.11 L375.23,296.90 L375.54,295.68 L375.84,294.47 L376.14,293.25 L376.45,292.05 L376.75,290.85 L377.06,289.66 L377.36,288.48 L377.66,287.32 L377.97,286.18 L378.27,285.05 L378.57,283.95 L378.88,282.87 L379.18,281.82 L379.48,280.80 L379.79,279.81 L380.09,278.85 L380.39,277.93 L380.70,277.05 L381.00,276.21 L381.30,275.41 L381.61,274.65 L381.91,273.94 L382.21,273.28 L382.52,272.67 L382.82,272.11 L383.13,271.60 L383.43,271.15 L383.73,270.75 L384.04,270.41 L384.34,270.13 L384.64,269.90 L384.95,269.73 L385.25,269.62 L385.55,269.58 L385.86,269.59 L386.16,269.66 L386.46,269.79 L386.77,269.98 L387.07,270.22 L387.37,270.53 L387.68,270.89 L387.98,271.31 L388.28,271.78 L388.59,272.31 L388.89,272.90 L389.20,273.53 L389.50,274.21 L389.80,274.94 L390.11,275.72 L390.41,276.55 L390.71,277.41 L391.02,278.32 L391.32,279.27 L391.62,280.25 L391.93,281.27 L392.23,282.32 L392.53,283.41 L392.84,284.52 L393.14,285.65 L393.44,286.82 L393.75,288.00 L394.05,289.20 L394.35,290.43 L394.66,291.67 L394.96,292.92 L395.27,294.18 L395.57,295.46 L395.87,296.74 L396.18,298.04 L396.48,299.34 L396.78,300.64 L397.09,301.94 L397.39,303.25 L397.69,304.55 L398.00,305.86 L398.30,307.16 L398.60,308.45 L398.91,309.74 L399.21,311.02 L399.51,312.29 L399.82,313.55 L400.12,314.79 L400.43,316.01 L400.73,317.21 L401.03,318.38 L401.34,319.52 L401.64,320.63 L401.94,321.70 L402.25,322.73 L402.55,323.70 L402.85,324.63 L403.16,325.50 L403.46,326.32 L403.76,327.07 L404.07,327.76 L404.37,328.40 L404.67,328.97 L404.98,329.48 L405.28,329.95 L405.58,330.36 L405.89,330.73 L406.19,331.06 L406.50,331.36 L406.80,331.64 L407.10,331.90 L407.41,332.14 L407.71,332.37 L408.01,332.59 L408.32,332.81 L408.62,333.03 L408.92,333.24 L409.23,333.46 L409.53,333.67 L409.83,333.87 L410.14,334.08 L410.44,334.27 L410.74,334.45 L411.05,334.63 L411.35,334.79 L411.65,334.93 L411.96,335.05 L412.26,335.15 L412.57,335.23 L412.87,335.29 L413.17,335.33 L413.48,335.34 L413.78,335.34 L414.08,335.30 L414.39,335.25 L414.69,335.18 L414.99,335.10 L415.30,334.99 L415.60,334.88 L415.90,334.75 L416.21,334.61 L416.51,334.47 L416.81,334.33 L417.12,334.18 L417.42,334.03 L417.72,333.89 L418.03,333.74 L418.33,333.61 L418.64,333.48 L418.94,333.35 L419.24,333.23 L419.55,333.11 L419.85,333.00 L420.15,332.90 L420.46,332.79 L420.76,332.69 L421.06,332.59 L421.37,332.48 L421.67,332.37 L421.97,332.25 L422.28,332.13 L422.58,331.99 L422.88,331.84 L423.19,331.67 L423.49,331.49 L423.79,331.29 L424.10,331.07 L424.40,330.83 L424.71,330.57 L425.01,330.29 L425.31,329.99 L425.62,329.67 L425.92,329.33 L426.22,328.97 L426.53,328.59 L426.83,328.20 L427.13,327.80 L427.44,327.39 L427.74,326.97 L428.04,326.54 L428.35,326.11 L428.65,325.67 L428.95,325.24 L429.26,324.81 L429.56,324.38 L429.87,323.96 L430.17,323.55 L430.47,323.16 L430.78,322.77 L431.08,322.40 L431.38,322.05 L431.69,321.72 L431.99,321.40 L432.29,321.11 L432.60,320.84 L432.90,320.59 L433.20,320.36 L433.51,320.16 L433.81,319.98 L434.11,319.83 L434.42,319.70 L434.72,319.60 L435.02,319.53 L435.33,319.48 L435.63,319.47 L435.94,319.48 L436.24,319.50 L436.54,319.54 L436.85,319.60 L437.15,319.68 L437.45,319.78 L437.76,319.89 L438.06,320.02 L438.36,320.16 L438.67,320.32 L438.97,320.49 L439.27,320.67 L439.58,320.87 L439.88,321.07 L440.18,321.28 L440.49,321.50 L440.79,321.72 L441.09,321.95 L441.40,322.17 L441.70,322.40 L442.01,322.61 L442.31,322.83 L442.61,323.04 L442.92,323.24 L443.22,323.43 L443.52,323.61 L443.83,323.78 L444.13,323.93 L444.43,324.08 L444.74,324.22 L445.04,324.34 L445.34,324.46 L445.65,324.56 L445.95,324.66 L446.25,324.75 L446.56,324.83 L446.86,324.91 L447.16,324.98 L447.47,325.05 L447.77,325.13 L448.08,325.20 L448.38,325.28 L448.68,325.35 L448.99,325.43 L449.29,325.52 L449.59,325.61 L449.90,325.70 L450.20,325.80" fill="none" stroke="#ff8a2b" stroke-width="1.0" stroke-linejoin="round" />
<path d="M268.40,327.01 L268.70,326.98 L269.01,326.96 L269.31,326.95 L269.61,326.96 L269.92,326.98 L270.22,327.02 L270.52,327.07 L270.83,327.14 L271.13,327.21 L271.44,327.30 L271.74,327.40 L272.04,327.52 L272.35,327.64 L272.65,327.77 L272.95,327.90 L273.26,328.05 L273.56,328.20 L273.86,328.35 L274.17,328.50 L274.47,328.66 L274.77,328.81 L275.08,328.96 L275.38,329.11 L275.68,329.26 L275.99,329.39 L276.29,329.53 L276.59,329.65 L276.90,329.76 L277.20,329.87 L277.51,329.96 L277.81,330.04 L278.11,330.11 L278.42,330.17 L278.72,330.21 L279.02,330.23 L279.33,330.25 L279.63,330.24 L279.93,330.23 L280.24,330.19 L280.54,330.15 L280.84,330.09 L281.15,330.01 L281.45,329.93 L281.75,329.83 L282.06,329.72 L282.36,329.60 L282.66,329.47 L282.97,329.33 L283.27,329.18 L283.58,329.03 L283.88,328.88 L284.18,328.72 L284.49,328.56 L284.79,328.39 L285.09,328.23 L285.40,328.07 L285.70,327.91 L286.00,327.76 L286.31,327.61 L286.61,327.47 L286.91,327.34 L287.22,327.22 L287.52,327.11 L287.82,327.00 L288.13,326.91 L288.43,326.84 L288.73,326.77 L289.04,326.72 L289.34,326.68 L289.65,326.66 L289.95,326.64 L290.25,326.65 L290.56,326.66 L290.86,326.69 L291.16,326.74 L291.47,326.79 L291.77,326.86 L292.07,326.93 L292.38,327.02 L292.68,327.11 L292.98,327.22 L293.29,327.33 L293.59,327.44 L293.89,327.56 L294.20,327.68 L294.50,327.81 L294.81,327.93 L295.11,328.05 L295.41,328.17 L295.72,328.29 L296.02,328.40 L296.32,328.50 L296.63,328.60 L296.93,328.69 L297.23,328.76 L297.54,328.83 L297.84,328.88 L298.14,328.92 L298.45,328.95 L298.75,328.96 L299.05,328.96 L299.36,328.94 L299.66,328.91 L299.96,328.86 L300.27,328.79 L300.57,328.71 L300.88,328.62 L301.18,328.51 L301.48,328.38 L301.79,328.24 L302.09,328.09 L302.39,327.92 L302.70,327.75 L303.00,327.56 L303.30,327.36 L303.61,327.16 L303.91,326.95 L304.21,326.73 L304.52,326.51 L304.82,326.29 L305.12,326.06 L305.43,325.84 L305.73,325.61 L306.03,325.39 L306.34,325.17 L306.64,324.96 L306.95,324.76 L307.25,324.56 L307.55,324.37 L307.86,324.19 L308.16,324.03 L308.46,323.87 L308.77,323.73 L309.07,323.60 L309.37,323.49 L309.68,323.38 L309.98,323.30 L310.28,323.23 L310.59,323.17 L310.89,323.13 L311.19,323.10 L311.50,323.09 L311.80,323.09 L312.10,323.11 L312.41,323.13 L312.71,323.17 L313.02,323.22 L313.32,323.28 L313.62,323.34 L313.93,323.42 L314.23,323.50 L314.53,323.58 L314.84,323.67 L315.14,323.76 L315.44,323.85 L315.75,323.94 L316.05,324.03 L316.35,324.11 L316.66,324.19 L316.96,324.26 L317.26,324.32 L317.57,324.37 L317.87,324.42 L318.17,324.45 L318.48,324.46 L318.78,324.47 L319.09,324.45 L319.39,324.43 L319.69,324.38 L320.00,324.32 L320.30,324.24 L320.60,324.14 L320.91,324.02 L321.21,323.88 L321.51,323.72 L321.82,323.54 L322.12,323.35 L322.42,323.13 L322.73,322.89 L323.03,322.64 L323.33,322.36 L323.64,322.07 L323.94,321.76 L324.25,321.43 L324.55,321.09 L324.85,320.73 L325.16,320.36 L325.46,319.97 L325.76,319.57 L326.07,319.16 L326.37,318.73 L326.67,318.29 L326.98,317.85 L327.28,317.39 L327.58,317.98 L327.89,317.62 L328.19,317.25 L328.49,316.86 L328.80,316.46 L329.10,316.04 L329.40,315.60 L329.71,315.14 L330.01,314.67 L330.32,314.18 L330.62,313.68 L330.92,313.16 L331.23,312.63 L331.53,312.09 L331.83,311.53 L332.14,310.96 L332.44,310.38 L332.74,309.79 L333.05,309.19 L333.35,308.59 L333.65,307.98 L333.96,307.37 L334.26,306.75 L334.56,306.14 L334.87,305.52 L335.17,304.91 L335.47,304.30 L335.78,303.71 L336.08,303.12 L336.39,302.54 L336.69,301.97 L336.99,301.42 L337.30,300.89 L337.60,300.38 L337.90,299.89 L338.21,299.42 L338.51,298.98 L338.81,298.56 L339.12,298.18 L339.42,297.82 L339.72,297.50 L340.03,297.21 L340.33,296.96 L340.63,296.75 L340.94,296.57 L341.24,296.44 L341.54,296.34 L341.85,296.29 L342.15,296.28 L342.46,296.31 L342.76,296.38 L343.06,296.50 L343.37,296.66 L343.67,296.86 L343.97,297.11 L344.28,297.40 L344.58,297.73 L344.88,298.10 L345.19,298.51 L345.49,298.96 L345.79,299.45 L346.10,299.97 L346.40,300.53 L346.70,301.13 L347.01,301.75 L347.31,302.41 L347.62,303.09 L347.92,303.80 L348.22,304.54 L348.53,305.29 L348.83,306.07 L349.13,306.87 L349.44,307.68 L349.74,308.51 L350.04,309.35 L350.35,310.20 L350.65,311.06 L350.95,311.92 L351.26,312.79 L351.56,313.67 L351.86,314.54 L352.17,315.41 L352.47,316.29 L352.77,317.16 L353.08,318.02 L353.38,318.88 L353.69,319.73 L353.99,320.57 L354.29,321.41 L354.60,322.23 L354.90,323.05 L355.20,323.85 L355.51,324.65 L355.81,325.43 L356.11,326.20 L356.42,326.96 L356.72,327.71 L357.02,328.44 L357.33,329.17 L357.63,329.89 L357.93,330.59 L358.24,331.29 L358.54,331.98 L358.84,332.66 L359.15,333.34 L359.45,334.01 L359.76,334.68 L360.06,335.34 L360.36,336.01 L360.67,336.67 L360.97,336.36 L361.27,335.71 L361.58,335.04 L361.88,334.38 L362.18,333.70 L362.49,333.02 L362.79,332.32 L363.09,331.62 L363.40,330.90 L363.70,330.17 L364.00,329.42 L364.31,328.65 L364.61,327.87 L364.91,327.07 L365.22,326.24 L365.52,325.39 L365.83,324.52 L366.13,323.63 L366.43,322.71 L366.74,321.76 L367.04,320.79 L367.34,319.78 L367.65,318.75 L367.95,317.69 L368.25,316.60 L368.56,315.48 L368.86,314.33 L369.16,313.15 L369.47,311.94 L369.77,310.70 L370.07,309.43 L370.38,308.13 L370.68,306.80 L370.98,305.44 L371.29,304.05 L371.59,302.64 L371.90,301.21 L372.20,299.75 L372.50,298.26 L372.81,296.76 L373.11,295.24 L373.41,293.70 L373.72,292.14 L374.02,290.57 L374.32,288.99 L374.63,287.40 L374.93,285.81 L375.23,284.21 L375.54,282.60 L375.84,281.00 L376.14,279.41 L376.45,277.82 L376.75,276.24 L377.06,274.68 L377.36,273.13 L377.66,271.60 L377.97,270.09 L378.27,268.61 L378.57,267.16 L378.88,265.74 L379.18,264.36 L379.48,263.01 L379.79,261.71 L380.09,260.45 L380.39,259.23 L380.70,258.07 L381.00,256.96 L381.30,255.91 L381.61,254.91 L381.91,253.98 L382.21,253.11 L382.52,252.30 L382.82,251.57 L383.13,250.90 L383.43,250.30 L383.73,249.78 L384.04,249.33 L384.34,248.96 L384.64,248.66 L384.95,248.44 L385.25,248.30 L385.55,248.23 L385.86,248.25 L386.16,248.34 L386.46,248.51 L386.77,248.76 L387.07,249.08 L387.37,249.48 L387.68,249.96 L387.98,250.51 L388.28,251.14 L388.59,251.84 L388.89,252.60 L389.20,253.44 L389.50,254.34 L389.80,255.30 L390.11,256.33 L390.41,257.41 L390.71,258.55 L391.02,259.75 L391.32,261.00 L391.62,262.29 L391.93,263.64 L392.23,265.02 L392.53,266.45 L392.84,267.92 L393.14,269.42 L393.44,270.95 L393.75,272.51 L394.05,274.10 L394.35,275.71 L394.66,277.35 L394.96,279.00 L395.27,280.67 L395.57,282.36 L395.87,284.05 L396.18,285.76 L396.48,287.47 L396.78,289.19 L397.09,290.91 L397.39,292.63 L397.69,294.35 L398.00,296.07 L398.30,297.78 L398.60,299.48 L398.91,301.18 L399.21,302.85 L399.51,304.52 L399.82,306.16 L400.12,307.78 L400.43,309.38 L400.73,310.94 L401.03,312.47 L401.34,313.96 L401.64,315.41 L401.94,316.82 L402.25,318.17 L402.55,319.47 L402.85,320.71 L403.16,321.88 L403.46,323.00 L403.76,324.04 L404.07,325.02 L404.37,325.94 L404.67,326.79 L404.98,327.58 L405.28,328.31 L405.58,328.98 L405.89,329.60 L406.19,330.18 L406.50,330.71 L406.80,331.20 L407.10,331.66 L407.41,332.09 L407.71,332.48 L408.01,332.85 L408.32,333.19 L408.62,333.51 L408.92,333.80 L409.23,334.07 L409.53,334.30 L409.83,334.52 L410.14,334.70 L410.44,334.86 L410.74,334.99 L411.05,335.09 L411.35,335.17 L411.65,335.21 L411.96,335.23 L412.26,335.22 L412.57,335.19 L412.87,335.13 L413.17,335.06 L413.48,334.96 L413.78,334.85 L414.08,334.73 L414.39,334.60 L414.69,334.45 L414.99,334.30 L415.30,334.15 L415.60,334.00 L415.90,333.85 L416.21,333.70 L416.51,333.56 L416.81,333.43 L417.12,333.30 L417.42,333.17 L417.72,333.06 L418.03,332.95 L418.33,332.85 L418.64,332.75 L418.94,332.65 L419.24,332.55 L419.55,332.45 L419.85,332.35 L420.15,332.24 L420.46,332.12 L420.76,331.98 L421.06,331.84 L421.37,331.67 L421.67,331.49 L421.97,331.28 L422.28,331.05 L422.58,330.79 L422.88,330.50 L423.19,330.19 L423.49,329.84 L423.79,329.47 L424.10,329.07 L424.40,328.64 L424.71,328.18 L425.01,327.69 L425.31,327.18 L425.62,326.64 L425.92,326.08 L426.22,325.50 L426.53,324.91 L426.83,324.30 L427.13,323.68 L427.44,323.05 L427.74,322.41 L428.04,321.77 L428.35,321.13 L428.65,320.49 L428.95,319.86 L429.26,319.23 L429.56,318.62 L429.87,318.01 L430.17,317.42 L430.47,316.85 L430.78,316.30 L431.08,315.76 L431.38,315.25 L431.69,314.76 L431.99,314.30 L432.29,313.87 L432.60,313.47 L432.90,313.10 L433.20,312.76 L433.51,312.46 L433.81,312.20 L434.11,311.97 L434.42,311.78 L434.72,311.63 L435.02,311.52 L435.33,311.45 L435.63,311.43 L435.94,311.44 L436.24,311.46 L436.54,311.51 L436.85,311.57 L437.15,311.65 L437.45,311.75 L437.76,311.87 L438.06,312.01 L438.36,312.16 L438.67,312.32 L438.97,312.50 L439.27,312.68 L439.58,312.88 L439.88,313.09 L440.18,313.30 L440.49,313.51 L440.79,313.73 L441.09,313.95 L441.40,314.16 L441.70,314.38 L442.01,314.59 L442.31,314.79 L442.61,314.99 L442.92,315.19 L443.22,315.37 L443.52,315.55 L443.83,315.72 L444.13,315.88 L444.43,316.04 L444.74,316.19 L445.04,316.33 L445.34,316.47 L445.65,316.60 L445.95,316.74 L446.25,316.86 L446.56,316.99 L446.86,317.12 L447.16,317.24 L447.47,317.37 L447.77,317.49 L448.08,317.62 L448.38,317.75 L448.68,317.88 L448.99,318.00 L449.29,318.13 L449.59,318.25 L449.90,318.37 L450.20,318.48" fill="none" stroke="#21c2c8" stroke-width="1.0" stroke-linejoin="round" />
<path d="M268.40,326.53 L268.70,326.62 L269.01,326.72 L269.31,326.84 L269.61,326.96 L269.92,327.10 L270.22,327.24 L270.52,327.39 L270.83,327.55 L271.13,327.71 L271.44,327.87 L271.74,328.04 L272.04,328.20 L272.35,328.36 L272.65,328.53 L272.95,328.68 L273.26,328.83 L273.56,328.98 L273.86,329.12 L274.17,329.24 L274.47,329.36 L274.77,329.47 L275.08,329.56 L275.38,329.64 L275.68,329.70 L275.99,329.76 L276.29,329.79 L276.59,329.81 L276.90,329.82 L277.20,329.81 L277.51,329.78 L277.81,329.74 L278.11,329.68 L278.42,329.61 L278.72,329.53 L279.02,329.43 L279.33,329.32 L279.63,329.20 L279.93,329.07 L280.24,328.93 L280.54,328.78 L280.84,328.62 L281.15,328.46 L281.45,328.29 L281.75,328.12 L282.06,327.95 L282.36,327.78 L282.66,327.61 L282.97,327.45 L283.27,327.29 L283.58,327.13 L283.88,326.98 L284.18,326.84 L284.49,326.71 L284.79,326.59 L285.09,326.48 L285.40,326.38 L285.70,326.30 L286.00,326.23 L286.31,326.17 L286.61,326.13 L286.91,326.10 L287.22,326.09 L287.52,326.09 L287.82,326.11 L288.13,326.14 L288.43,326.19 L288.73,326.24 L289.04,326.32 L289.34,326.40 L289.65,326.50 L289.95,326.60 L290.25,326.72 L290.56,326.84 L290.86,326.97 L291.16,327.10 L291.47,327.24 L291.77,327.38 L292.07,327.52 L292.38,327.66 L292.68,327.80 L292.98,327.94 L293.29,328.07 L293.59,328.19 L293.89,328.31 L294.20,328.42 L294.50,328.51 L294.81,328.60 L295.11,328.67 L295.41,328.73 L295.72,328.78 L296.02,328.81 L296.32,328.83 L296.63,328.83 L296.93,328.81 L297.23,328.77 L297.54,328.72 L297.84,328.66 L298.14,328.57 L298.45,328.47 L298.75,328.36 L299.05,328.23 L299.36,328.08 L299.66,327.92 L299.96,327.75 L300.27,327.56 L300.57,327.37 L300.88,327.17 L301.18,326.95 L301.48,326.73 L301.79,326.51 L302.09,326.28 L302.39,326.05 L302.70,325.82 L303.00,325.58 L303.30,325.35 L303.61,325.13 L303.91,324.90 L304.21,324.69 L304.52,324.48 L304.82,324.28 L305.12,324.09 L305.43,323.91 L305.73,323.74 L306.03,323.59 L306.34,323.45 L306.64,323.32 L306.95,323.20 L307.25,323.11 L307.55,323.02 L307.86,322.96 L308.16,322.90 L308.46,322.87 L308.77,322.84 L309.07,322.84 L309.37,322.84 L309.68,322.86 L309.98,322.89 L310.28,322.93 L310.59,322.98 L310.89,323.05 L311.19,323.12 L311.50,323.19 L311.80,323.28 L312.10,323.36 L312.41,323.45 L312.71,323.54 L313.02,323.63 L313.32,323.72 L313.62,323.81 L313.93,323.89 L314.23,323.97 L314.53,324.04 L314.84,324.10 L315.14,324.15 L315.44,324.19 L315.75,324.22 L316.05,324.24 L316.35,324.24 L316.66,324.23 L316.96,324.20 L317.26,324.16 L317.57,324.10 L317.87,324.02 L318.17,323.93 L318.48,323.82 L318.78,323.69 L319.09,323.54 L319.39,323.38 L319.69,323.20 L320.00,323.01 L320.30,322.80 L320.60,322.57 L320.91,322.33 L321.21,322.07 L321.51,321.80 L321.82,321.52 L322.12,321.22 L322.42,320.92 L322.73,320.60 L323.03,320.27 L323.33,319.94 L323.64,319.60 L323.94,319.24 L324.25,318.89 L324.55,318.52 L324.85,318.15 L325.16,317.78 L325.46,317.40 L325.76,317.02 L326.07,316.63 L326.37,316.24 L326.67,315.85 L326.98,315.46 L327.28,315.06 L327.58,316.42 L327.89,316.03 L328.19,315.61 L328.49,315.18 L328.80,314.73 L329.10,314.25 L329.40,313.76 L329.71,313.26 L330.01,312.73 L330.32,312.19 L330.62,311.62 L330.92,311.05 L331.23,310.45 L331.53,309.84 L331.83,309.22 L332.14,308.59 L332.44,307.94 L332.74,307.28 L333.05,306.62 L333.35,305.94 L333.65,305.26 L333.96,304.58 L334.26,303.89 L334.56,303.20 L334.87,302.52 L335.17,301.84 L335.47,301.16 L335.78,300.49 L336.08,299.84 L336.39,299.19 L336.69,298.56 L336.99,297.95 L337.30,297.35 L337.60,296.78 L337.90,296.23 L338.21,295.71 L338.51,295.21 L338.81,294.75 L339.12,294.32 L339.42,293.92 L339.72,293.56 L340.03,293.24 L340.33,292.96 L340.63,292.71 L340.94,292.51 L341.24,292.36 L341.54,292.25 L341.85,292.18 L342.15,292.17 L342.46,292.20 L342.76,292.27 L343.06,292.40 L343.37,292.57 L343.67,292.79 L343.97,293.06 L344.28,293.37 L344.58,293.73 L344.88,294.14 L345.19,294.59 L345.49,295.08 L345.79,295.62 L346.10,296.19 L346.40,296.81 L346.70,297.46 L347.01,298.15 L347.31,298.87 L347.62,299.62 L347.92,300.40 L348.22,301.21 L348.53,302.04 L348.83,302.89 L349.13,303.77 L349.44,304.67 L349.74,305.58 L350.04,306.50 L350.35,307.43 L350.65,308.38 L350.95,309.33 L351.26,310.29 L351.56,311.25 L351.86,312.21 L352.17,313.17 L352.47,314.13 L352.77,315.08 L353.08,316.03 L353.38,316.98 L353.69,317.91 L353.99,318.84 L354.29,319.75 L354.60,320.66 L354.90,321.55 L355.20,322.43 L355.51,323.30 L355.81,324.15 L356.11,325.00 L356.42,325.82 L356.72,326.64 L357.02,327.44 L357.33,328.23 L357.63,329.01 L357.93,329.78 L358.24,330.54 L358.54,331.28 L358.84,332.02 L359.15,332.75 L359.45,333.47 L359.76,334.19 L360.06,334.90 L360.36,335.61 L360.67,336.32 L360.97,336.66 L361.27,335.96 L361.58,335.25 L361.88,334.54 L362.18,333.83 L362.49,333.11 L362.79,332.37 L363.09,331.63 L363.40,330.88 L363.70,330.11 L364.00,329.32 L364.31,328.52 L364.61,327.70 L364.91,326.87 L365.22,326.01 L365.52,325.12 L365.83,324.22 L366.13,323.29 L366.43,322.33 L366.74,321.35 L367.04,320.34 L367.34,319.30 L367.65,318.23 L367.95,317.13 L368.25,316.00 L368.56,314.84 L368.86,313.65 L369.16,312.43 L369.47,311.18 L369.77,309.90 L370.07,308.59 L370.38,307.24 L370.68,305.87 L370.98,304.47 L371.29,303.04 L371.59,301.58 L371.90,300.10 L372.20,298.59 L372.50,297.06 L372.81,295.51 L373.11,293.94 L373.41,292.35 L373.72,290.75 L374.02,289.13 L374.32,287.50 L374.63,285.86 L374.93,284.21 L375.23,282.56 L375.54,280.91 L375.84,279.26 L376.14,277.61 L376.45,275.97 L376.75,274.35 L377.06,272.73 L377.36,271.14 L377.66,269.56 L377.97,268.01 L378.27,266.48 L378.57,264.98 L378.88,263.52 L379.18,262.09 L379.48,260.70 L379.79,259.36 L380.09,258.06 L380.39,256.81 L380.70,255.61 L381.00,254.46 L381.30,253.38 L381.61,252.35 L381.91,251.39 L382.21,250.49 L382.52,249.66 L382.82,248.90 L383.13,248.21 L383.43,247.60 L383.73,247.06 L384.04,246.59 L384.34,246.21 L384.64,245.90 L384.95,245.67 L385.25,245.53 L385.55,245.46 L385.86,245.47 L386.16,245.57 L386.46,245.74 L386.77,246.00 L387.07,246.34 L387.37,246.75 L387.68,247.24 L387.98,247.81 L388.28,248.46 L388.59,249.18 L388.89,249.97 L389.20,250.83 L389.50,251.76 L389.80,252.75 L390.11,253.81 L390.41,254.93 L390.71,256.10 L391.02,257.34 L391.32,258.63 L391.62,259.96 L391.93,261.35 L392.23,262.78 L392.53,264.25 L392.84,265.76 L393.14,267.31 L393.44,268.89 L393.75,270.51 L394.05,272.15 L394.35,273.81 L394.66,275.50 L394.96,277.21 L395.27,278.93 L395.57,280.67 L395.87,282.42 L396.18,284.17 L396.48,285.94 L396.78,287.71 L397.09,289.48 L397.39,291.25 L397.69,293.02 L398.00,294.78 L398.30,296.53 L398.60,298.28 L398.91,300.01 L399.21,301.73 L399.51,303.43 L399.82,305.11 L400.12,306.76 L400.43,308.39 L400.73,309.99 L401.03,311.55 L401.34,313.08 L401.64,314.57 L401.94,316.02 L402.25,317.42 L402.55,318.77 L402.85,320.07 L403.16,321.31 L403.46,322.50 L403.76,323.63 L404.07,324.70 L404.37,325.71 L404.67,326.67 L404.98,327.56 L405.28,328.40 L405.58,329.18 L405.89,329.90 L406.19,330.57 L406.50,331.19 L406.80,331.76 L407.10,332.28 L407.41,332.74 L407.71,333.17 L408.01,333.54 L408.32,333.87 L408.62,334.16 L408.92,334.40 L409.23,334.60 L409.53,334.76 L409.83,334.88 L410.14,334.97 L410.44,335.01 L410.74,335.03 L411.05,335.02 L411.35,334.98 L411.65,334.91 L411.96,334.83 L412.26,334.73 L412.57,334.61 L412.87,334.48 L413.17,334.34 L413.48,334.21 L413.78,334.06 L414.08,333.92 L414.39,333.79 L414.69,333.66 L414.99,333.54 L415.30,333.43 L415.60,333.32 L415.90,333.23 L416.21,333.15 L416.51,333.08 L416.81,333.02 L417.12,332.96 L417.42,332.91 L417.72,332.87 L418.03,332.82 L418.33,332.77 L418.64,332.72 L418.94,332.66 L419.24,332.59 L419.55,332.50 L419.85,332.40 L420.15,332.27 L420.46,332.13 L420.76,331.95 L421.06,331.75 L421.37,331.52 L421.67,331.26 L421.97,330.96 L422.28,330.63 L422.58,330.27 L422.88,329.87 L423.19,329.44 L423.49,328.98 L423.79,328.48 L424.10,327.95 L424.40,327.39 L424.71,326.81 L425.01,326.20 L425.31,325.57 L425.62,324.91 L425.92,324.24 L426.22,323.55 L426.53,322.84 L426.83,322.13 L427.13,321.41 L427.44,320.68 L427.74,319.95 L428.04,319.21 L428.35,318.48 L428.65,317.75 L428.95,317.03 L429.26,316.32 L429.56,315.62 L429.87,314.93 L430.17,314.25 L430.47,313.60 L430.78,312.96 L431.08,312.34 L431.38,311.75 L431.69,311.19 L431.99,310.65 L432.29,310.15 L432.60,309.68 L432.90,309.24 L433.20,308.85 L433.51,308.49 L433.81,308.18 L434.11,307.91 L434.42,307.68 L434.72,307.51 L435.02,307.38 L435.33,307.30 L435.63,307.27 L435.94,307.28 L436.24,307.30 L436.54,307.34 L436.85,307.40 L437.15,307.48 L437.45,307.58 L437.76,307.69 L438.06,307.81 L438.36,307.95 L438.67,308.10 L438.97,308.25 L439.27,308.42 L439.58,308.60 L439.88,308.78 L440.18,308.97 L440.49,309.15 L440.79,309.35 L441.09,309.54 L441.40,309.73 L441.70,309.92 L442.01,310.10 L442.31,310.29 L442.61,310.47 L442.92,310.65 L443.22,310.82 L443.52,311.00 L443.83,311.17 L444.13,311.33 L444.43,311.50 L444.74,311.66 L445.04,311.82 L445.34,311.98 L445.65,312.14 L445.95,312.30 L446.25,312.45 L446.56,312.61 L446.86,312.76 L447.16,312.92 L447.47,313.07 L447.77,313.21 L448.08,313.36 L448.38,313.49 L448.68,313.62 L448.99,313.74 L449.29,313.85 L449.59,313.95 L449.90,314.04 L450.20,314.11" fill="none" stroke="#1496ff" stroke-width="1.0" stroke-linejoin="round" />
<path d="M268.40,332.29 L268.70,332.37 L269.01,332.45 L269.31,332.53 L269.61,332.62 L269.92,332.70 L270.22,332.78 L270.52,332.85 L270.83,332.93 L271.13,333.00 L271.44,333.06 L271.74,333.13 L272.04,333.18 L272.35,333.23 L272.65,333.27 L272.95,333.31 L273.26,333.34 L273.56,333.36 L273.86,333.38 L274.17,333.38 L274.47,333.38 L274.77,333.37 L275.08,333.35 L275.38,333.33 L275.68,333.30 L275.99,333.26 L276.29,333.21 L276.59,333.16 L276.90,333.10 L277.20,333.04 L277.51,332.97 L277.81,332.90 L278.11,332.82 L278.42,332.75 L278.72,332.66 L279.02,332.58 L279.33,332.50 L279.63,332.41 L279.93,332.33 L280.24,332.25 L280.54,332.17 L280.84,332.09 L281.15,332.01 L281.45,331.94 L281.75,331.88 L282.06,331.81 L282.36,331.76 L282.66,331.71 L282.97,331.67 L283.27,331.63 L283.58,331.60 L283.88,331.58 L284.18,331.56 L284.49,331.55 L284.79,331.55 L285.09,331.56 L285.40,331.58 L285.70,331.60 L286.00,331.63 L286.31,331.66 L286.61,331.71 L286.91,331.75 L287.22,331.81 L287.52,331.87 L287.82,331.93 L288.13,332.00 L288.43,332.06 L288.73,332.14 L289.04,332.21 L289.34,332.28 L289.65,332.36 L289.95,332.43 L290.25,332.50 L290.56,332.57 L290.86,332.64 L291.16,332.71 L291.47,332.77 L291.77,332.82 L292.07,332.87 L292.38,332.92 L292.68,332.96 L292.98,332.99 L293.29,333.01 L293.59,333.03 L293.89,333.04 L294.20,333.04 L294.50,333.03 L294.81,333.01 L295.11,332.99 L295.41,332.96 L295.72,332.91 L296.02,332.87 L296.32,332.81 L296.63,332.74 L296.93,332.67 L297.23,332.60 L297.54,332.51 L297.84,332.42 L298.14,332.33 L298.45,332.23 L298.75,332.13 L299.05,332.02 L299.36,331.91 L299.66,331.80 L299.96,331.69 L300.27,331.58 L300.57,331.47 L300.88,331.36 L301.18,331.25 L301.48,331.15 L301.79,331.05 L302.09,330.95 L302.39,330.86 L302.70,330.77 L303.00,330.69 L303.30,330.61 L303.61,330.54 L303.91,330.47 L304.21,330.42 L304.52,330.37 L304.82,330.33 L305.12,330.29 L305.43,330.26 L305.73,330.24 L306.03,330.23 L306.34,330.22 L306.64,330.22 L306.95,330.23 L307.25,330.24 L307.55,330.26 L307.86,330.28 L308.16,330.31 L308.46,330.34 L308.77,330.37 L309.07,330.41 L309.37,330.45 L309.68,330.49 L309.98,330.53 L310.28,330.57 L310.59,330.61 L310.89,330.65 L311.19,330.69 L311.50,330.72 L311.80,330.75 L312.10,330.77 L312.41,330.79 L312.71,330.81 L313.02,330.82 L313.32,330.82 L313.62,330.81 L313.93,330.80 L314.23,330.77 L314.53,330.74 L314.84,330.70 L315.14,330.65 L315.44,330.60 L315.75,330.53 L316.05,330.45 L316.35,330.37 L316.66,330.27 L316.96,330.16 L317.26,330.05 L317.57,329.92 L317.87,329.79 L318.17,329.64 L318.48,329.49 L318.78,329.33 L319.09,329.15 L319.39,328.97 L319.69,328.78 L320.00,328.59 L320.30,328.38 L320.60,328.17 L320.91,327.95 L321.21,327.72 L321.51,327.48 L321.82,327.23 L322.12,326.98 L322.42,326.71 L322.73,326.44 L323.03,326.16 L323.33,325.88 L323.64,325.58 L323.94,325.27 L324.25,324.95 L324.55,324.63 L324.85,324.29 L325.16,323.94 L325.46,323.57 L325.76,323.20 L326.07,322.81 L326.37,322.41 L326.67,321.99 L326.98,321.56 L327.28,321.11 L327.58,321.32 L327.89,320.77 L328.19,320.21 L328.49,319.62 L328.80,319.01 L329.10,318.38 L329.40,317.72 L329.71,317.04 L330.01,316.33 L330.32,315.61 L330.62,314.86 L330.92,314.09 L331.23,313.31 L331.53,312.50 L331.83,311.68 L332.14,310.84 L332.44,309.99 L332.74,309.13 L333.05,308.25 L333.35,307.37 L333.65,306.48 L333.96,305.58 L334.26,304.68 L334.56,303.78 L334.87,302.89 L335.17,301.99 L335.47,301.11 L335.78,300.23 L336.08,299.37 L336.39,298.52 L336.69,297.69 L336.99,296.88 L337.30,296.09 L337.60,295.33 L337.90,294.60 L338.21,293.89 L338.51,293.22 L338.81,292.59 L339.12,292.00 L339.42,291.44 L339.72,290.93 L340.03,290.47 L340.33,290.05 L340.63,289.68 L340.94,289.36 L341.24,289.09 L341.54,288.87 L341.85,288.71 L342.15,288.60 L342.46,288.55 L342.76,288.56 L343.06,288.62 L343.37,288.73 L343.67,288.91 L343.97,289.14 L344.28,289.42 L344.58,289.76 L344.88,290.15 L345.19,290.59 L345.49,291.09 L345.79,291.63 L346.10,292.22 L346.40,292.86 L346.70,293.54 L347.01,294.27 L347.31,295.03 L347.62,295.83 L347.92,296.66 L348.22,297.53 L348.53,298.43 L348.83,299.36 L349.13,300.31 L349.44,301.28 L349.74,302.27 L350.04,303.28 L350.35,304.30 L350.65,305.34 L350.95,306.39 L351.26,307.44 L351.56,308.50 L351.86,309.56 L352.17,310.62 L352.47,311.68 L352.77,312.73 L353.08,313.79 L353.38,314.83 L353.69,315.87 L353.99,316.90 L354.29,317.92 L354.60,318.92 L354.90,319.92 L355.20,320.90 L355.51,321.87 L355.81,322.82 L356.11,323.77 L356.42,324.69 L356.72,325.61 L357.02,326.51 L357.33,327.39 L357.63,328.27 L357.93,329.13 L358.24,329.98 L358.54,330.83 L358.84,331.66 L359.15,332.48 L359.45,333.30 L359.76,334.12 L360.06,334.92 L360.36,335.73 L360.67,336.54 L360.97,336.44 L361.27,335.63 L361.58,334.82 L361.88,334.01 L362.18,333.18 L362.49,332.35 L362.79,331.51 L363.09,330.65 L363.40,329.78 L363.70,328.89 L364.00,327.98 L364.31,327.05 L364.61,326.10 L364.91,325.13 L365.22,324.13 L365.52,323.11 L365.83,322.06 L366.13,320.98 L366.43,319.86 L366.74,318.72 L367.04,317.54 L367.34,316.34 L367.65,315.09 L367.95,313.81 L368.25,312.50 L368.56,311.15 L368.86,309.76 L369.16,308.34 L369.47,306.88 L369.77,305.39 L370.07,303.85 L370.38,302.29 L370.68,300.69 L370.98,299.05 L371.29,297.39 L371.59,295.69 L371.90,293.96 L372.20,292.20 L372.50,290.42 L372.81,288.61 L373.11,286.77 L373.41,284.92 L373.72,283.05 L374.02,281.16 L374.32,279.26 L374.63,277.35 L374.93,275.42 L375.23,273.50 L375.54,271.57 L375.84,269.65 L376.14,267.73 L376.45,265.82 L376.75,263.92 L377.06,262.04 L377.36,260.17 L377.66,258.33 L377.97,256.52 L378.27,254.74 L378.57,252.99 L378.88,251.28 L379.18,249.62 L379.48,248.00 L379.79,246.43 L380.09,244.91 L380.39,243.45 L380.70,242.05 L381.00,240.72 L381.30,239.45 L381.61,238.26 L381.91,237.13 L382.21,236.08 L382.52,235.12 L382.82,234.23 L383.13,233.43 L383.43,232.71 L383.73,232.08 L384.04,231.54 L384.34,231.09 L384.64,230.73 L384.95,230.46 L385.25,230.29 L385.55,230.21 L385.86,230.23 L386.16,230.34 L386.46,230.55 L386.77,230.85 L387.07,231.24 L387.37,231.72 L387.68,232.30 L387.98,232.96 L388.28,233.71 L388.59,234.55 L388.89,235.47 L389.20,236.48 L389.50,237.56 L389.80,238.72 L390.11,239.96 L390.41,241.26 L390.71,242.64 L391.02,244.08 L391.32,245.58 L391.62,247.14 L391.93,248.76 L392.23,250.43 L392.53,252.15 L392.84,253.91 L393.14,255.72 L393.44,257.56 L393.75,259.45 L394.05,261.36 L394.35,263.30 L394.66,265.27 L394.96,267.26 L395.27,269.27 L395.57,271.29 L395.87,273.33 L396.18,275.38 L396.48,277.44 L396.78,279.50 L397.09,281.56 L397.39,283.62 L397.69,285.68 L398.00,287.73 L398.30,289.77 L398.60,291.80 L398.91,293.82 L399.21,295.82 L399.51,297.80 L399.82,299.76 L400.12,301.69 L400.43,303.60 L400.73,305.48 L401.03,307.33 L401.34,309.14 L401.64,310.91 L401.94,312.64 L402.25,314.33 L402.55,315.96 L402.85,317.55 L403.16,319.07 L403.46,320.53 L403.76,321.93 L404.07,323.27 L404.37,324.53 L404.67,325.72 L404.98,326.83 L405.28,327.87 L405.58,328.82 L405.89,329.70 L406.19,330.49 L406.50,331.21 L406.80,331.85 L407.10,332.41 L407.41,332.89 L407.71,333.31 L408.01,333.66 L408.32,333.94 L408.62,334.16 L408.92,334.33 L409.23,334.44 L409.53,334.51 L409.83,334.54 L410.14,334.53 L410.44,334.49 L410.74,334.42 L411.05,334.34 L411.35,334.24 L411.65,334.12 L411.96,334.00 L412.26,333.88 L412.57,333.76 L412.87,333.64 L413.17,333.53 L413.48,333.43 L413.78,333.34 L414.08,333.27 L414.39,333.20 L414.69,333.15 L414.99,333.12 L415.30,333.09 L415.60,333.07 L415.90,333.06 L416.21,333.06 L416.51,333.06 L416.81,333.07 L417.12,333.06 L417.42,333.06 L417.72,333.04 L418.03,333.01 L418.33,332.96 L418.64,332.89 L418.94,332.80 L419.24,332.69 L419.55,332.54 L419.85,332.36 L420.15,332.15 L420.46,331.91 L420.76,331.63 L421.06,331.31 L421.37,330.95 L421.67,330.56 L421.97,330.13 L422.28,329.66 L422.58,329.15 L422.88,328.61 L423.19,328.03 L423.49,327.43 L423.79,326.79 L424.10,326.12 L424.40,325.42 L424.71,324.70 L425.01,323.96 L425.31,323.20 L425.62,322.42 L425.92,321.62 L426.22,320.81 L426.53,319.98 L426.83,319.15 L427.13,318.30 L427.44,317.45 L427.74,316.60 L428.04,315.75 L428.35,314.89 L428.65,314.04 L428.95,313.19 L429.26,312.35 L429.56,311.52 L429.87,310.70 L430.17,309.90 L430.47,309.11 L430.78,308.35 L431.08,307.61 L431.38,306.89 L431.69,306.21 L431.99,305.56 L432.29,304.95 L432.60,304.38 L432.90,303.85 L433.20,303.36 L433.51,302.93 L433.81,302.55 L434.11,302.22 L434.42,301.95 L434.72,301.73 L435.02,301.58 L435.33,301.48 L435.63,301.45 L435.94,301.45 L436.24,301.48 L436.54,301.53 L436.85,301.60 L437.15,301.69 L437.45,301.79 L437.76,301.91 L438.06,302.05 L438.36,302.20 L438.67,302.37 L438.97,302.54 L439.27,302.73 L439.58,302.92 L439.88,303.13 L440.18,303.33 L440.49,303.55 L440.79,303.77 L441.09,303.99 L441.40,304.21 L441.70,304.43 L442.01,304.66 L442.31,304.89 L442.61,305.11 L442.92,305.34 L443.22,305.57 L443.52,305.79 L443.83,306.02 L444.13,306.24 L444.43,306.47 L444.74,306.69 L445.04,306.91 L445.34,307.12 L445.65,307.33 L445.95,307.54 L446.25,307.74 L446.56,307.94 L446.86,308.12 L447.16,308.30 L447.47,308.46 L447.77,308.62 L448.08,308.76 L448.38,308.88 L448.68,308.99 L448.99,309.08 L449.29,309.16 L449.59,309.21 L449.90,309.25 L450.20,309.26" fill="none" stroke="#e066f0" stroke-width="1.0" stroke-linejoin="round" />
<defs><radialGradient id="mLav" cx="0.4" cy="0.38" r="0.65"><stop offset="0" stop-color="#fff" stop-opacity="0.85"/><stop offset="0.45" stop-color="#a9a3dc"/><stop offset="1" stop-color="#a9a3dc"/></radialGradient><radialGradient id="mOrg" cx="0.4" cy="0.38" r="0.65"><stop offset="0" stop-color="#fff" stop-opacity="0.85"/><stop offset="0.45" stop-color="#ff8a2b"/><stop offset="1" stop-color="#ff8a2b"/></radialGradient><radialGradient id="mCya" cx="0.4" cy="0.38" r="0.65"><stop offset="0" stop-color="#fff" stop-opacity="0.85"/><stop offset="0.45" stop-color="#21c2c8"/><stop offset="1" stop-color="#21c2c8"/></radialGradient><radialGradient id="mBlu" cx="0.4" cy="0.38" r="0.65"><stop offset="0" stop-color="#fff" stop-opacity="0.85"/><stop offset="0.45" stop-color="#1496ff"/><stop offset="1" stop-color="#1496ff"/></radialGradient><radialGradient id="mPnk" cx="0.4" cy="0.38" r="0.65"><stop offset="0" stop-color="#fff" stop-opacity="0.85"/><stop offset="0.45" stop-color="#e066f0"/><stop offset="1" stop-color="#e066f0"/></radialGradient></defs>
<g fill="url(#mLav)" stroke="#a9a3dc" stroke-width="0.35" stroke-opacity="0.6"><circle cx="268.4" cy="335.0" r="1.6"/><circle cx="269.8" cy="334.0" r="1.6"/><circle cx="271.2" cy="333.6" r="1.6"/><circle cx="272.6" cy="334.1" r="1.6"/><circle cx="274.0" cy="335.1" r="1.6"/><circle cx="275.4" cy="336.0" r="1.6"/><circle cx="276.8" cy="336.4" r="1.6"/><circle cx="278.2" cy="335.9" r="1.6"/><circle cx="279.6" cy="334.9" r="1.6"/><circle cx="281.0" cy="333.9" r="1.6"/><circle cx="282.4" cy="333.6" r="1.6"/><circle cx="283.7" cy="334.2" r="1.6"/><circle cx="285.1" cy="335.2" r="1.6"/><circle cx="286.5" cy="336.1" r="1.6"/><circle cx="287.9" cy="336.4" r="1.6"/><circle cx="289.3" cy="335.8" r="1.6"/><circle cx="290.7" cy="334.7" r="1.6"/><circle cx="292.1" cy="333.8" r="1.6"/><circle cx="293.5" cy="333.6" r="1.6"/><circle cx="294.9" cy="334.3" r="1.6"/><circle cx="296.3" cy="335.3" r="1.6"/><circle cx="297.7" cy="336.2" r="1.6"/><circle cx="299.1" cy="336.3" r="1.6"/><circle cx="300.5" cy="335.6" r="1.6"/><circle cx="301.9" cy="334.4" r="1.6"/><circle cx="303.3" cy="333.4" r="1.6"/><circle cx="304.7" cy="332.8" r="1.6"/><circle cx="306.1" cy="332.9" r="1.6"/><circle cx="307.5" cy="333.4" r="1.6"/><circle cx="308.9" cy="334.1" r="1.6"/><circle cx="310.3" cy="334.5" r="1.6"/><circle cx="311.7" cy="334.4" r="1.6"/><circle cx="313.1" cy="334.0" r="1.6"/><circle cx="314.4" cy="333.8" r="1.6"/><circle cx="315.8" cy="334.5" r="1.6"/><circle cx="317.2" cy="336.3" r="1.6"/><circle cx="318.6" cy="336.9" r="1.6"/><circle cx="320.0" cy="336.9" r="1.6"/><circle cx="321.4" cy="336.9" r="1.6"/><circle cx="322.8" cy="335.3" r="1.6"/><circle cx="324.2" cy="332.7" r="1.6"/><circle cx="325.6" cy="330.6" r="1.6"/><circle cx="327.0" cy="329.2" r="1.6"/><circle cx="328.4" cy="328.7" r="1.6"/><circle cx="329.8" cy="328.8" r="1.6"/><circle cx="331.2" cy="328.7" r="1.6"/><circle cx="332.6" cy="327.9" r="1.6"/><circle cx="334.0" cy="325.9" r="1.6"/><circle cx="335.4" cy="323.1" r="1.6"/><circle cx="336.8" cy="320.0" r="1.6"/><circle cx="338.2" cy="317.4" r="1.6"/><circle cx="339.6" cy="315.5" r="1.6"/><circle cx="341.0" cy="314.0" r="1.6"/><circle cx="342.4" cy="312.3" r="1.6"/><circle cx="343.7" cy="309.6" r="1.6"/><circle cx="345.1" cy="305.8" r="1.6"/><circle cx="346.5" cy="300.8" r="1.6"/><circle cx="347.9" cy="295.2" r="1.6"/><circle cx="349.3" cy="288.9" r="1.6"/><circle cx="350.7" cy="282.1" r="1.6"/><circle cx="352.1" cy="274.3" r="1.6"/><circle cx="353.5" cy="265.3" r="1.6"/><circle cx="354.9" cy="255.2" r="1.6"/><circle cx="356.3" cy="244.7" r="1.6"/><circle cx="357.7" cy="234.8" r="1.6"/><circle cx="359.1" cy="226.4" r="1.6"/><circle cx="360.5" cy="220.1" r="1.6"/><circle cx="361.9" cy="216.1" r="1.6"/><circle cx="363.3" cy="213.8" r="1.6"/><circle cx="364.7" cy="213.0" r="1.6"/><circle cx="366.1" cy="213.4" r="1.6"/><circle cx="367.5" cy="215.4" r="1.6"/><circle cx="368.9" cy="219.3" r="1.6"/><circle cx="370.3" cy="225.6" r="1.6"/><circle cx="371.7" cy="234.1" r="1.6"/><circle cx="373.0" cy="244.0" r="1.6"/><circle cx="374.4" cy="254.4" r="1.6"/><circle cx="375.8" cy="264.4" r="1.6"/><circle cx="377.2" cy="273.5" r="1.6"/><circle cx="378.6" cy="281.8" r="1.6"/><circle cx="380.0" cy="289.7" r="1.6"/><circle cx="381.4" cy="297.6" r="1.6"/><circle cx="382.8" cy="305.4" r="1.6"/><circle cx="384.2" cy="312.7" r="1.6"/><circle cx="385.6" cy="318.8" r="1.6"/><circle cx="387.0" cy="323.3" r="1.6"/><circle cx="388.4" cy="326.2" r="1.6"/><circle cx="389.8" cy="328.3" r="1.6"/><circle cx="391.2" cy="329.9" r="1.6"/><circle cx="392.6" cy="331.3" r="1.6"/><circle cx="394.0" cy="332.2" r="1.6"/><circle cx="395.4" cy="332.5" r="1.6"/><circle cx="396.8" cy="332.4" r="1.6"/><circle cx="398.2" cy="332.2" r="1.6"/><circle cx="399.6" cy="332.2" r="1.6"/><circle cx="401.0" cy="332.4" r="1.6"/><circle cx="402.4" cy="332.7" r="1.6"/><circle cx="403.7" cy="333.1" r="1.6"/><circle cx="405.1" cy="333.4" r="1.6"/><circle cx="406.5" cy="333.6" r="1.6"/><circle cx="407.9" cy="333.8" r="1.6"/><circle cx="409.3" cy="333.8" r="1.6"/><circle cx="410.7" cy="333.9" r="1.6"/><circle cx="412.1" cy="333.9" r="1.6"/><circle cx="413.5" cy="334.0" r="1.6"/><circle cx="414.9" cy="334.1" r="1.6"/><circle cx="416.3" cy="334.1" r="1.6"/><circle cx="417.7" cy="334.2" r="1.6"/><circle cx="419.1" cy="334.2" r="1.6"/><circle cx="420.5" cy="334.1" r="1.6"/><circle cx="421.9" cy="334.1" r="1.6"/><circle cx="423.3" cy="334.1" r="1.6"/><circle cx="424.7" cy="334.0" r="1.6"/><circle cx="426.1" cy="333.8" r="1.6"/><circle cx="427.5" cy="333.6" r="1.6"/><circle cx="428.9" cy="333.4" r="1.6"/><circle cx="430.3" cy="333.3" r="1.6"/><circle cx="431.7" cy="333.2" r="1.6"/><circle cx="433.0" cy="333.2" r="1.6"/><circle cx="434.4" cy="333.2" r="1.6"/><circle cx="435.8" cy="333.2" r="1.6"/><circle cx="437.2" cy="333.0" r="1.6"/><circle cx="438.6" cy="332.6" r="1.6"/><circle cx="440.0" cy="332.1" r="1.6"/><circle cx="441.4" cy="331.5" r="1.6"/><circle cx="442.8" cy="331.0" r="1.6"/><circle cx="444.2" cy="330.8" r="1.6"/><circle cx="445.6" cy="330.9" r="1.6"/><circle cx="447.0" cy="331.2" r="1.6"/><circle cx="448.4" cy="331.5" r="1.6"/><circle cx="449.8" cy="331.7" r="1.6"/></g>
<g fill="url(#mOrg)" stroke="#ff8a2b" stroke-width="0.35" stroke-opacity="0.6"><circle cx="268.4" cy="330.0" r="1.6"/><circle cx="269.8" cy="330.1" r="1.6"/><circle cx="271.2" cy="330.3" r="1.6"/><circle cx="272.6" cy="330.7" r="1.6"/><circle cx="274.0" cy="331.2" r="1.6"/><circle cx="275.4" cy="331.7" r="1.6"/><circle cx="276.8" cy="332.1" r="1.6"/><circle cx="278.2" cy="332.3" r="1.6"/><circle cx="279.6" cy="332.2" r="1.6"/><circle cx="281.0" cy="332.0" r="1.6"/><circle cx="282.4" cy="331.6" r="1.6"/><circle cx="283.7" cy="331.1" r="1.6"/><circle cx="285.1" cy="330.6" r="1.6"/><circle cx="286.5" cy="330.2" r="1.6"/><circle cx="287.9" cy="329.9" r="1.6"/><circle cx="289.3" cy="329.8" r="1.6"/><circle cx="290.7" cy="329.9" r="1.6"/><circle cx="292.1" cy="330.2" r="1.6"/><circle cx="293.5" cy="330.5" r="1.6"/><circle cx="294.9" cy="330.9" r="1.6"/><circle cx="296.3" cy="331.3" r="1.6"/><circle cx="297.7" cy="331.4" r="1.6"/><circle cx="299.1" cy="331.4" r="1.6"/><circle cx="300.5" cy="331.2" r="1.6"/><circle cx="301.9" cy="330.7" r="1.6"/><circle cx="303.3" cy="330.1" r="1.6"/><circle cx="304.7" cy="329.4" r="1.6"/><circle cx="306.1" cy="328.7" r="1.6"/><circle cx="307.5" cy="328.1" r="1.6"/><circle cx="308.9" cy="327.6" r="1.6"/><circle cx="310.3" cy="327.4" r="1.6"/><circle cx="311.7" cy="327.4" r="1.6"/><circle cx="313.1" cy="327.6" r="1.6"/><circle cx="314.4" cy="327.8" r="1.6"/><circle cx="315.8" cy="328.1" r="1.6"/><circle cx="317.2" cy="328.2" r="1.6"/><circle cx="318.6" cy="328.2" r="1.6"/><circle cx="320.0" cy="328.0" r="1.6"/><circle cx="321.4" cy="327.4" r="1.6"/><circle cx="322.8" cy="326.5" r="1.6"/><circle cx="324.2" cy="325.4" r="1.6"/><circle cx="325.6" cy="324.0" r="1.6"/><circle cx="327.0" cy="322.3" r="1.6"/><circle cx="328.4" cy="321.6" r="1.6"/><circle cx="329.8" cy="319.8" r="1.6"/><circle cx="331.2" cy="317.7" r="1.6"/><circle cx="332.6" cy="315.3" r="1.6"/><circle cx="334.0" cy="312.8" r="1.6"/><circle cx="335.4" cy="310.3" r="1.6"/><circle cx="336.8" cy="307.8" r="1.6"/><circle cx="338.2" cy="305.7" r="1.6"/><circle cx="339.6" cy="304.0" r="1.6"/><circle cx="341.0" cy="303.0" r="1.6"/><circle cx="342.4" cy="302.6" r="1.6"/><circle cx="343.7" cy="303.1" r="1.6"/><circle cx="345.1" cy="304.3" r="1.6"/><circle cx="346.5" cy="306.3" r="1.6"/><circle cx="347.9" cy="308.8" r="1.6"/><circle cx="349.3" cy="311.8" r="1.6"/><circle cx="350.7" cy="315.1" r="1.6"/><circle cx="352.1" cy="318.5" r="1.6"/><circle cx="353.5" cy="321.8" r="1.6"/><circle cx="354.9" cy="325.0" r="1.6"/><circle cx="356.3" cy="328.1" r="1.6"/><circle cx="357.7" cy="330.9" r="1.6"/><circle cx="359.1" cy="333.5" r="1.6"/><circle cx="360.5" cy="336.0" r="1.6"/><circle cx="361.9" cy="335.3" r="1.6"/><circle cx="363.3" cy="332.8" r="1.6"/><circle cx="364.7" cy="330.1" r="1.6"/><circle cx="366.1" cy="327.1" r="1.6"/><circle cx="367.5" cy="323.7" r="1.6"/><circle cx="368.9" cy="319.8" r="1.6"/><circle cx="370.3" cy="315.5" r="1.6"/><circle cx="371.7" cy="310.7" r="1.6"/><circle cx="373.0" cy="305.5" r="1.6"/><circle cx="374.4" cy="300.1" r="1.6"/><circle cx="375.8" cy="294.5" r="1.6"/><circle cx="377.2" cy="289.0" r="1.6"/><circle cx="378.6" cy="283.7" r="1.6"/><circle cx="380.0" cy="279.1" r="1.6"/><circle cx="381.4" cy="275.1" r="1.6"/><circle cx="382.8" cy="272.1" r="1.6"/><circle cx="384.2" cy="270.2" r="1.6"/><circle cx="385.6" cy="269.6" r="1.6"/><circle cx="387.0" cy="270.2" r="1.6"/><circle cx="388.4" cy="272.0" r="1.6"/><circle cx="389.8" cy="274.9" r="1.6"/><circle cx="391.2" cy="278.9" r="1.6"/><circle cx="392.6" cy="283.6" r="1.6"/><circle cx="394.0" cy="288.9" r="1.6"/><circle cx="395.4" cy="294.7" r="1.6"/><circle cx="396.8" cy="300.6" r="1.6"/><circle cx="398.2" cy="306.6" r="1.6"/><circle cx="399.6" cy="312.4" r="1.6"/><circle cx="401.0" cy="317.9" r="1.6"/><circle cx="402.4" cy="322.7" r="1.6"/><circle cx="403.7" cy="326.5" r="1.6"/><circle cx="405.1" cy="329.4" r="1.6"/><circle cx="406.5" cy="331.4" r="1.6"/><circle cx="407.9" cy="333.0" r="1.6"/><circle cx="409.3" cy="334.2" r="1.6"/><circle cx="410.7" cy="334.8" r="1.6"/><circle cx="412.1" cy="334.9" r="1.6"/><circle cx="413.5" cy="334.4" r="1.6"/><circle cx="414.9" cy="333.5" r="1.6"/><circle cx="416.3" cy="332.7" r="1.6"/><circle cx="417.7" cy="332.3" r="1.6"/><circle cx="419.1" cy="332.4" r="1.6"/><circle cx="420.5" cy="333.0" r="1.6"/><circle cx="421.9" cy="333.8" r="1.6"/><circle cx="423.3" cy="334.6" r="1.6"/><circle cx="424.7" cy="335.0" r="1.6"/><circle cx="426.1" cy="334.8" r="1.6"/><circle cx="427.5" cy="334.2" r="1.6"/><circle cx="428.9" cy="333.3" r="1.6"/><circle cx="430.3" cy="332.5" r="1.6"/><circle cx="431.7" cy="332.2" r="1.6"/><circle cx="433.0" cy="332.5" r="1.6"/><circle cx="434.4" cy="333.2" r="1.6"/><circle cx="435.8" cy="334.1" r="1.6"/><circle cx="437.2" cy="334.8" r="1.6"/><circle cx="438.6" cy="335.0" r="1.6"/><circle cx="440.0" cy="334.7" r="1.6"/><circle cx="441.4" cy="333.9" r="1.6"/><circle cx="442.8" cy="333.1" r="1.6"/><circle cx="444.2" cy="332.4" r="1.6"/><circle cx="445.6" cy="332.2" r="1.6"/><circle cx="447.0" cy="332.6" r="1.6"/><circle cx="448.4" cy="333.4" r="1.6"/><circle cx="449.8" cy="334.3" r="1.6"/></g>
<g fill="url(#mCya)" stroke="#21c2c8" stroke-width="0.35" stroke-opacity="0.6"><circle cx="268.4" cy="327.9" r="1.6"/><circle cx="269.8" cy="328.4" r="1.6"/><circle cx="271.2" cy="329.1" r="1.6"/><circle cx="272.6" cy="329.7" r="1.6"/><circle cx="274.0" cy="330.2" r="1.6"/><circle cx="275.4" cy="330.5" r="1.6"/><circle cx="276.8" cy="330.6" r="1.6"/><circle cx="278.2" cy="330.3" r="1.6"/><circle cx="279.6" cy="329.8" r="1.6"/><circle cx="281.0" cy="329.2" r="1.6"/><circle cx="282.4" cy="328.5" r="1.6"/><circle cx="283.7" cy="327.9" r="1.6"/><circle cx="285.1" cy="327.5" r="1.6"/><circle cx="286.5" cy="327.3" r="1.6"/><circle cx="287.9" cy="327.4" r="1.6"/><circle cx="289.3" cy="327.8" r="1.6"/><circle cx="290.7" cy="328.3" r="1.6"/><circle cx="292.1" cy="328.9" r="1.6"/><circle cx="293.5" cy="329.4" r="1.6"/><circle cx="294.9" cy="329.7" r="1.6"/><circle cx="296.3" cy="329.8" r="1.6"/><circle cx="297.7" cy="329.5" r="1.6"/><circle cx="299.1" cy="329.0" r="1.6"/><circle cx="300.5" cy="328.2" r="1.6"/><circle cx="301.9" cy="327.3" r="1.6"/><circle cx="303.3" cy="326.3" r="1.6"/><circle cx="304.7" cy="325.5" r="1.6"/><circle cx="306.1" cy="324.9" r="1.6"/><circle cx="307.5" cy="324.6" r="1.6"/><circle cx="308.9" cy="324.5" r="1.6"/><circle cx="310.3" cy="324.7" r="1.6"/><circle cx="311.7" cy="325.0" r="1.6"/><circle cx="313.1" cy="325.4" r="1.6"/><circle cx="314.4" cy="325.7" r="1.6"/><circle cx="315.8" cy="325.8" r="1.6"/><circle cx="317.2" cy="325.6" r="1.6"/><circle cx="318.6" cy="325.1" r="1.6"/><circle cx="320.0" cy="324.3" r="1.6"/><circle cx="321.4" cy="323.2" r="1.6"/><circle cx="322.8" cy="321.9" r="1.6"/><circle cx="324.2" cy="320.6" r="1.6"/><circle cx="325.6" cy="319.1" r="1.6"/><circle cx="327.0" cy="317.6" r="1.6"/><circle cx="328.4" cy="317.5" r="1.6"/><circle cx="329.8" cy="315.5" r="1.6"/><circle cx="331.2" cy="313.2" r="1.6"/><circle cx="332.6" cy="310.5" r="1.6"/><circle cx="334.0" cy="307.7" r="1.6"/><circle cx="335.4" cy="304.9" r="1.6"/><circle cx="336.8" cy="302.1" r="1.6"/><circle cx="338.2" cy="299.8" r="1.6"/><circle cx="339.6" cy="297.9" r="1.6"/><circle cx="341.0" cy="296.8" r="1.6"/><circle cx="342.4" cy="296.5" r="1.6"/><circle cx="343.7" cy="297.1" r="1.6"/><circle cx="345.1" cy="298.6" r="1.6"/><circle cx="346.5" cy="300.9" r="1.6"/><circle cx="347.9" cy="303.9" r="1.6"/><circle cx="349.3" cy="307.5" r="1.6"/><circle cx="350.7" cy="311.3" r="1.6"/><circle cx="352.1" cy="315.3" r="1.6"/><circle cx="353.5" cy="319.3" r="1.6"/><circle cx="354.9" cy="323.1" r="1.6"/><circle cx="356.3" cy="326.7" r="1.6"/><circle cx="357.7" cy="330.1" r="1.6"/><circle cx="359.1" cy="333.2" r="1.6"/><circle cx="360.5" cy="336.3" r="1.6"/><circle cx="361.9" cy="334.4" r="1.6"/><circle cx="363.3" cy="331.2" r="1.6"/><circle cx="364.7" cy="327.7" r="1.6"/><circle cx="366.1" cy="323.8" r="1.6"/><circle cx="367.5" cy="319.4" r="1.6"/><circle cx="368.9" cy="314.3" r="1.6"/><circle cx="370.3" cy="308.6" r="1.6"/><circle cx="371.7" cy="302.4" r="1.6"/><circle cx="373.0" cy="295.5" r="1.6"/><circle cx="374.4" cy="288.4" r="1.6"/><circle cx="375.8" cy="281.0" r="1.6"/><circle cx="377.2" cy="273.8" r="1.6"/><circle cx="378.6" cy="266.9" r="1.6"/><circle cx="380.0" cy="260.7" r="1.6"/><circle cx="381.4" cy="255.5" r="1.6"/><circle cx="382.8" cy="251.6" r="1.6"/><circle cx="384.2" cy="249.1" r="1.6"/><circle cx="385.6" cy="248.2" r="1.6"/><circle cx="387.0" cy="249.0" r="1.6"/><circle cx="388.4" cy="251.4" r="1.6"/><circle cx="389.8" cy="255.3" r="1.6"/><circle cx="391.2" cy="260.4" r="1.6"/><circle cx="392.6" cy="266.7" r="1.6"/><circle cx="394.0" cy="273.7" r="1.6"/><circle cx="395.4" cy="281.3" r="1.6"/><circle cx="396.8" cy="289.1" r="1.6"/><circle cx="398.2" cy="297.0" r="1.6"/><circle cx="399.6" cy="304.6" r="1.6"/><circle cx="401.0" cy="311.9" r="1.6"/><circle cx="402.4" cy="318.3" r="1.6"/><circle cx="403.7" cy="323.8" r="1.6"/><circle cx="405.1" cy="328.2" r="1.6"/><circle cx="406.5" cy="331.3" r="1.6"/><circle cx="407.9" cy="333.4" r="1.6"/><circle cx="409.3" cy="334.5" r="1.6"/><circle cx="410.7" cy="334.7" r="1.6"/><circle cx="412.1" cy="334.1" r="1.6"/><circle cx="413.5" cy="333.3" r="1.6"/><circle cx="414.9" cy="332.6" r="1.6"/><circle cx="416.3" cy="332.2" r="1.6"/><circle cx="417.7" cy="332.5" r="1.6"/><circle cx="419.1" cy="333.2" r="1.6"/><circle cx="420.5" cy="334.0" r="1.6"/><circle cx="421.9" cy="334.7" r="1.6"/><circle cx="423.3" cy="335.0" r="1.6"/><circle cx="424.7" cy="334.7" r="1.6"/><circle cx="426.1" cy="333.9" r="1.6"/><circle cx="427.5" cy="333.1" r="1.6"/><circle cx="428.9" cy="332.4" r="1.6"/><circle cx="430.3" cy="332.2" r="1.6"/><circle cx="431.7" cy="332.6" r="1.6"/><circle cx="433.0" cy="333.4" r="1.6"/><circle cx="434.4" cy="334.2" r="1.6"/><circle cx="435.8" cy="334.9" r="1.6"/><circle cx="437.2" cy="335.0" r="1.6"/><circle cx="438.6" cy="334.5" r="1.6"/><circle cx="440.0" cy="333.7" r="1.6"/><circle cx="441.4" cy="332.9" r="1.6"/><circle cx="442.8" cy="332.3" r="1.6"/><circle cx="444.2" cy="332.3" r="1.6"/><circle cx="445.6" cy="332.8" r="1.6"/><circle cx="447.0" cy="333.6" r="1.6"/><circle cx="448.4" cy="334.4" r="1.6"/><circle cx="449.8" cy="334.9" r="1.6"/></g>
<g fill="url(#mBlu)" stroke="#1496ff" stroke-width="0.35" stroke-opacity="0.6"><circle cx="268.4" cy="328.4" r="1.6"/><circle cx="269.8" cy="329.1" r="1.6"/><circle cx="271.2" cy="329.7" r="1.6"/><circle cx="272.6" cy="330.1" r="1.6"/><circle cx="274.0" cy="330.2" r="1.6"/><circle cx="275.4" cy="329.9" r="1.6"/><circle cx="276.8" cy="329.4" r="1.6"/><circle cx="278.2" cy="328.8" r="1.6"/><circle cx="279.6" cy="328.0" r="1.6"/><circle cx="281.0" cy="327.4" r="1.6"/><circle cx="282.4" cy="326.9" r="1.6"/><circle cx="283.7" cy="326.7" r="1.6"/><circle cx="285.1" cy="326.8" r="1.6"/><circle cx="286.5" cy="327.2" r="1.6"/><circle cx="287.9" cy="327.8" r="1.6"/><circle cx="289.3" cy="328.4" r="1.6"/><circle cx="290.7" cy="329.0" r="1.6"/><circle cx="292.1" cy="329.4" r="1.6"/><circle cx="293.5" cy="329.6" r="1.6"/><circle cx="294.9" cy="329.4" r="1.6"/><circle cx="296.3" cy="328.9" r="1.6"/><circle cx="297.7" cy="328.1" r="1.6"/><circle cx="299.1" cy="327.2" r="1.6"/><circle cx="300.5" cy="326.3" r="1.6"/><circle cx="301.9" cy="325.4" r="1.6"/><circle cx="303.3" cy="324.8" r="1.6"/><circle cx="304.7" cy="324.4" r="1.6"/><circle cx="306.1" cy="324.3" r="1.6"/><circle cx="307.5" cy="324.5" r="1.6"/><circle cx="308.9" cy="324.8" r="1.6"/><circle cx="310.3" cy="325.2" r="1.6"/><circle cx="311.7" cy="325.5" r="1.6"/><circle cx="313.1" cy="325.6" r="1.6"/><circle cx="314.4" cy="325.4" r="1.6"/><circle cx="315.8" cy="325.0" r="1.6"/><circle cx="317.2" cy="324.2" r="1.6"/><circle cx="318.6" cy="323.2" r="1.6"/><circle cx="320.0" cy="322.1" r="1.6"/><circle cx="321.4" cy="320.9" r="1.6"/><circle cx="322.8" cy="319.8" r="1.6"/><circle cx="324.2" cy="318.7" r="1.6"/><circle cx="325.6" cy="317.6" r="1.6"/><circle cx="327.0" cy="316.5" r="1.6"/><circle cx="328.4" cy="315.9" r="1.6"/><circle cx="329.8" cy="313.7" r="1.6"/><circle cx="331.2" cy="311.0" r="1.6"/><circle cx="332.6" cy="308.1" r="1.6"/><circle cx="334.0" cy="304.9" r="1.6"/><circle cx="335.4" cy="301.8" r="1.6"/><circle cx="336.8" cy="298.7" r="1.6"/><circle cx="338.2" cy="296.1" r="1.6"/><circle cx="339.6" cy="294.0" r="1.6"/><circle cx="341.0" cy="292.7" r="1.6"/><circle cx="342.4" cy="292.4" r="1.6"/><circle cx="343.7" cy="293.0" r="1.6"/><circle cx="345.1" cy="294.7" r="1.6"/><circle cx="346.5" cy="297.2" r="1.6"/><circle cx="347.9" cy="300.5" r="1.6"/><circle cx="349.3" cy="304.4" r="1.6"/><circle cx="350.7" cy="308.7" r="1.6"/><circle cx="352.1" cy="313.1" r="1.6"/><circle cx="353.5" cy="317.4" r="1.6"/><circle cx="354.9" cy="321.6" r="1.6"/><circle cx="356.3" cy="325.5" r="1.6"/><circle cx="357.7" cy="329.2" r="1.6"/><circle cx="359.1" cy="332.6" r="1.6"/><circle cx="360.5" cy="335.9" r="1.6"/><circle cx="361.9" cy="334.5" r="1.6"/><circle cx="363.3" cy="331.2" r="1.6"/><circle cx="364.7" cy="327.5" r="1.6"/><circle cx="366.1" cy="323.5" r="1.6"/><circle cx="367.5" cy="318.9" r="1.6"/><circle cx="368.9" cy="313.6" r="1.6"/><circle cx="370.3" cy="307.8" r="1.6"/><circle cx="371.7" cy="301.3" r="1.6"/><circle cx="373.0" cy="294.3" r="1.6"/><circle cx="374.4" cy="286.8" r="1.6"/><circle cx="375.8" cy="279.3" r="1.6"/><circle cx="377.2" cy="271.8" r="1.6"/><circle cx="378.6" cy="264.7" r="1.6"/><circle cx="380.0" cy="258.3" r="1.6"/><circle cx="381.4" cy="253.0" r="1.6"/><circle cx="382.8" cy="248.9" r="1.6"/><circle cx="384.2" cy="246.4" r="1.6"/><circle cx="385.6" cy="245.5" r="1.6"/><circle cx="387.0" cy="246.3" r="1.6"/><circle cx="388.4" cy="248.7" r="1.6"/><circle cx="389.8" cy="252.7" r="1.6"/><circle cx="391.2" cy="258.1" r="1.6"/><circle cx="392.6" cy="264.5" r="1.6"/><circle cx="394.0" cy="271.8" r="1.6"/><circle cx="395.4" cy="279.5" r="1.6"/><circle cx="396.8" cy="287.6" r="1.6"/><circle cx="398.2" cy="295.7" r="1.6"/><circle cx="399.6" cy="303.6" r="1.6"/><circle cx="401.0" cy="311.0" r="1.6"/><circle cx="402.4" cy="317.9" r="1.6"/><circle cx="403.7" cy="323.8" r="1.6"/><circle cx="405.1" cy="328.5" r="1.6"/><circle cx="406.5" cy="331.9" r="1.6"/><circle cx="407.9" cy="333.7" r="1.6"/><circle cx="409.3" cy="334.2" r="1.6"/><circle cx="410.7" cy="333.9" r="1.6"/><circle cx="412.1" cy="333.1" r="1.6"/><circle cx="413.5" cy="332.5" r="1.6"/><circle cx="414.9" cy="332.3" r="1.6"/><circle cx="416.3" cy="332.6" r="1.6"/><circle cx="417.7" cy="333.4" r="1.6"/><circle cx="419.1" cy="334.2" r="1.6"/><circle cx="420.5" cy="334.9" r="1.6"/><circle cx="421.9" cy="335.0" r="1.6"/><circle cx="423.3" cy="334.5" r="1.6"/><circle cx="424.7" cy="333.7" r="1.6"/><circle cx="426.1" cy="332.9" r="1.6"/><circle cx="427.5" cy="332.3" r="1.6"/><circle cx="428.9" cy="332.3" r="1.6"/><circle cx="430.3" cy="332.8" r="1.6"/><circle cx="431.7" cy="333.6" r="1.6"/><circle cx="433.0" cy="334.4" r="1.6"/><circle cx="434.4" cy="334.9" r="1.6"/><circle cx="435.8" cy="334.9" r="1.6"/><circle cx="437.2" cy="334.4" r="1.6"/><circle cx="438.6" cy="333.5" r="1.6"/><circle cx="440.0" cy="332.7" r="1.6"/><circle cx="441.4" cy="332.3" r="1.6"/><circle cx="442.8" cy="332.4" r="1.6"/><circle cx="444.2" cy="333.0" r="1.6"/><circle cx="445.6" cy="333.8" r="1.6"/><circle cx="447.0" cy="334.6" r="1.6"/><circle cx="448.4" cy="335.0" r="1.6"/><circle cx="449.8" cy="334.8" r="1.6"/></g>
<g fill="url(#mPnk)" stroke="#e066f0" stroke-width="0.35" stroke-opacity="0.6"><circle cx="268.4" cy="333.3" r="1.6"/><circle cx="269.8" cy="333.5" r="1.6"/><circle cx="271.2" cy="333.6" r="1.6"/><circle cx="272.6" cy="333.5" r="1.6"/><circle cx="274.0" cy="333.2" r="1.6"/><circle cx="275.4" cy="332.9" r="1.6"/><circle cx="276.8" cy="332.5" r="1.6"/><circle cx="278.2" cy="332.2" r="1.6"/><circle cx="279.6" cy="332.0" r="1.6"/><circle cx="281.0" cy="331.9" r="1.6"/><circle cx="282.4" cy="331.9" r="1.6"/><circle cx="283.7" cy="332.1" r="1.6"/><circle cx="285.1" cy="332.4" r="1.6"/><circle cx="286.5" cy="332.7" r="1.6"/><circle cx="287.9" cy="333.0" r="1.6"/><circle cx="289.3" cy="333.3" r="1.6"/><circle cx="290.7" cy="333.4" r="1.6"/><circle cx="292.1" cy="333.3" r="1.6"/><circle cx="293.5" cy="333.1" r="1.6"/><circle cx="294.9" cy="332.8" r="1.6"/><circle cx="296.3" cy="332.3" r="1.6"/><circle cx="297.7" cy="331.9" r="1.6"/><circle cx="299.1" cy="331.5" r="1.6"/><circle cx="300.5" cy="331.2" r="1.6"/><circle cx="301.9" cy="331.0" r="1.6"/><circle cx="303.3" cy="330.9" r="1.6"/><circle cx="304.7" cy="331.0" r="1.6"/><circle cx="306.1" cy="331.2" r="1.6"/><circle cx="307.5" cy="331.4" r="1.6"/><circle cx="308.9" cy="331.5" r="1.6"/><circle cx="310.3" cy="331.6" r="1.6"/><circle cx="311.7" cy="331.5" r="1.6"/><circle cx="313.1" cy="331.2" r="1.6"/><circle cx="314.4" cy="330.8" r="1.6"/><circle cx="315.8" cy="330.3" r="1.6"/><circle cx="317.2" cy="329.6" r="1.6"/><circle cx="318.6" cy="328.9" r="1.6"/><circle cx="320.0" cy="328.2" r="1.6"/><circle cx="321.4" cy="327.4" r="1.6"/><circle cx="322.8" cy="326.5" r="1.6"/><circle cx="324.2" cy="325.5" r="1.6"/><circle cx="325.6" cy="324.2" r="1.6"/><circle cx="327.0" cy="322.6" r="1.6"/><circle cx="328.4" cy="320.1" r="1.6"/><circle cx="329.8" cy="317.1" r="1.6"/><circle cx="331.2" cy="313.7" r="1.6"/><circle cx="332.6" cy="309.8" r="1.6"/><circle cx="334.0" cy="305.7" r="1.6"/><circle cx="335.4" cy="301.6" r="1.6"/><circle cx="336.8" cy="297.6" r="1.6"/><circle cx="338.2" cy="294.1" r="1.6"/><circle cx="339.6" cy="291.3" r="1.6"/><circle cx="341.0" cy="289.4" r="1.6"/><circle cx="342.4" cy="288.7" r="1.6"/><circle cx="343.7" cy="289.0" r="1.6"/><circle cx="345.1" cy="290.6" r="1.6"/><circle cx="346.5" cy="293.2" r="1.6"/><circle cx="347.9" cy="296.8" r="1.6"/><circle cx="349.3" cy="301.0" r="1.6"/><circle cx="350.7" cy="305.6" r="1.6"/><circle cx="352.1" cy="310.5" r="1.6"/><circle cx="353.5" cy="315.3" r="1.6"/><circle cx="354.9" cy="320.0" r="1.6"/><circle cx="356.3" cy="324.4" r="1.6"/><circle cx="357.7" cy="328.5" r="1.6"/><circle cx="359.1" cy="332.3" r="1.6"/><circle cx="360.5" cy="336.1" r="1.6"/><circle cx="361.9" cy="334.0" r="1.6"/><circle cx="363.3" cy="330.1" r="1.6"/><circle cx="364.7" cy="325.9" r="1.6"/><circle cx="366.1" cy="321.2" r="1.6"/><circle cx="367.5" cy="315.8" r="1.6"/><circle cx="368.9" cy="309.8" r="1.6"/><circle cx="370.3" cy="302.9" r="1.6"/><circle cx="371.7" cy="295.3" r="1.6"/><circle cx="373.0" cy="287.1" r="1.6"/><circle cx="374.4" cy="278.5" r="1.6"/><circle cx="375.8" cy="269.7" r="1.6"/><circle cx="377.2" cy="260.9" r="1.6"/><circle cx="378.6" cy="252.7" r="1.6"/><circle cx="380.0" cy="245.2" r="1.6"/><circle cx="381.4" cy="239.0" r="1.6"/><circle cx="382.8" cy="234.2" r="1.6"/><circle cx="384.2" cy="231.3" r="1.6"/><circle cx="385.6" cy="230.2" r="1.6"/><circle cx="387.0" cy="231.1" r="1.6"/><circle cx="388.4" cy="234.0" r="1.6"/><circle cx="389.8" cy="238.7" r="1.6"/><circle cx="391.2" cy="244.9" r="1.6"/><circle cx="392.6" cy="252.4" r="1.6"/><circle cx="394.0" cy="260.9" r="1.6"/><circle cx="395.4" cy="270.0" r="1.6"/><circle cx="396.8" cy="279.4" r="1.6"/><circle cx="398.2" cy="288.8" r="1.6"/><circle cx="399.6" cy="298.0" r="1.6"/><circle cx="401.0" cy="306.9" r="1.6"/><circle cx="402.4" cy="315.1" r="1.6"/><circle cx="403.7" cy="322.3" r="1.6"/><circle cx="405.1" cy="327.9" r="1.6"/><circle cx="406.5" cy="331.4" r="1.6"/><circle cx="407.9" cy="333.0" r="1.6"/><circle cx="409.3" cy="333.3" r="1.6"/><circle cx="410.7" cy="332.8" r="1.6"/><circle cx="412.1" cy="332.4" r="1.6"/><circle cx="413.5" cy="332.3" r="1.6"/><circle cx="414.9" cy="332.8" r="1.6"/><circle cx="416.3" cy="333.6" r="1.6"/><circle cx="417.7" cy="334.4" r="1.6"/><circle cx="419.1" cy="334.9" r="1.6"/><circle cx="420.5" cy="334.9" r="1.6"/><circle cx="421.9" cy="334.4" r="1.6"/><circle cx="423.3" cy="333.5" r="1.6"/><circle cx="424.7" cy="332.7" r="1.6"/><circle cx="426.1" cy="332.3" r="1.6"/><circle cx="427.5" cy="332.3" r="1.6"/><circle cx="428.9" cy="332.9" r="1.6"/><circle cx="430.3" cy="333.8" r="1.6"/><circle cx="431.7" cy="334.6" r="1.6"/><circle cx="433.0" cy="335.0" r="1.6"/><circle cx="434.4" cy="334.8" r="1.6"/><circle cx="435.8" cy="334.2" r="1.6"/><circle cx="437.2" cy="333.3" r="1.6"/><circle cx="438.6" cy="332.5" r="1.6"/><circle cx="440.0" cy="332.2" r="1.6"/><circle cx="441.4" cy="332.5" r="1.6"/><circle cx="442.8" cy="333.2" r="1.6"/><circle cx="444.2" cy="334.0" r="1.6"/><circle cx="445.6" cy="334.7" r="1.6"/><circle cx="447.0" cy="335.0" r="1.6"/><circle cx="448.4" cy="334.7" r="1.6"/><circle cx="449.8" cy="334.0" r="1.6"/></g>
<line x1="275.10" y1="206.60" x2="294.00" y2="206.60" stroke="#a9a3dc" stroke-width="1.1" />
<text x="296.10" y="209.50" font-size="8.2" text-anchor="start" fill="#a9a3dc" >Ni foil</text>
<circle cx="412.3" cy="206.6" r="2.1" fill="url(#mLav)"/>
<text x="423.70" y="209.50" font-size="8.2" text-anchor="start" fill="#a9a3dc" >Fitting</text>
<line x1="275.10" y1="216.70" x2="294.00" y2="216.70" stroke="#ff8a2b" stroke-width="1.1" />
<text x="296.10" y="219.60" font-size="8.2" text-anchor="start" fill="#ff8a2b" >NiO-300</text>
<circle cx="412.3" cy="216.7" r="2.1" fill="url(#mOrg)"/>
<text x="423.70" y="219.60" font-size="8.2" text-anchor="start" fill="#ff8a2b" >Fitting</text>
<line x1="275.10" y1="226.80" x2="294.00" y2="226.80" stroke="#21c2c8" stroke-width="1.1" />
<text x="296.10" y="229.70" font-size="8.2" text-anchor="start" fill="#21c2c8" >NiO-400</text>
<circle cx="412.3" cy="226.8" r="2.1" fill="url(#mCya)"/>
<text x="423.70" y="229.70" font-size="8.2" text-anchor="start" fill="#21c2c8" >Fitting</text>
<line x1="275.10" y1="236.90" x2="294.00" y2="236.90" stroke="#1496ff" stroke-width="1.1" />
<text x="296.10" y="239.80" font-size="8.2" text-anchor="start" fill="#1496ff" >NiO-500</text>
<circle cx="412.3" cy="236.9" r="2.1" fill="url(#mBlu)"/>
<text x="423.70" y="239.80" font-size="8.2" text-anchor="start" fill="#1496ff" >Fitting</text>
<line x1="275.10" y1="247.00" x2="294.00" y2="247.00" stroke="#e066f0" stroke-width="1.1" />
<text x="296.10" y="249.90" font-size="8.2" text-anchor="start" fill="#e066f0" >NiO-ref.</text>
<circle cx="412.3" cy="247.0" r="2.1" fill="url(#mPnk)"/>
<text x="423.70" y="249.90" font-size="8.2" text-anchor="start" fill="#e066f0" >Fitting</text>
<text x="386.20" y="222.20" font-size="8.3" text-anchor="middle" fill="#000" >Ni-Ni</text>
<line x1="385.80" y1="224.80" x2="385.80" y2="270.00" stroke="#333" stroke-width="0.6" stroke-dasharray="1.5,1.2"/>
<text x="339.60" y="282.50" font-size="8.3" text-anchor="middle" fill="#000" >Ni-O</text>
<line x1="339.60" y1="284.50" x2="339.60" y2="292.00" stroke="#333" stroke-width="0.6" stroke-dasharray="1.5,1.2"/>
<text x="253.40" y="267.00" font-size="9.5" text-anchor="middle" fill="#000" transform="rotate(-90 253.40 267.00)" >|FT(<tspan font-style="italic">k</tspan><tspan font-size="6" dy="-3.5">2</tspan><tspan dy="3.5"> χ(</tspan><tspan font-style="italic">k</tspan>))| (Å<tspan font-size="6" dy="-3.5">−3</tspan><tspan dy="3.5">)</tspan></text>
<text x="369.20" y="375.30" font-size="9.6" text-anchor="middle" fill="#000" ><tspan font-style="italic">R</tspan>+<tspan font-style="italic">ΔR</tspan> (Å)</text>
<text x="0.00" y="0.00" font-size="18.0" text-anchor="start" fill="#000" transform="translate(245.5,204.8) scale(1.1,1)">e</text>
<rect x="493.30" y="197.20" width="87.90" height="75.80" fill="none" stroke="#6a6a6a" stroke-width="0.9" />
<text x="496.10" y="206.50" font-size="7.6" text-anchor="start" fill="#fff" >Ni foil</text>
<rect x="582.60" y="197.20" width="87.80" height="75.80" fill="none" stroke="#6a6a6a" stroke-width="0.9" />
<text x="585.40" y="206.50" font-size="7.6" text-anchor="start" fill="#fff" >NiO-300</text>
<rect x="493.30" y="275.30" width="87.90" height="76.50" fill="none" stroke="#6a6a6a" stroke-width="0.9" />
<text x="496.10" y="284.60" font-size="7.6" text-anchor="start" fill="#fff" >NiO-500</text>
<rect x="582.60" y="275.30" width="87.80" height="76.50" fill="none" stroke="#6a6a6a" stroke-width="0.9" />
<text x="585.40" y="284.60" font-size="7.6" text-anchor="start" fill="#fff" >NiO-ref.</text>
<rect x="493.30" y="273.20" width="177.10" height="2.00" fill="#ffffff" stroke="none" stroke-width="0.8" />
<rect x="581.30" y="197.20" width="1.20" height="154.60" fill="#5a5a5a" stroke="none" stroke-width="0.8" />
<text x="550.20" y="232.80" font-size="7.6" text-anchor="middle" fill="#fff" >Ni-Ni</text>
<text x="634.20" y="218.80" font-size="7.6" text-anchor="middle" fill="#fff" >Ni-Ni</text>
<text x="619.50" y="257.00" font-size="7.6" text-anchor="middle" fill="#e8fff8" >Ni-O</text>
<text x="550.50" y="297.70" font-size="7.6" text-anchor="middle" fill="#fff" >Ni-Ni</text>
<text x="532.50" y="333.30" font-size="7.6" text-anchor="middle" fill="#e8fff0" >Ni-O</text>
<text x="639.00" y="297.70" font-size="7.6" text-anchor="middle" fill="#fff" >Ni-Ni</text>
<text x="625.20" y="331.50" font-size="7.6" text-anchor="middle" fill="#e8fff0" >Ni-O</text>
<line x1="490.50" y1="273.00" x2="493.30" y2="273.00" stroke="#333" stroke-width="0.8" />
<text x="489.00" y="275.60" font-size="8.2" text-anchor="end" fill="#000" >1</text>
<line x1="490.50" y1="237.37" x2="493.30" y2="237.37" stroke="#333" stroke-width="0.8" />
<text x="489.00" y="239.97" font-size="8.2" text-anchor="end" fill="#000" >2</text>
<line x1="490.50" y1="201.75" x2="493.30" y2="201.75" stroke="#333" stroke-width="0.8" />
<text x="489.00" y="204.35" font-size="8.2" text-anchor="end" fill="#000" >3</text>
<line x1="491.50" y1="255.19" x2="493.30" y2="255.19" stroke="#333" stroke-width="0.8" />
<line x1="491.50" y1="219.56" x2="493.30" y2="219.56" stroke="#333" stroke-width="0.8" />
<line x1="490.50" y1="351.80" x2="493.30" y2="351.80" stroke="#333" stroke-width="0.8" />
<text x="489.00" y="354.40" font-size="8.2" text-anchor="end" fill="#000" >1</text>
<line x1="490.50" y1="315.85" x2="493.30" y2="315.85" stroke="#333" stroke-width="0.8" />
<text x="489.00" y="318.45" font-size="8.2" text-anchor="end" fill="#000" >2</text>
<line x1="490.50" y1="279.89" x2="493.30" y2="279.89" stroke="#333" stroke-width="0.8" />
<text x="489.00" y="282.49" font-size="8.2" text-anchor="end" fill="#000" >3</text>
<line x1="491.50" y1="333.82" x2="493.30" y2="333.82" stroke="#333" stroke-width="0.8" />
<line x1="491.50" y1="297.87" x2="493.30" y2="297.87" stroke="#333" stroke-width="0.8" />
<line x1="517.85" y1="351.80" x2="517.85" y2="354.40" stroke="#333" stroke-width="0.8" />
<line x1="549.52" y1="351.80" x2="549.52" y2="354.40" stroke="#333" stroke-width="0.8" />
<line x1="581.20" y1="351.80" x2="581.20" y2="354.40" stroke="#333" stroke-width="0.8" />
<line x1="502.01" y1="351.80" x2="502.01" y2="353.40" stroke="#333" stroke-width="0.8" />
<line x1="533.69" y1="351.80" x2="533.69" y2="353.40" stroke="#333" stroke-width="0.8" />
<line x1="565.36" y1="351.80" x2="565.36" y2="353.40" stroke="#333" stroke-width="0.8" />
<line x1="607.12" y1="351.80" x2="607.12" y2="354.40" stroke="#333" stroke-width="0.8" />
<line x1="638.76" y1="351.80" x2="638.76" y2="354.40" stroke="#333" stroke-width="0.8" />
<line x1="670.40" y1="351.80" x2="670.40" y2="354.40" stroke="#333" stroke-width="0.8" />
<line x1="591.30" y1="351.80" x2="591.30" y2="353.40" stroke="#333" stroke-width="0.8" />
<line x1="622.94" y1="351.80" x2="622.94" y2="353.40" stroke="#333" stroke-width="0.8" />
<line x1="654.58" y1="351.80" x2="654.58" y2="353.40" stroke="#333" stroke-width="0.8" />
<text x="517.30" y="361.60" font-size="7.8" text-anchor="middle" fill="#000" >4</text>
<text x="580.70" y="361.60" font-size="7.8" text-anchor="middle" fill="#000" >12</text>
<text x="607.30" y="361.60" font-size="7.8" text-anchor="middle" fill="#000" >4</text>
<text x="670.90" y="361.60" font-size="7.8" text-anchor="middle" fill="#000" >12</text>
<text x="548.60" y="361.00" font-size="7.8" text-anchor="middle" fill="#000" >8</text>
<text x="638.60" y="361.00" font-size="7.8" text-anchor="middle" fill="#000" >8</text>
<text x="537.30" y="369.00" font-size="8.8" text-anchor="middle" fill="#000" >K (Å)</text>
<text x="627.60" y="369.00" font-size="8.8" text-anchor="middle" fill="#000" >K (Å)</text>
<text x="481.30" y="236.50" font-size="9.3" text-anchor="middle" fill="#000" transform="rotate(-90 481.30 236.50)" >R (Å)</text>
<text x="481.30" y="315.00" font-size="9.3" text-anchor="middle" fill="#000" transform="rotate(-90 481.30 315.00)" >R (Å)</text>
<defs><linearGradient id="cbF" x1="0" y1="1" x2="0" y2="0"><stop offset="0.0000" stop-color="rgb(0, 0, 230)"/><stop offset="0.0794" stop-color="rgb(0, 70, 255)"/><stop offset="0.1587" stop-color="rgb(0, 150, 255)"/><stop offset="0.2381" stop-color="rgb(0, 210, 250)"/><stop offset="0.3175" stop-color="rgb(0, 232, 215)"/><stop offset="0.3968" stop-color="rgb(0, 235, 140)"/><stop offset="0.4762" stop-color="rgb(0, 230, 60)"/><stop offset="0.5556" stop-color="rgb(40, 225, 10)"/><stop offset="0.6349" stop-color="rgb(120, 230, 0)"/><stop offset="0.7143" stop-color="rgb(230, 240, 0)"/><stop offset="0.7937" stop-color="rgb(255, 200, 0)"/><stop offset="0.8730" stop-color="rgb(255, 130, 0)"/><stop offset="0.9524" stop-color="rgb(255, 50, 0)"/><stop offset="1.0000" stop-color="rgb(230, 0, 0)"/></linearGradient></defs>
<rect x="672.70" y="197.00" width="3.80" height="154.80" fill="url(#cbF)" stroke="#888" stroke-width="0.5" />
<line x1="676.50" y1="351.80" x2="678.60" y2="351.80" stroke="#333" stroke-width="0.7" />
<text x="679.30" y="354.40" font-size="8.2" text-anchor="start" fill="#000" >0</text>
<line x1="676.50" y1="327.40" x2="678.60" y2="327.40" stroke="#333" stroke-width="0.7" />
<text x="679.30" y="330.00" font-size="8.2" text-anchor="start" fill="#000" >1</text>
<line x1="676.50" y1="303.00" x2="678.60" y2="303.00" stroke="#333" stroke-width="0.7" />
<text x="679.30" y="305.60" font-size="8.2" text-anchor="start" fill="#000" >2</text>
<line x1="676.50" y1="278.60" x2="678.60" y2="278.60" stroke="#333" stroke-width="0.7" />
<text x="679.30" y="281.20" font-size="8.2" text-anchor="start" fill="#000" >3</text>
<line x1="676.50" y1="254.20" x2="678.60" y2="254.20" stroke="#333" stroke-width="0.7" />
<text x="679.30" y="256.80" font-size="8.2" text-anchor="start" fill="#000" >4</text>
<line x1="676.50" y1="229.80" x2="678.60" y2="229.80" stroke="#333" stroke-width="0.7" />
<text x="679.30" y="232.40" font-size="8.2" text-anchor="start" fill="#000" >5</text>
<line x1="676.50" y1="205.40" x2="678.60" y2="205.40" stroke="#333" stroke-width="0.7" />
<text x="679.30" y="208.00" font-size="8.2" text-anchor="start" fill="#000" >6</text>
<text x="0.00" y="0.00" font-size="18.0" text-anchor="start" fill="#000" transform="translate(467.2,204.3) scale(1.1,1)">f</text>
<path d="M79.9,400.8 L160.9,400.8 L172.3,436.5 L164.5,444.0 L184.7,513.0 L170.7,517.7 L163.7,531.8 L151.2,531.8 L151.2,539.9 L86.9,541.2 L76.0,502.1 L65.9,502.1 L51.1,461.4 L60.4,445.8 L58.4,436.5 Z" fill="none" stroke="#fff" stroke-width="1.6" stroke-dasharray="1.3,1.3"/>
<circle cx="82.3" cy="444.3" r="3.8" fill="none" stroke="#f0101a" stroke-width="1.35" stroke-dasharray="1.1,0.85"/>
<circle cx="163.4" cy="435.7" r="3.8" fill="none" stroke="#f0101a" stroke-width="1.35" stroke-dasharray="1.1,0.85"/>
<circle cx="163.7" cy="459.3" r="3.8" fill="none" stroke="#f0101a" stroke-width="1.35" stroke-dasharray="1.1,0.85"/>
<circle cx="77.9" cy="496.3" r="3.8" fill="none" stroke="#f0101a" stroke-width="1.35" stroke-dasharray="1.1,0.85"/>
<circle cx="166.5" cy="510.2" r="3.8" fill="none" stroke="#f0101a" stroke-width="1.35" stroke-dasharray="1.1,0.85"/>
<rect x="173.00" y="395.90" width="41.10" height="19.20" fill="#fff" stroke="none" stroke-width="0.8" />
<circle cx="181.2" cy="406.1" r="3.8" fill="none" stroke="#f0101a" stroke-width="1.35" stroke-dasharray="1.1,0.85"/>
<text x="188.40" y="410.00" font-size="10.8" text-anchor="start" fill="#f5101a" >v-Ni</text>
<rect x="36.60" y="538.00" width="29.30" height="2.80" fill="#fff" stroke="none" stroke-width="0.8" />
<text x="36.60" y="534.40" font-size="11.6" text-anchor="start" fill="#fff" font-weight="bold" >1 nm</text>
<text x="0.00" y="0.00" font-size="18.0" text-anchor="start" fill="#000" transform="translate(1.2,402.2) scale(1.1,1)">g</text>
<rect x="268.40" y="391.70" width="181.80" height="152.60" fill="#fff" stroke="#5e5e5e" stroke-width="0.95" />
<g><circle cx="308.7" cy="404.5" r="3.05" fill="rgb(60,108,245)"/><circle cx="316.2" cy="404.5" r="3.05" fill="rgb(30,165,222)"/><circle cx="323.8" cy="404.5" r="3.05" fill="rgb(40,140,232)"/><circle cx="331.0" cy="404.5" r="3.05" fill="rgb(30,165,222)"/><circle cx="338.0" cy="404.5" r="3.05" fill="rgb(15,183,200)"/><circle cx="345.3" cy="404.5" r="3.05" fill="rgb(15,183,200)"/><circle cx="353.1" cy="404.5" r="3.05" fill="rgb(60,196,145)"/><circle cx="360.4" cy="404.5" r="3.05" fill="rgb(15,183,200)"/><circle cx="367.8" cy="404.5" r="3.05" fill="rgb(60,196,145)"/><circle cx="376.3" cy="404.5" r="3.05" fill="rgb(100,200,110)"/><circle cx="302.6" cy="412.2" r="3.05" fill="rgb(40,140,232)"/><circle cx="310.8" cy="412.2" r="3.05" fill="rgb(35,190,170)"/><circle cx="317.9" cy="412.2" r="3.05" fill="rgb(40,140,232)"/><circle cx="325.1" cy="412.2" r="3.05" fill="rgb(30,165,222)"/><circle cx="333.2" cy="412.2" r="3.05" fill="rgb(40,140,232)"/><circle cx="340.9" cy="412.2" r="3.05" fill="rgb(15,183,200)"/><circle cx="349.0" cy="412.2" r="3.05" fill="rgb(35,190,170)"/><circle cx="355.8" cy="412.2" r="3.05" fill="rgb(30,165,222)"/><circle cx="363.7" cy="412.2" r="3.05" fill="rgb(35,190,170)"/><circle cx="371.9" cy="412.2" r="3.05" fill="rgb(60,196,145)"/><circle cx="379.3" cy="412.2" r="3.05" fill="rgb(15,183,200)"/><circle cx="298.0" cy="419.9" r="3.05" fill="rgb(35,190,170)"/><circle cx="305.7" cy="419.9" r="3.05" fill="rgb(35,190,170)"/><circle cx="312.3" cy="419.9" r="3.05" fill="rgb(30,165,222)"/><circle cx="320.0" cy="419.9" r="3.05" fill="rgb(35,190,170)"/><circle cx="328.6" cy="419.9" r="3.05" fill="rgb(60,196,145)"/><circle cx="335.8" cy="419.9" r="3.05" fill="rgb(35,190,170)"/><circle cx="343.5" cy="419.9" r="3.05" fill="rgb(30,165,222)"/><circle cx="351.0" cy="419.9" r="3.05" fill="rgb(30,165,222)"/><circle cx="358.9" cy="419.9" r="3.05" fill="rgb(35,190,170)"/><circle cx="366.8" cy="419.9" r="3.05" fill="rgb(60,196,145)"/><circle cx="374.0" cy="419.9" r="3.05" fill="rgb(60,196,145)"/><circle cx="382.7" cy="419.9" r="3.05" fill="rgb(60,108,245)"/><circle cx="293.2" cy="427.3" r="3.05" fill="rgb(35,190,170)"/><circle cx="300.8" cy="427.3" r="3.05" fill="rgb(30,165,222)"/><circle cx="308.2" cy="427.3" r="3.05" fill="rgb(15,183,200)"/><circle cx="315.4" cy="427.3" r="3.05" fill="rgb(40,140,232)"/><circle cx="323.5" cy="427.3" r="3.05" fill="rgb(60,196,145)"/><circle cx="331.0" cy="427.3" r="3.05" fill="rgb(15,183,200)"/><circle cx="337.8" cy="427.3" r="3.05" fill="rgb(15,183,200)"/><circle cx="345.6" cy="427.3" r="3.05" fill="rgb(30,165,222)"/><circle cx="353.5" cy="427.3" r="3.05" fill="rgb(40,140,232)"/><circle cx="361.5" cy="427.3" r="3.05" fill="rgb(15,183,200)"/><circle cx="369.4" cy="427.3" r="3.05" fill="rgb(40,140,232)"/><circle cx="376.8" cy="427.3" r="3.05" fill="rgb(15,183,200)"/><circle cx="385.0" cy="427.3" r="3.05" fill="rgb(60,108,245)"/><circle cx="288.1" cy="435.5" r="3.05" fill="rgb(30,165,222)"/><circle cx="295.7" cy="435.5" r="3.05" fill="rgb(30,165,222)"/><circle cx="303.6" cy="435.5" r="3.05" fill="rgb(60,108,245)"/><circle cx="310.8" cy="435.5" r="3.05" fill="rgb(40,140,232)"/><circle cx="318.4" cy="435.5" r="3.05" fill="rgb(15,183,200)"/><circle cx="326.1" cy="435.5" r="3.05" fill="rgb(40,140,232)"/><circle cx="333.2" cy="435.5" r="3.05" fill="rgb(35,190,170)"/><circle cx="341.2" cy="435.5" r="3.05" fill="rgb(30,165,222)"/><circle cx="349.0" cy="435.5" r="3.05" fill="rgb(30,165,222)"/><circle cx="356.3" cy="435.5" r="3.05" fill="rgb(245,190,55)"/><circle cx="364.3" cy="435.5" r="3.05" fill="rgb(35,190,170)"/><circle cx="371.7" cy="435.5" r="3.05" fill="rgb(30,165,222)"/><circle cx="379.9" cy="435.5" r="3.05" fill="rgb(30,165,222)"/><circle cx="388.2" cy="435.5" r="3.05" fill="rgb(72,62,222)"/><circle cx="289.8" cy="443.0" r="3.05" fill="rgb(60,108,245)"/><circle cx="298.5" cy="443.0" r="3.05" fill="rgb(60,108,245)"/><circle cx="306.2" cy="443.0" r="3.05" fill="rgb(72,62,222)"/><circle cx="314.1" cy="443.0" r="3.05" fill="rgb(40,140,232)"/><circle cx="321.0" cy="443.0" r="3.05" fill="rgb(15,183,200)"/><circle cx="328.6" cy="443.0" r="3.05" fill="rgb(15,183,200)"/><circle cx="336.3" cy="443.0" r="3.05" fill="rgb(40,140,232)"/><circle cx="343.6" cy="443.0" r="3.05" fill="rgb(22,186,188)"/><circle cx="351.8" cy="443.0" r="3.05" fill="rgb(35,190,170)"/><circle cx="359.4" cy="443.0" r="3.05" fill="rgb(100,200,110)"/><circle cx="367.4" cy="443.0" r="3.05" fill="rgb(22,186,188)"/><circle cx="374.9" cy="443.0" r="3.05" fill="rgb(15,183,200)"/><circle cx="382.7" cy="443.0" r="3.05" fill="rgb(30,165,222)"/><circle cx="285.7" cy="450.7" r="3.05" fill="rgb(60,196,145)"/><circle cx="293.2" cy="450.7" r="3.05" fill="rgb(30,165,222)"/><circle cx="301.1" cy="450.7" r="3.05" fill="rgb(60,108,245)"/><circle cx="308.2" cy="450.7" r="3.05" fill="rgb(15,183,200)"/><circle cx="316.4" cy="450.7" r="3.05" fill="rgb(35,190,170)"/><circle cx="323.8" cy="450.7" r="3.05" fill="rgb(40,140,232)"/><circle cx="331.2" cy="450.7" r="3.05" fill="rgb(15,183,200)"/><circle cx="338.2" cy="450.7" r="3.05" fill="rgb(30,165,222)"/><circle cx="346.9" cy="450.7" r="3.05" fill="rgb(15,183,200)"/><circle cx="354.8" cy="450.7" r="3.05" fill="rgb(15,183,200)"/><circle cx="362.0" cy="450.7" r="3.05" fill="rgb(35,190,170)"/><circle cx="370.1" cy="450.7" r="3.05" fill="rgb(60,196,145)"/><circle cx="378.0" cy="450.7" r="3.05" fill="rgb(30,165,222)"/><circle cx="385.5" cy="450.7" r="3.05" fill="rgb(60,108,245)"/><circle cx="280.6" cy="458.4" r="3.05" fill="rgb(60,196,145)"/><circle cx="288.3" cy="458.4" r="3.05" fill="rgb(30,165,222)"/><circle cx="296.5" cy="458.4" r="3.05" fill="rgb(40,140,232)"/><circle cx="304.6" cy="458.4" r="3.05" fill="rgb(40,140,232)"/><circle cx="312.0" cy="458.4" r="3.05" fill="rgb(40,140,232)"/><circle cx="319.5" cy="458.4" r="3.05" fill="rgb(40,140,232)"/><circle cx="326.9" cy="458.4" r="3.05" fill="rgb(15,183,200)"/><circle cx="334.1" cy="458.4" r="3.05" fill="rgb(15,183,200)"/><circle cx="341.9" cy="458.4" r="3.05" fill="rgb(15,183,200)"/><circle cx="349.7" cy="458.4" r="3.05" fill="rgb(40,140,232)"/><circle cx="356.9" cy="458.4" r="3.05" fill="rgb(30,165,222)"/><circle cx="364.7" cy="458.4" r="3.05" fill="rgb(15,183,200)"/><circle cx="372.7" cy="458.4" r="3.05" fill="rgb(30,165,222)"/><circle cx="380.9" cy="458.4" r="3.05" fill="rgb(40,140,232)"/><circle cx="389.9" cy="458.4" r="3.05" fill="rgb(55,40,160)"/><circle cx="283.7" cy="465.7" r="3.05" fill="rgb(60,196,145)"/><circle cx="290.8" cy="465.7" r="3.05" fill="rgb(35,190,170)"/><circle cx="298.5" cy="465.7" r="3.05" fill="rgb(40,140,232)"/><circle cx="306.9" cy="465.7" r="3.05" fill="rgb(30,165,222)"/><circle cx="314.3" cy="465.7" r="3.05" fill="rgb(60,108,245)"/><circle cx="323.0" cy="465.7" r="3.05" fill="rgb(30,165,222)"/><circle cx="330.2" cy="465.7" r="3.05" fill="rgb(30,165,222)"/><circle cx="337.8" cy="465.7" r="3.05" fill="rgb(15,183,200)"/><circle cx="344.6" cy="465.7" r="3.05" fill="rgb(60,196,145)"/><circle cx="352.3" cy="465.7" r="3.05" fill="rgb(35,190,170)"/><circle cx="359.9" cy="465.7" r="3.05" fill="rgb(15,183,200)"/><circle cx="367.4" cy="465.7" r="3.05" fill="rgb(30,165,222)"/><circle cx="375.3" cy="465.7" r="3.05" fill="rgb(40,140,232)"/><circle cx="383.4" cy="465.7" r="3.05" fill="rgb(60,108,245)"/><circle cx="390.9" cy="465.7" r="3.05" fill="rgb(40,140,232)"/><circle cx="286.4" cy="473.0" r="3.05" fill="rgb(250,245,20)"/><circle cx="293.9" cy="473.0" r="3.05" fill="rgb(60,196,145)"/><circle cx="302.1" cy="473.0" r="3.05" fill="rgb(40,140,232)"/><circle cx="309.2" cy="473.0" r="3.05" fill="rgb(30,165,222)"/><circle cx="316.7" cy="473.0" r="3.05" fill="rgb(15,183,200)"/><circle cx="323.8" cy="473.0" r="3.05" fill="rgb(30,165,222)"/><circle cx="332.7" cy="473.0" r="3.05" fill="rgb(30,165,222)"/><circle cx="339.9" cy="473.0" r="3.05" fill="rgb(15,183,200)"/><circle cx="348.0" cy="473.0" r="3.05" fill="rgb(15,183,200)"/><circle cx="355.8" cy="473.0" r="3.05" fill="rgb(60,196,145)"/><circle cx="363.0" cy="473.0" r="3.05" fill="rgb(30,165,222)"/><circle cx="370.7" cy="473.0" r="3.05" fill="rgb(15,183,200)"/><circle cx="378.0" cy="473.0" r="3.05" fill="rgb(40,140,232)"/><circle cx="385.5" cy="473.0" r="3.05" fill="rgb(40,140,232)"/><circle cx="393.6" cy="473.0" r="3.05" fill="rgb(60,108,245)"/><circle cx="288.3" cy="480.8" r="3.05" fill="rgb(30,165,222)"/><circle cx="296.0" cy="480.8" r="3.05" fill="rgb(40,140,232)"/><circle cx="304.4" cy="480.8" r="3.05" fill="rgb(40,140,232)"/><circle cx="311.8" cy="480.8" r="3.05" fill="rgb(30,165,222)"/><circle cx="319.5" cy="480.8" r="3.05" fill="rgb(30,165,222)"/><circle cx="327.3" cy="480.8" r="3.05" fill="rgb(40,140,232)"/><circle cx="334.8" cy="480.8" r="3.05" fill="rgb(30,165,222)"/><circle cx="341.9" cy="480.8" r="3.05" fill="rgb(100,200,110)"/><circle cx="350.0" cy="480.8" r="3.05" fill="rgb(15,183,200)"/><circle cx="357.9" cy="480.8" r="3.05" fill="rgb(30,165,222)"/><circle cx="365.5" cy="480.8" r="3.05" fill="rgb(40,140,232)"/><circle cx="373.2" cy="480.8" r="3.05" fill="rgb(60,108,245)"/><circle cx="381.4" cy="480.8" r="3.05" fill="rgb(40,140,232)"/><circle cx="388.8" cy="480.8" r="3.05" fill="rgb(22,186,188)"/><circle cx="396.7" cy="480.8" r="3.05" fill="rgb(40,140,232)"/><circle cx="291.3" cy="488.3" r="3.05" fill="rgb(30,165,222)"/><circle cx="299.5" cy="488.3" r="3.05" fill="rgb(40,140,232)"/><circle cx="306.9" cy="488.3" r="3.05" fill="rgb(60,108,245)"/><circle cx="314.3" cy="488.3" r="3.05" fill="rgb(22,186,188)"/><circle cx="322.0" cy="488.3" r="3.05" fill="rgb(40,140,232)"/><circle cx="329.7" cy="488.3" r="3.05" fill="rgb(30,165,222)"/><circle cx="337.3" cy="488.3" r="3.05" fill="rgb(30,165,222)"/><circle cx="344.2" cy="488.3" r="3.05" fill="rgb(30,165,222)"/><circle cx="352.8" cy="488.3" r="3.05" fill="rgb(40,140,232)"/><circle cx="360.4" cy="488.3" r="3.05" fill="rgb(30,165,222)"/><circle cx="367.6" cy="488.3" r="3.05" fill="rgb(40,140,232)"/><circle cx="375.8" cy="488.3" r="3.05" fill="rgb(15,183,200)"/><circle cx="383.7" cy="488.3" r="3.05" fill="rgb(30,165,222)"/><circle cx="391.9" cy="488.3" r="3.05" fill="rgb(22,186,188)"/><circle cx="399.1" cy="488.3" r="3.05" fill="rgb(60,108,245)"/><circle cx="293.9" cy="495.8" r="3.05" fill="rgb(72,62,222)"/><circle cx="301.8" cy="495.8" r="3.05" fill="rgb(62,48,205)"/><circle cx="309.5" cy="495.8" r="3.05" fill="rgb(80,90,245)"/><circle cx="316.9" cy="495.8" r="3.05" fill="rgb(15,183,200)"/><circle cx="324.9" cy="495.8" r="3.05" fill="rgb(30,165,222)"/><circle cx="332.2" cy="495.8" r="3.05" fill="rgb(30,165,222)"/><circle cx="339.9" cy="495.8" r="3.05" fill="rgb(15,183,200)"/><circle cx="347.7" cy="495.8" r="3.05" fill="rgb(60,196,145)"/><circle cx="355.3" cy="495.8" r="3.05" fill="rgb(30,165,222)"/><circle cx="363.0" cy="495.8" r="3.05" fill="rgb(40,140,232)"/><circle cx="370.7" cy="495.8" r="3.05" fill="rgb(100,200,110)"/><circle cx="378.3" cy="495.8" r="3.05" fill="rgb(40,140,232)"/><circle cx="386.0" cy="495.8" r="3.05" fill="rgb(40,140,232)"/><circle cx="393.6" cy="495.8" r="3.05" fill="rgb(22,186,188)"/><circle cx="401.3" cy="495.8" r="3.05" fill="rgb(40,140,232)"/><circle cx="304.8" cy="503.6" r="3.05" fill="rgb(30,165,222)"/><circle cx="312.0" cy="503.6" r="3.05" fill="rgb(35,190,170)"/><circle cx="319.6" cy="503.6" r="3.05" fill="rgb(30,165,222)"/><circle cx="327.0" cy="503.6" r="3.05" fill="rgb(60,196,145)"/><circle cx="335.0" cy="503.6" r="3.05" fill="rgb(15,183,200)"/><circle cx="342.3" cy="503.6" r="3.05" fill="rgb(15,183,200)"/><circle cx="350.3" cy="503.6" r="3.05" fill="rgb(15,183,200)"/><circle cx="357.4" cy="503.6" r="3.05" fill="rgb(35,190,170)"/><circle cx="365.1" cy="503.6" r="3.05" fill="rgb(100,200,110)"/><circle cx="373.0" cy="503.6" r="3.05" fill="rgb(60,196,145)"/><circle cx="381.2" cy="503.6" r="3.05" fill="rgb(30,165,222)"/><circle cx="388.8" cy="503.6" r="3.05" fill="rgb(40,140,232)"/><circle cx="396.8" cy="503.6" r="3.05" fill="rgb(15,183,200)"/><circle cx="306.9" cy="511.0" r="3.05" fill="rgb(60,108,245)"/><circle cx="314.5" cy="511.0" r="3.05" fill="rgb(40,140,232)"/><circle cx="322.7" cy="511.0" r="3.05" fill="rgb(22,186,188)"/><circle cx="329.9" cy="511.0" r="3.05" fill="rgb(30,165,222)"/><circle cx="337.5" cy="511.0" r="3.05" fill="rgb(190,185,45)"/><circle cx="345.2" cy="511.0" r="3.05" fill="rgb(140,200,80)"/><circle cx="352.8" cy="511.0" r="3.05" fill="rgb(245,190,55)"/><circle cx="360.0" cy="511.0" r="3.05" fill="rgb(30,165,222)"/><circle cx="368.2" cy="511.0" r="3.05" fill="rgb(15,183,200)"/><circle cx="376.1" cy="511.0" r="3.05" fill="rgb(15,183,200)"/><circle cx="383.7" cy="511.0" r="3.05" fill="rgb(30,165,222)"/><circle cx="391.9" cy="511.0" r="3.05" fill="rgb(60,108,245)"/><circle cx="399.0" cy="511.0" r="3.05" fill="rgb(60,108,245)"/><circle cx="309.9" cy="518.7" r="3.05" fill="rgb(60,108,245)"/><circle cx="317.1" cy="518.7" r="3.05" fill="rgb(15,183,200)"/><circle cx="324.7" cy="518.7" r="3.05" fill="rgb(190,185,45)"/><circle cx="332.1" cy="518.7" r="3.05" fill="rgb(100,200,110)"/><circle cx="340.1" cy="518.7" r="3.05" fill="rgb(30,165,222)"/><circle cx="348.0" cy="518.7" r="3.05" fill="rgb(100,200,110)"/><circle cx="355.9" cy="518.7" r="3.05" fill="rgb(100,200,110)"/><circle cx="363.1" cy="518.7" r="3.05" fill="rgb(30,165,222)"/><circle cx="370.9" cy="518.7" r="3.05" fill="rgb(30,165,222)"/><circle cx="378.4" cy="518.7" r="3.05" fill="rgb(35,190,170)"/><circle cx="386.8" cy="518.7" r="3.05" fill="rgb(60,108,245)"/><circle cx="312.0" cy="526.2" r="3.05" fill="rgb(60,108,245)"/><circle cx="319.6" cy="526.2" r="3.05" fill="rgb(60,108,245)"/><circle cx="327.3" cy="526.2" r="3.05" fill="rgb(30,165,222)"/><circle cx="335.0" cy="526.2" r="3.05" fill="rgb(100,200,110)"/><circle cx="342.3" cy="526.2" r="3.05" fill="rgb(60,196,145)"/><circle cx="350.3" cy="526.2" r="3.05" fill="rgb(60,196,145)"/><circle cx="357.4" cy="526.2" r="3.05" fill="rgb(220,190,40)"/><circle cx="365.3" cy="526.2" r="3.05" fill="rgb(100,200,110)"/><circle cx="374.0" cy="526.2" r="3.05" fill="rgb(30,165,222)"/><circle cx="382.2" cy="526.2" r="3.05" fill="rgb(30,165,222)"/><circle cx="315.0" cy="533.8" r="3.05" fill="rgb(72,62,222)"/><circle cx="322.9" cy="533.8" r="3.05" fill="rgb(40,140,232)"/><circle cx="330.9" cy="533.8" r="3.05" fill="rgb(30,165,222)"/><circle cx="337.8" cy="533.8" r="3.05" fill="rgb(15,183,200)"/><circle cx="345.2" cy="533.8" r="3.05" fill="rgb(15,183,200)"/><circle cx="353.1" cy="533.8" r="3.05" fill="rgb(140,200,80)"/><circle cx="360.2" cy="533.8" r="3.05" fill="rgb(60,196,145)"/><circle cx="368.2" cy="533.8" r="3.05" fill="rgb(30,165,222)"/></g>
<path d="M334.6,431.0 L384.3,431.0 L401.3,476.7 L352.4,476.7 Z" fill="none" stroke="#ee1c24" stroke-width="1.75" stroke-dasharray="3.6,1.7"/>
<defs><linearGradient id="cbH" x1="0" y1="1" x2="0" y2="0"><stop offset="0" stop-color="rgb(62, 38, 168)"/><stop offset="0.1" stop-color="rgb(70, 70, 230)"/><stop offset="0.2" stop-color="rgb(60, 110, 250)"/><stop offset="0.3" stop-color="rgb(40, 145, 235)"/><stop offset="0.4" stop-color="rgb(25, 170, 215)"/><stop offset="0.5" stop-color="rgb(15, 185, 190)"/><stop offset="0.6" stop-color="rgb(50, 195, 150)"/><stop offset="0.7" stop-color="rgb(120, 200, 95)"/><stop offset="0.8" stop-color="rgb(190, 190, 55)"/><stop offset="0.9" stop-color="rgb(250, 190, 50)"/><stop offset="1.0" stop-color="rgb(250, 245, 20)"/></linearGradient></defs>
<rect x="433.70" y="399.00" width="9.00" height="140.60" fill="url(#cbH)" stroke="none" stroke-width="0.8" />
<line x1="408.80" y1="509.00" x2="431.60" y2="509.00" stroke="rgb(100,125,240)" stroke-width="1.3" />
<line x1="408.80" y1="538.80" x2="431.60" y2="538.80" stroke="rgb(80,60,200)" stroke-width="1.4" />
<line x1="412.20" y1="512.50" x2="412.20" y2="535.30" stroke="rgb(80,80,235)" stroke-width="1.0" />
<path d="M412.2,510.6 L410.2,514.6 L414.2,514.6 Z M412.2,537.2 L410.2,533.2 L414.2,533.2 Z" fill="rgb(80,80,235)"/>
<text x="413.60" y="528.20" font-size="10.4" text-anchor="start" fill="#111" >v-Ni</text>
<text x="0.00" y="0.00" font-size="18.0" text-anchor="start" fill="#000" transform="translate(244.6,402.3) scale(1.1,1)">h</text>
<rect x="494.70" y="391.50" width="181.80" height="152.80" fill="#fff" stroke="#555" stroke-width="0.95" />
<path d="M509.6,414.5 L532.4,414.5 M509.6,414.5 L517.7,435.8 M532.4,414.5 L552.6,414.8 M532.4,414.5 L540.0,435.9 M552.6,414.8 L575.0,414.6 M552.6,414.8 L561.9,435.6 M575.0,414.6 L594.8,413.9 M575.0,414.6 L583.5,435.2 M594.8,413.9 L618.3,413.7 M594.8,413.9 L604.5,434.4 M618.3,413.7 L625.6,434.4 M517.7,435.8 L540.0,435.9 M517.7,435.8 L526.7,457.8 M540.0,435.9 L561.9,435.6 M540.0,435.9 L547.8,457.8 M561.9,435.6 L583.5,435.2 M561.9,435.6 L568.8,457.6 M583.5,435.2 L604.5,434.4 M583.5,435.2 L590.5,457.5 M604.5,434.4 L625.6,434.4 M604.5,434.4 L613.6,455.6 M625.6,434.4 L634.3,457.3 M526.7,457.8 L547.8,457.8 M526.7,457.8 L534.2,479.6 M547.8,457.8 L568.8,457.6 M547.8,457.8 L554.7,479.6 M568.8,457.6 L590.5,457.5 M568.8,457.6 L576.0,479.4 M590.5,457.5 L613.6,455.6 M590.5,457.5 L598.2,479.4 M613.6,455.6 L620.5,479.3 M534.2,479.6 L554.7,479.6 M534.2,479.6 L542.2,500.3 M554.7,479.6 L576.0,479.4 M554.7,479.6 L562.2,500.3 M576.0,479.4 L598.2,479.4 M576.0,479.4 L583.2,500.3 M598.2,479.4 L620.5,479.3 M598.2,479.4 L604.4,500.2 M620.5,479.3 L628.2,500.2 M542.2,500.3 L562.2,500.3 M542.2,500.3 L549.9,522.7 M562.2,500.3 L583.2,500.3 M562.2,500.3 L571.4,522.7 M583.2,500.3 L604.4,500.2 M604.4,500.2 L628.2,500.2 M604.4,500.2 L613.2,524.7 M628.2,500.2 L648.8,499.9 M628.2,500.2 L634.5,522.6 M648.8,499.9 L656.7,522.6 M549.9,522.7 L571.4,522.7 M613.2,524.7 L634.5,522.6 M634.5,522.6 L656.7,522.6 " stroke="#2a3a5a" stroke-width="0.9" stroke-dasharray="2.2,1.3" fill="none"/>
<path d="M613.6,455.6 L634.3,457.3 M634.3,457.3 L646.1,475.9 M620.5,479.3 L646.1,475.9 M646.1,475.9 L648.8,499.9 M583.2,500.3 L592.5,520.8 M571.4,522.7 L592.5,520.8 M592.5,520.8 L613.2,524.7 " stroke="#e8202a" stroke-width="0.9" stroke-dasharray="2.2,1.3" fill="none"/>
<g filter="url(#rough)"><circle cx="509.6" cy="414.5" r="8.6" fill="rgb(30, 160, 225)"/><circle cx="532.4" cy="414.5" r="8.6" fill="rgb(30, 160, 225)"/><circle cx="552.6" cy="414.8" r="8.6" fill="rgb(240, 185, 55)"/><circle cx="575.0" cy="414.6" r="8.6" fill="rgb(50, 195, 160)"/><circle cx="594.8" cy="413.9" r="8.6" fill="rgb(30, 160, 225)"/><circle cx="618.3" cy="413.7" r="8.6" fill="rgb(30, 160, 225)"/><circle cx="517.7" cy="435.8" r="8.6" fill="rgb(30, 185, 175)"/><circle cx="540.0" cy="435.9" r="8.6" fill="rgb(50, 195, 160)"/><circle cx="561.9" cy="435.6" r="8.6" fill="rgb(90, 200, 120)"/><circle cx="583.5" cy="435.2" r="8.6" fill="rgb(20, 190, 200)"/><circle cx="604.5" cy="434.4" r="8.6" fill="rgb(20, 190, 200)"/><circle cx="625.6" cy="434.4" r="8.6" fill="rgb(30, 160, 225)"/><circle cx="526.7" cy="457.8" r="8.6" fill="rgb(25, 186, 190)"/><circle cx="547.8" cy="457.8" r="8.6" fill="rgb(20, 190, 200)"/><circle cx="568.8" cy="457.6" r="8.6" fill="rgb(30, 185, 175)"/><circle cx="590.5" cy="457.5" r="8.6" fill="rgb(50, 195, 160)"/><circle cx="613.6" cy="455.6" r="8.6" fill="rgb(30, 160, 225)"/><circle cx="634.3" cy="457.3" r="8.6" fill="rgb(70, 105, 245)"/><circle cx="534.2" cy="479.6" r="8.6" fill="rgb(30, 160, 225)"/><circle cx="554.7" cy="479.6" r="8.6" fill="rgb(30, 160, 225)"/><circle cx="576.0" cy="479.4" r="8.6" fill="rgb(20, 190, 200)"/><circle cx="598.2" cy="479.4" r="8.6" fill="rgb(30, 160, 225)"/><circle cx="620.5" cy="479.3" r="8.6" fill="rgb(45, 135, 235)"/><circle cx="646.1" cy="475.9" r="8.6" fill="rgb(60, 40, 160)"/><circle cx="542.2" cy="500.3" r="8.6" fill="rgb(30, 185, 175)"/><circle cx="562.2" cy="500.3" r="8.6" fill="rgb(25, 186, 190)"/><circle cx="583.2" cy="500.3" r="8.6" fill="rgb(30, 160, 225)"/><circle cx="604.4" cy="500.2" r="8.6" fill="rgb(45, 135, 235)"/><circle cx="628.2" cy="500.2" r="8.6" fill="rgb(70, 105, 245)"/><circle cx="648.8" cy="499.9" r="8.6" fill="rgb(45, 135, 235)"/><circle cx="549.9" cy="522.7" r="8.6" fill="rgb(50, 195, 160)"/><circle cx="571.4" cy="522.7" r="8.6" fill="rgb(45, 135, 235)"/><circle cx="592.5" cy="520.8" r="8.6" fill="rgb(20, 190, 200)"/><circle cx="613.2" cy="524.7" r="8.6" fill="rgb(45, 135, 235)"/><circle cx="634.5" cy="522.6" r="8.6" fill="rgb(45, 135, 235)"/><circle cx="656.7" cy="522.6" r="8.6" fill="rgb(70, 105, 245)"/></g>
<text x="0.00" y="0.00" font-size="12.8" text-anchor="start" fill="#111" transform="translate(649.8,447.6) rotate(75)">distortion</text>
<text x="0.00" y="0.00" font-size="18.0" text-anchor="start" fill="#000" transform="translate(472.4,402.2) scale(1.1,1)">i</text>
</svg></div>
<script>
(function(){
function mulberry32(a){return function(){a|=0;a=a+0x6D2B79F5|0;var t=Math.imul(a^a>>>15,1|a);t=t+Math.imul(t^t>>>7,61|t)^t;return((t^t>>>14)>>>0)/4294967296;}}
function cmap(stops, v){
  if(v<=stops[0][0]) return stops[0][1];
  for(var i=1;i<stops.length;i++){ if(v<=stops[i][0]){ var a=stops[i-1], b=stops[i], t=(v-a[0])/(b[0]-a[0]);
      return [a[1][0]+(b[1][0]-a[1][0])*t, a[1][1]+(b[1][1]-a[1][1])*t, a[1][2]+(b[1][2]-a[1][2])*t]; } }
  return stops[stops.length-1][1];
}
function sig(x){return 1/(1+Math.exp(-x));}
function G(x,s){return Math.exp(-0.5*(x/s)*(x/s));}
// ---------- panel a ----------
var SA=[[0,[0,0,255]],[500,[0,100,255]],[1000,[0,180,255]],[1250,[0,212,250]],[1450,[0,228,245]],[1700,[0,235,180]],[2000,[0,222,40]],
        [2300,[90,225,0]],[2600,[170,235,0]],[3000,[250,240,0]],[3400,[255,170,0]],[3750,[250,90,0]],[4000,[235,10,0]]];
(function(){
  var c=document.getElementById('cA'), ctx=c.getContext('2d'), W=c.width, H=c.height;
  var img=ctx.createImageData(W,H), d=img.data, rnd=mulberry32(7);
  var NS=W*6, streak=new Float32Array(NS); for(var i=0;i<NS;i++) streak[i]=(rnd()-0.5);
  var st=new Float32Array(NS); for(var i=0;i<NS;i++){var s=0,n=0;for(var k=-3;k<=3;k++){var j=i+k;if(j>=0&&j<NS){s+=streak[j];n++;}} st[i]=s/n;}
  var X0=31.9-32, X1=212.2-32, Y0=4.7-4, Y1=157.9-4;
  var pk=[[37.0,2600,4100],[42.97,3500,4700],[62.45,2450,3000],[74.8,1550,1800],[78.7,1400,1550]];
  function L(d,w){return 1/(1+(d/w)*(d/w));}
  function val(sx, sy){
    var tt=25+(sx-X0)/(X1-X0)*55, T=50+(Y1-sy)/(Y1-Y0)*600;
    var Tb = 221 + 20*sig((tt-31)/1.5) + 36*L(tt-37.0,0.8)+28*G(tt-37.0,tt<37?2.8:1.2) + 36*L(tt-42.97,0.7)+24*G(tt-42.97,tt<42.97?1.2:2.3) + 25*L(tt-62.45,0.6)+14*G(tt-62.45,1.6);
    var low = 1 - sig((T-Tb)/6);
    var hi = sig((T-290)/6);
    var up = 1150*hi + 990*(1-hi);
    up -= 80*G(T-268,14)*sig((tt-46)/1.5);
    up -= 280*G(T-230,6)*sig((29.0-tt)/1.2);
    var str = 200*st[Math.max(0,Math.min(NS-1,Math.floor(sx*6)))];
    var lowv = 1300 + 300*G(tt-35.5,2.8) + 200*G(tt-41.5,2.4) + 120*G(tt-62.4,1.8) + 40*G(tt-74.8,1.5);
    lowv += (200*G(tt-37.0,0.9) + 220*G(tt-42.97,0.8) + 220*G(tt-62.45,0.7))*G(T-Tb,20)*sig((T-215)/8);
    var pv = 0;
    for(var k=0;k<pk.length;k++){
      var p=pk[k], f=Math.max(0,Math.min(1,(T-300)/350));
      var tot=p[1]+(p[2]-p[1])*f;
      var a=tot-1150;
      if(k==3) a*= sig((T-290)/4);
      if(k==4) a*= 0.5+0.5*sig((T-290)/4);
      var sw = 0.40 + (k<3?0.5:0.1)*sig((305-T)/14);
      pv += a*Math.pow(0.40/sw,1.0)*G(tt-p[0],sw);
    }
    return low*(lowv + 0.8*pv*sig((T-262)/8)) + (1-low)*(up+pv) + str;
  }
  for(var py=0;py<H;py++){ for(var px=0;px<W;px++){
    var v=(val(px+0.17,py+0.5)+val(px+0.5,py+0.5)+val(px+0.83,py+0.5))/3;
    var col=cmap(SA,v); var o=(py*W+px)*4; d[o]=col[0]; d[o+1]=col[1]; d[o+2]=col[2]; d[o+3]=255;
  }}
  ctx.putImageData(img,0,0);
})();
// ---------- panel f ----------
var SF=[[0,[0,0,230]],[0.5,[0,70,255]],[1.0,[0,150,255]],[1.5,[0,210,250]],[2.0,[0,232,215]],[2.5,[0,235,140]],[3.0,[0,230,60]],
        [3.5,[40,225,10]],[4.0,[120,230,0]],[4.5,[230,240,0]],[5.0,[255,200,0]],[5.5,[255,130,0]],[6.0,[255,50,0]],[6.2,[245,0,0]]];
function blob(u,v,b){ var du=(u-b[0])/b[2], dv=(v-b[1])/b[3]; var r2=du*du+dv*dv; return b[4]*Math.exp(-Math.pow(r2,b[5]/2)); }
var FM=[{base:0.3, blobs:[[0.675,0.425,0.34,0.16,14,2.5],[0.6,0.42,0.47,0.28,2.0,2],[0.45,0.08,0.22,0.12,0.6,2],[0.3,0.12,0.12,0.25,0.7,2],[0.88,0.08,0.12,0.1,0.5,2],[0.62,0.07,0.055,0.05,-1.5,2],[0.87,0.68,0.1,0.045,-1.0,2],[0.5,0.84,0.35,0.06,-0.3,2]]},{base:0.4, blobs:[[0.6,0.25,0.21,0.095,2.6,2],[0.52,0.27,0.45,0.23,2.8,2],[0.5,0.6,0.45,0.3,0.8,2],[0.42,0.75,0.3,0.1,1.6,2],[0.33,0.54,0.1,0.04,-1.4,2],[0.79,0.465,0.09,0.035,-1.6,2],[0.99,0.69,0.07,0.07,-0.8,2],[0.55,0.91,0.33,0.04,-0.7,2],[0.95,0.0,0.1,0.1,-0.4,2],[0.0,0.5,0.08,0.6,-0.5,2],[0.05,0.03,0.15,0.12,-0.5,2]]},{base:0.3, blobs:[[0.695,0.265,0.28,0.095,14,2.5],[0.55,0.3,0.5,0.32,2.5,2],[0.0,0.0,0.2,0.2,-0.6,2],[0.45,0.735,0.35,0.11,2.6,2],[0.56,0.5,0.12,0.1,0.5,2],[0.32,0.55,0.11,0.04,-2.4,2],[0.8,0.48,0.085,0.032,-2.4,2],[0.95,0.9,0.12,0.07,-1.0,2]]},{base:0.3, blobs:[[0.64,0.265,0.255,0.105,14,2.5],[0.55,0.3,0.5,0.32,2.5,2],[0.0,0.0,0.22,0.22,-0.7,2],[0.48,0.72,0.4,0.11,2.8,2],[0.56,0.52,0.12,0.1,0.5,2],[0.32,0.55,0.11,0.04,-2.4,2],[0.8,0.505,0.085,0.032,-2.4,2],[0.93,0.87,0.12,0.07,-1.0,2]]}];
(function(){
  var c=document.getElementById('cF'), ctx=c.getContext('2d'), W=c.width, H=c.height, ox=493, oy=197;
  var img=ctx.createImageData(W,H), d=img.data;
  var boxes=[[493.3,197.2,581.2,273.0],[582.6,197.2,670.4,273.0],[493.3,275.3,581.2,351.8],[582.6,275.3,670.4,351.8]];
  for(var py=0;py<H;py++){ for(var px=0;px<W;px++){
    var x=ox+px+0.5, y=oy+py+0.5, o=(py*W+px)*4;
    var bi=-1; for(var k=0;k<4;k++){var b=boxes[k]; if(x>=b[0]-0.5&&x<=b[2]+0.5&&y>=b[1]-0.5&&y<=b[3]+0.5){bi=k;break;}}
    if(bi<0){d[o]=255;d[o+1]=255;d[o+2]=255;d[o+3]=255;continue;}
    var b=boxes[bi], u=(x-b[0])/(b[2]-b[0]), v=(y-b[1])/(b[3]-b[1]), m=FM[bi];
    var val=m.base; for(var q=0;q<m.blobs.length;q++) val+=blob(u,v,m.blobs[q]);
    var col=cmap(SF,val); d[o]=col[0]; d[o+1]=col[1]; d[o+2]=col[2]; d[o+3]=255;
  }}
  ctx.putImageData(img,0,0);
})();
// ---------- panel g ----------
(function(){
  var c=document.getElementById('cG'), ctx=c.getContext('2d'), W=c.width, H=c.height, ox=32, oy=391;
  var rnd=mulberry32(11);
  var poly=[[79.9,400.8],[160.9,400.8],[172.3,436.5],[164.5,444.0],[184.7,513.0],[170.7,517.7],[163.7,531.8],[151.2,531.8],
            [151.2,539.9],[86.9,541.2],[76.0,502.1],[65.9,502.1],[51.1,461.4],[60.4,445.8],[58.4,436.5]];
  function inside(x,y){var c=false;for(var i=0,j=poly.length-1;i<poly.length;j=i++){var xi=poly[i][0],yi=poly[i][1],xj=poly[j][0],yj=poly[j][1];
     if(((yi>y)!=(yj>y))&&(x<(xj-xi)*(y-yi)/(yj-yi)+xi)) c=!c;} return c;}
  var N=W*H, f=new Float32Array(N), m=new Float32Array(N);
  function blur(a, r){ var b=new Float32Array(N);
    for(var y=0;y<H;y++){ for(var x=0;x<W;x++){ var s=0,n=0; for(var k=-r;k<=r;k++){var q=x+k; if(q>=0&&q<W){s+=a[y*W+q];n++;}} b[y*W+x]=s/n; } }
    for(var y=0;y<H;y++){ for(var x=0;x<W;x++){ var s=0,n=0; for(var k=-r;k<=r;k++){var q=y+k; if(q>=0&&q<H){s+=b[q*W+x];n++;}} a[y*W+x]=s/n; } } }
  for(var py=0;py<H;py++){ for(var px=0;px<W;px++){
    var x=ox+px+0.5, y=oy+py+0.5, i=py*W+px, ins=inside(x,y);
    var bi=36 + 60*Math.exp(-(y-401)/10) + 25*Math.exp(-((x-155)*(x-155)+(y-415)*(y-415))/250) + 22*sig((x-145)/7) + 18*sig((y-515)/8);
    var bo;
    if(x<118){ bo=134 + 18*Math.exp(-((x-40)*(x-40))/220) - 10*(y-470)/80 - 28*sig((x-52)/5); }
    else { bo=98 - 42*Math.exp(-((x-186)*(x-186)/220+(y-452)*(y-452)/700)) + 12*Math.exp(-((x-212)*(x-212))/150); }
    bo -= 95*Math.exp(-((x-74)*(x-74)/140+(y-520)*(y-520)/400));
    f[i]= ins? bi : bo; m[i]= ins?1:0;
  }}
  blur(f,5); blur(f,5); blur(f,4); blur(m,1);
  var vac=[[82.3,444.3],[163.4,435.7],[163.7,459.3],[77.9,496.3],[166.5,510.2]];
  for(var j=-9;j<=16;j++){ for(var ii=-14;ii<=30;ii++){
    var cx=94.1+ii*7.6+j*2.8 + (rnd()-0.5)*0.9, cy=436.2+j*7.55 + (rnd()-0.5)*0.9;
    if(cx<ox-4||cx>ox+W+4||cy<oy-4||cy>oy+H+4) continue;
    var ins=inside(cx,cy), a;
    if(ins){ a=72+45*rnd(); if(cy<410) a*=0.55; }
    else if(cx<118){ a=30+30*rnd(); }
    else { a=10+22*rnd(); }
    for(var k=0;k<vac.length;k++){ var dx=cx-vac[k][0], dy=cy-vac[k][1]; if(dx*dx+dy*dy<6) a=15; }
    var sx=ins?1.6:1.7, sy=ins?1.05:1.5;
    for(var yy=Math.floor(cy-5);yy<=Math.ceil(cy+5);yy++){ for(var xx=Math.floor(cx-5);xx<=Math.ceil(cx+5);xx++){
      var px=xx-ox, py=yy-oy; if(px<0||py<0||px>=W||py>=H) continue;
      var dx=xx+0.5-cx, dy=yy+0.5-cy; var uu=(dx-dy)*0.7071, vv=(dx+dy)*0.7071; f[py*W+px]+=a*Math.exp(-(uu*uu/(2*sx*sx)+vv*vv/(2*sy*sy)));
    }}
  }}
  var nz=new Float32Array(N); for(var i=0;i<N;i++) nz[i]=(rnd()+rnd()+rnd()-1.5)*42;
  var img=ctx.createImageData(W,H), d=img.data;
  for(var py=0;py<H;py++){ for(var px=0;px<W;px++){
    var s=0,n=0; for(var dy=-1;dy<=1;dy++)for(var dx=-1;dx<=1;dx++){var qx=px+dx,qy=py+dy; if(qx>=0&&qy>=0&&qx<W&&qy<H){s+=nz[qy*W+qx];n++;}}
    var i=py*W+px, v=f[i]+s/n; v=Math.max(0,Math.min(255,v)); var o=i*4; d[o]=v; d[o+1]=v; d[o+2]=v; d[o+3]=255;
  }}
  ctx.putImageData(img,0,0);
})();
})();
</script>
</body></html>
